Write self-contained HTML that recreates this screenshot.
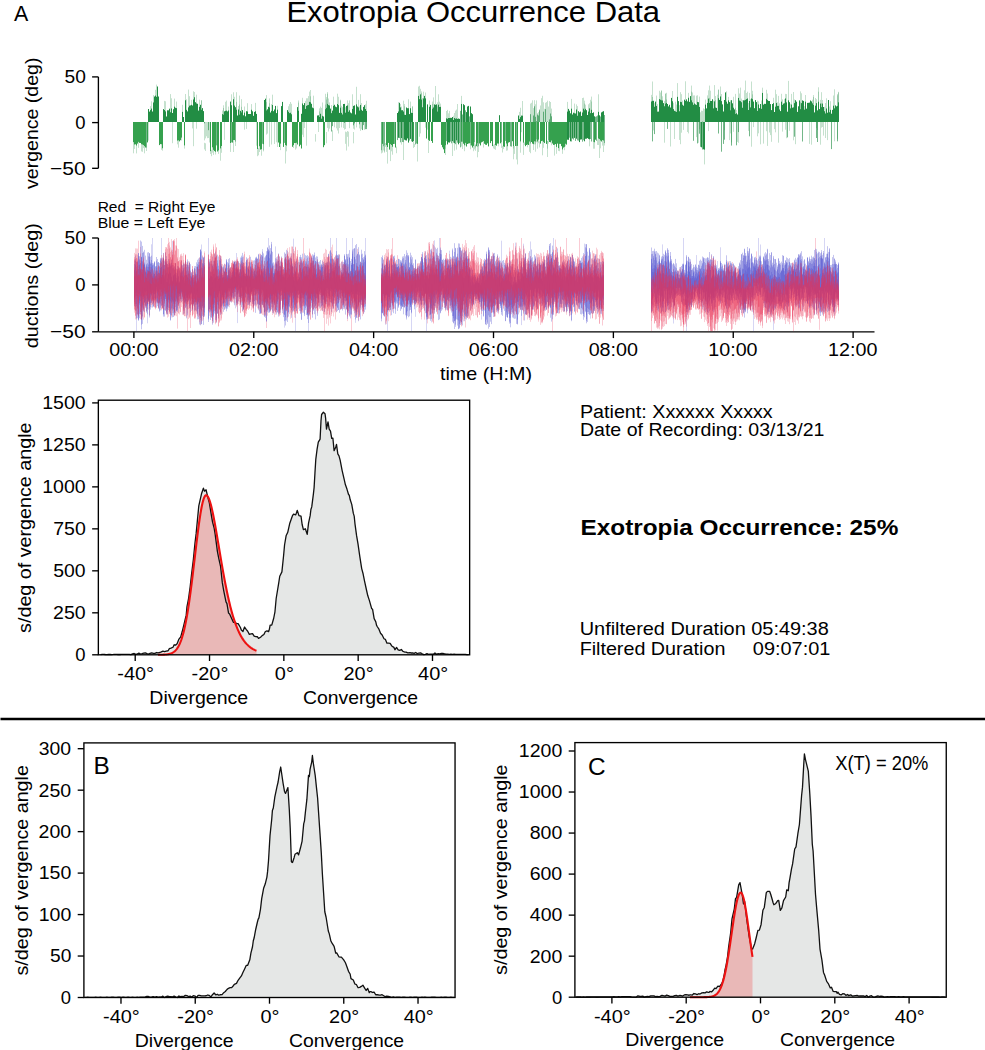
<!DOCTYPE html>
<html><head><meta charset="utf-8"><style>
html,body{margin:0;padding:0;background:#fff;}
svg{display:block;}
text{font-family:"Liberation Sans", sans-serif;}
</style></head><body>
<svg width="985" height="1050" viewBox="0 0 985 1050">
<rect width="985" height="1050" fill="#fff"/>
<text transform="translate(14.09,20.8) scale(0.96,1)" font-size="22.3" font-weight="normal" fill="#000" xml:space="preserve">A</text>
<text transform="translate(286.43,22.2) scale(1.05,1)" font-size="29.51" font-weight="normal" fill="#000" xml:space="preserve">Exotropia Occurrence Data</text>
<line x1="98.4" y1="76.9" x2="98.4" y2="168.3" stroke="#000" stroke-width="1.35" />
<line x1="92.1" y1="76.9" x2="98.4" y2="76.9" stroke="#000" stroke-width="1.35" />
<text transform="translate(64.47,83.24) scale(1.04,1)" font-size="18.44" font-weight="normal" fill="#000" xml:space="preserve">50</text>
<line x1="92.1" y1="122.6" x2="98.4" y2="122.6" stroke="#000" stroke-width="1.35" />
<text transform="translate(75.37,128.94) scale(1,1)" font-size="18.44" font-weight="normal" fill="#000" xml:space="preserve">0</text>
<line x1="92.1" y1="168.3" x2="98.4" y2="168.3" stroke="#000" stroke-width="1.35" />
<text transform="translate(50.09,174.64) scale(1.14,1)" font-size="18.44" font-weight="normal" fill="#000" xml:space="preserve">−50</text>
<text transform="translate(37.9,189) rotate(-90) scale(1.06,1)" font-size="18.44" xml:space="preserve">vergence (deg)</text>
<line x1="98.4" y1="238" x2="98.4" y2="331.8" stroke="#000" stroke-width="1.35" />
<line x1="98.4" y1="331.8" x2="874.5" y2="331.8" stroke="#000" stroke-width="1.35" />
<line x1="92.1" y1="238" x2="98.4" y2="238" stroke="#000" stroke-width="1.35" />
<text transform="translate(64.47,244.34) scale(1.04,1)" font-size="18.44" font-weight="normal" fill="#000" xml:space="preserve">50</text>
<line x1="92.1" y1="284.9" x2="98.4" y2="284.9" stroke="#000" stroke-width="1.35" />
<text transform="translate(75.37,291.24) scale(1,1)" font-size="18.44" font-weight="normal" fill="#000" xml:space="preserve">0</text>
<line x1="92.1" y1="331.8" x2="98.4" y2="331.8" stroke="#000" stroke-width="1.35" />
<text transform="translate(50.09,338.14) scale(1.14,1)" font-size="18.44" font-weight="normal" fill="#000" xml:space="preserve">−50</text>
<text transform="translate(38.1,348.19) rotate(-90) scale(1.07,1)" font-size="18.44" xml:space="preserve">ductions (deg)</text>
<line x1="133.9" y1="331.8" x2="133.9" y2="338.1" stroke="#000" stroke-width="1.35" />
<text transform="translate(109.18,356.2) scale(1.07,1)" font-size="18.44" font-weight="normal" fill="#000" xml:space="preserve">00:00</text>
<line x1="253.77" y1="331.8" x2="253.77" y2="338.1" stroke="#000" stroke-width="1.35" />
<text transform="translate(229.05,356.2) scale(1.07,1)" font-size="18.44" font-weight="normal" fill="#000" xml:space="preserve">02:00</text>
<line x1="373.64" y1="331.8" x2="373.64" y2="338.1" stroke="#000" stroke-width="1.35" />
<text transform="translate(348.92,356.2) scale(1.07,1)" font-size="18.44" font-weight="normal" fill="#000" xml:space="preserve">04:00</text>
<line x1="493.51" y1="331.8" x2="493.51" y2="338.1" stroke="#000" stroke-width="1.35" />
<text transform="translate(468.79,356.2) scale(1.07,1)" font-size="18.44" font-weight="normal" fill="#000" xml:space="preserve">06:00</text>
<line x1="613.38" y1="331.8" x2="613.38" y2="338.1" stroke="#000" stroke-width="1.35" />
<text transform="translate(588.66,356.2) scale(1.07,1)" font-size="18.44" font-weight="normal" fill="#000" xml:space="preserve">08:00</text>
<line x1="733.25" y1="331.8" x2="733.25" y2="338.1" stroke="#000" stroke-width="1.35" />
<text transform="translate(708.24,356.2) scale(1.07,1)" font-size="18.44" font-weight="normal" fill="#000" xml:space="preserve">10:00</text>
<line x1="853.12" y1="331.8" x2="853.12" y2="338.1" stroke="#000" stroke-width="1.35" />
<text transform="translate(828.11,356.2) scale(1.07,1)" font-size="18.44" font-weight="normal" fill="#000" xml:space="preserve">12:00</text>
<text transform="translate(440,380.2) scale(1.07,1)" font-size="18.44" font-weight="normal" fill="#000" xml:space="preserve">time (H:M)</text>
<text transform="translate(97.65,212.1) scale(1.05,1)" font-size="14.8" font-weight="normal" fill="#000" xml:space="preserve">Red  = Right Eye</text>
<text transform="translate(97.63,227.8) scale(1.07,1)" font-size="14.8" font-weight="normal" fill="#000" xml:space="preserve">Blue = Left Eye</text>
<text transform="translate(579.92,417.6) scale(1.07,1)" font-size="18.44" font-weight="normal" fill="#000" xml:space="preserve">Patient: Xxxxxx Xxxxx</text>
<text transform="translate(579.93,436.2) scale(1.06,1)" font-size="18.44" font-weight="normal" fill="#000" xml:space="preserve">Date of Recording: 03/13/21</text>
<text transform="translate(580.51,534.6) scale(1.1,1)" font-size="22.12" font-weight="bold" fill="#000" xml:space="preserve">Exotropia Occurrence: 25%</text>
<text transform="translate(579.7,635.3) scale(1.08,1)" font-size="18.44" font-weight="normal" fill="#000" xml:space="preserve">Unfiltered Duration 05:49:38</text>
<text transform="translate(579.63,654.7) scale(1.07,1)" font-size="18.44" font-weight="normal" fill="#000" xml:space="preserve">Filtered Duration</text>
<text transform="translate(752.81,654.7) scale(1.08,1)" font-size="18.44" font-weight="normal" fill="#000" xml:space="preserve">09:07:01</text>
<line x1="0.5" y1="719" x2="985" y2="719" stroke="#000" stroke-width="2.3" />
<path d="M100.55,654.8 L100.55,654.59 L102.15,654.43 L103.75,654.44 L105.35,654.51 L106.95,654.53 L108.55,654.49 L110.15,654.48 L111.75,654.53 L113.35,654.45 L114.95,654.31 L116.55,654.34 L118.15,654.5 L120,654.48 L121.35,654.46 L122.95,654.4 L124.55,654.35 L126.15,654.28 L127.75,654.32 L129.35,654.29 L130.95,654.62 L132.55,653.81 L134.15,653.45 L135.75,654.39 L137.35,653.81 L138.95,653.12 L140,653.97 L142.15,653.72 L143.75,653.22 L145.35,652.95 L146.95,653.7 L148.55,654.1 L150,653.46 L151.75,652.84 L153.35,653.34 L154.95,653.36 L156.55,652.52 L158.15,652.88 L160,652.51 L161.35,651.86 L162.95,651.06 L164.55,651.54 L166.15,651.12 L168.1,650.76 L169.35,648.69 L170.95,648.19 L173,647.27 L174.15,644.77 L175.75,645.01 L177.1,643.76 L178.95,639.06 L180.7,636.91 L182.15,631.8 L183.75,625.3 L185.35,618.69 L186.2,615.17 L186.95,606.86 L188.55,598.55 L190.15,586.83 L191.6,573.74 L193.35,559.54 L194.95,543.3 L196.1,533.91 L198.8,505.82 L199.75,501.68 L201.5,493.8 L203.4,488.21 L204.55,491.17 L206.1,489.81 L207.9,497.53 L209.35,502.89 L211.5,516.1 L212.55,522.13 L214.15,528.05 L215.1,533.8 L217.35,551.1 L218.7,558.08 L220.55,566.27 L222.3,582.66 L223.75,590.83 L226,601.95 L226.95,603.55 L228.55,613.14 L229.6,614.08 L231.75,618.83 L233.35,622.35 L235,622.07 L236.55,623.67 L238.15,623.57 L240.4,627.5 L241.35,630.01 L242.95,631.49 L244.55,626.99 L246.15,629.45 L247.7,631.29 L249.35,634.33 L250.95,633.98 L252.55,633.69 L254.15,636.21 L254.9,636.39 L255.75,636.58 L257.35,636.74 L258.5,638.34 L260.55,637.21 L262.15,635.65 L263.9,634.52 L265.35,631.5 L266.95,630.95 L268.55,631.69 L269.4,629.12 L270.15,625.19 L271.75,625.09 L273.7,618.25 L274.95,611.8 L276.2,598.24 L278.7,583.11 L279.75,576.24 L281.9,571.89 L283.6,555.46 L284.55,544.99 L286.1,535.8 L287.75,532.34 L289.8,523.23 L290.95,520.09 L292.55,515.57 L293.5,514.16 L295.75,514.88 L297.3,510.32 L298.95,515.63 L301,516.15 L302.15,524.48 L303.4,529.61 L305.35,528.78 L307.2,534.42 L308.55,523.16 L310.15,515.64 L310.9,509.46 L311.75,506.88 L313.35,494.34 L314.1,487.62 L314.95,473 L315.8,459.33 L317.1,449.18 L318.3,442.11 L320.1,439.06 L321,420.73 L321.6,414.5 L323.4,412.27 L325,413.64 L325.6,418.08 L326.5,429.13 L328,421.84 L329.2,429.12 L330.5,431.09 L331.7,438.35 L332.9,438.27 L334.1,450.69 L335.75,447.02 L336.5,444.44 L337.8,453.89 L339,455.8 L340.2,460.37 L342.15,470.62 L344.3,479.82 L345.35,484.58 L346.95,489.07 L348.55,494.52 L349.3,495.28 L350.15,499.57 L351.75,504.42 L353.35,513.4 L354.2,516.11 L354.95,523.55 L356.55,535.46 L358,543.93 L359.75,556.19 L361.7,568.56 L362.95,573.21 L364.55,581.12 L366.6,590.5 L367.75,595.53 L369.35,600.34 L371.6,608.41 L372.55,609.21 L374.15,618.58 L375.75,621.68 L376.5,625.18 L377.35,626.76 L378.95,629.17 L380.55,633.23 L382.15,635.03 L384,638.73 L385.35,639.33 L386.95,643.13 L388.55,643.15 L390.15,643.33 L391.75,645.92 L393.9,647.38 L394.95,649.76 L396.55,647.49 L398.15,649.78 L399.75,650.42 L401.35,649.47 L402.95,651.4 L403.8,651.72 L404.55,651.98 L406.15,652.14 L407.75,652.91 L410,652.73 L410.95,652.98 L412.55,652.8 L414.15,653.39 L415.75,652.52 L417.35,653.7 L418.95,653.02 L420.55,652.8 L422.15,653.76 L423.75,654.63 L425.35,654.31 L426.95,653.6 L428.55,654.37 L430,654.03 L431.75,654.06 L433.35,654.19 L434.95,652.97 L436.55,654.28 L438.15,653.68 L439.75,653.87 L441.35,653.5 L442.95,653.5 L444.55,653.81 L446.15,654.2 L447.75,654.12 L449.35,654.34 L450.95,654.23 L452.55,654.35 L454.15,654.18 L455.75,654.41 L457.35,654.39 L458.95,654.42 L460.55,654.45 L462.15,654.44 L463.75,654.43 L465.35,654.38 L466.95,654.54 L468.55,654.56 L468.55,654.8 Z" fill="#e5e7e6" stroke="none"/>
<path d="M158,654.8 L158,654.78 L158.5,654.77 L159,654.77 L159.5,654.76 L160,654.75 L160.5,654.75 L161,654.74 L161.5,654.72 L162,654.71 L162.5,654.69 L163,654.67 L163.5,654.65 L164,654.62 L164.5,654.59 L165,654.56 L165.5,654.52 L166,654.47 L166.5,654.42 L167,654.35 L167.5,654.28 L168,654.2 L168.5,654.1 L169,654 L169.5,653.87 L170,653.74 L170.5,653.58 L171,653.4 L171.5,653.2 L172,652.97 L172.5,652.72 L173,652.44 L173.5,652.12 L174,651.76 L174.5,651.37 L175,650.93 L175.5,650.44 L176,649.9 L176.5,649.31 L177,648.65 L177.5,647.93 L178,647.14 L178.5,646.27 L179,645.33 L179.5,644.3 L180,643.18 L180.5,641.96 L181,640.65 L181.5,639.23 L182,637.7 L182.5,636.06 L183,634.3 L183.5,632.42 L184,630.42 L184.5,628.28 L185,626.01 L185.5,623.61 L186,621.07 L186.5,618.4 L187,615.58 L187.5,612.64 L188,609.56 L188.5,606.34 L189,603 L189.5,599.53 L190,595.95 L190.5,592.25 L191,588.45 L191.5,584.55 L192,580.56 L192.5,576.5 L193,572.38 L193.5,568.2 L194,563.99 L194.5,559.76 L195,555.52 L195.5,551.29 L196,547.08 L196.5,542.93 L197,538.83 L197.5,534.81 L198,530.9 L198.5,527.1 L199,523.43 L199.5,519.92 L200,516.59 L200.5,513.44 L201,510.5 L201.5,507.78 L202,505.29 L202.5,503.06 L203,501.09 L203.5,499.39 L204,497.97 L204.5,496.85 L205,496.02 L205.5,495.49 L206,495.27 L206.5,495.33 L207,495.63 L207.5,496.15 L208,496.88 L208.5,497.83 L209,498.97 L209.5,500.3 L210,501.81 L210.5,503.49 L211,505.33 L211.5,507.31 L212,509.43 L212.5,511.68 L213,514.04 L213.5,516.51 L214,519.08 L214.5,521.72 L215,524.45 L215.5,527.23 L216,530.07 L216.5,532.96 L217,535.88 L217.5,538.83 L218,541.81 L218.5,544.79 L219,547.78 L219.5,550.77 L220,553.74 L220.5,556.71 L221,559.65 L221.5,562.57 L222,565.47 L222.5,568.32 L223,571.14 L223.5,573.92 L224,576.65 L224.5,579.33 L225,581.96 L225.5,584.54 L226,587.07 L226.5,589.54 L227,591.95 L227.5,594.3 L228,596.6 L228.5,598.83 L229,601 L229.5,603.11 L230,605.16 L230.5,607.15 L231,609.07 L231.5,610.94 L232,612.75 L232.5,614.49 L233,616.18 L233.5,617.81 L234,619.39 L234.5,620.91 L235,622.37 L235.5,623.78 L236,625.14 L236.5,626.45 L237,627.7 L237.5,628.91 L238,630.07 L238.5,631.19 L239,632.26 L239.5,633.29 L240,634.28 L240.5,635.22 L241,636.13 L241.5,636.99 L242,637.83 L242.5,638.62 L243,639.38 L243.5,640.11 L244,640.81 L244.5,641.47 L245,642.11 L245.5,642.72 L246,643.3 L246.5,643.85 L247,644.38 L247.5,644.88 L248,645.37 L248.5,645.82 L249,646.26 L249.5,646.68 L250,647.08 L250.5,647.46 L251,647.82 L251.5,648.16 L252,648.49 L252.5,648.8 L253,649.1 L253.5,649.38 L254,649.65 L254.5,649.91 L255,650.15 L255.5,650.38 L256,650.61 L256.5,650.82 L256.5,654.8 Z" fill="#e9b8b7" stroke="none"/>
<path d="M100.55,654.59 L102.15,654.43 L103.75,654.44 L105.35,654.51 L106.95,654.53 L108.55,654.49 L110.15,654.48 L111.75,654.53 L113.35,654.45 L114.95,654.31 L116.55,654.34 L118.15,654.5 L120,654.48 L121.35,654.46 L122.95,654.4 L124.55,654.35 L126.15,654.28 L127.75,654.32 L129.35,654.29 L130.95,654.62 L132.55,653.81 L134.15,653.45 L135.75,654.39 L137.35,653.81 L138.95,653.12 L140,653.97 L142.15,653.72 L143.75,653.22 L145.35,652.95 L146.95,653.7 L148.55,654.1 L150,653.46 L151.75,652.84 L153.35,653.34 L154.95,653.36 L156.55,652.52 L158.15,652.88 L160,652.51 L161.35,651.86 L162.95,651.06 L164.55,651.54 L166.15,651.12 L168.1,650.76 L169.35,648.69 L170.95,648.19 L173,647.27 L174.15,644.77 L175.75,645.01 L177.1,643.76 L178.95,639.06 L180.7,636.91 L182.15,631.8 L183.75,625.3 L185.35,618.69 L186.2,615.17 L186.95,606.86 L188.55,598.55 L190.15,586.83 L191.6,573.74 L193.35,559.54 L194.95,543.3 L196.1,533.91 L198.8,505.82 L199.75,501.68 L201.5,493.8 L203.4,488.21 L204.55,491.17 L206.1,489.81 L207.9,497.53 L209.35,502.89 L211.5,516.1 L212.55,522.13 L214.15,528.05 L215.1,533.8 L217.35,551.1 L218.7,558.08 L220.55,566.27 L222.3,582.66 L223.75,590.83 L226,601.95 L226.95,603.55 L228.55,613.14 L229.6,614.08 L231.75,618.83 L233.35,622.35 L235,622.07 L236.55,623.67 L238.15,623.57 L240.4,627.5 L241.35,630.01 L242.95,631.49 L244.55,626.99 L246.15,629.45 L247.7,631.29 L249.35,634.33 L250.95,633.98 L252.55,633.69 L254.15,636.21 L254.9,636.39 L255.75,636.58 L257.35,636.74 L258.5,638.34 L260.55,637.21 L262.15,635.65 L263.9,634.52 L265.35,631.5 L266.95,630.95 L268.55,631.69 L269.4,629.12 L270.15,625.19 L271.75,625.09 L273.7,618.25 L274.95,611.8 L276.2,598.24 L278.7,583.11 L279.75,576.24 L281.9,571.89 L283.6,555.46 L284.55,544.99 L286.1,535.8 L287.75,532.34 L289.8,523.23 L290.95,520.09 L292.55,515.57 L293.5,514.16 L295.75,514.88 L297.3,510.32 L298.95,515.63 L301,516.15 L302.15,524.48 L303.4,529.61 L305.35,528.78 L307.2,534.42 L308.55,523.16 L310.15,515.64 L310.9,509.46 L311.75,506.88 L313.35,494.34 L314.1,487.62 L314.95,473 L315.8,459.33 L317.1,449.18 L318.3,442.11 L320.1,439.06 L321,420.73 L321.6,414.5 L323.4,412.27 L325,413.64 L325.6,418.08 L326.5,429.13 L328,421.84 L329.2,429.12 L330.5,431.09 L331.7,438.35 L332.9,438.27 L334.1,450.69 L335.75,447.02 L336.5,444.44 L337.8,453.89 L339,455.8 L340.2,460.37 L342.15,470.62 L344.3,479.82 L345.35,484.58 L346.95,489.07 L348.55,494.52 L349.3,495.28 L350.15,499.57 L351.75,504.42 L353.35,513.4 L354.2,516.11 L354.95,523.55 L356.55,535.46 L358,543.93 L359.75,556.19 L361.7,568.56 L362.95,573.21 L364.55,581.12 L366.6,590.5 L367.75,595.53 L369.35,600.34 L371.6,608.41 L372.55,609.21 L374.15,618.58 L375.75,621.68 L376.5,625.18 L377.35,626.76 L378.95,629.17 L380.55,633.23 L382.15,635.03 L384,638.73 L385.35,639.33 L386.95,643.13 L388.55,643.15 L390.15,643.33 L391.75,645.92 L393.9,647.38 L394.95,649.76 L396.55,647.49 L398.15,649.78 L399.75,650.42 L401.35,649.47 L402.95,651.4 L403.8,651.72 L404.55,651.98 L406.15,652.14 L407.75,652.91 L410,652.73 L410.95,652.98 L412.55,652.8 L414.15,653.39 L415.75,652.52 L417.35,653.7 L418.95,653.02 L420.55,652.8 L422.15,653.76 L423.75,654.63 L425.35,654.31 L426.95,653.6 L428.55,654.37 L430,654.03 L431.75,654.06 L433.35,654.19 L434.95,652.97 L436.55,654.28 L438.15,653.68 L439.75,653.87 L441.35,653.5 L442.95,653.5 L444.55,653.81 L446.15,654.2 L447.75,654.12 L449.35,654.34 L450.95,654.23 L452.55,654.35 L454.15,654.18 L455.75,654.41 L457.35,654.39 L458.95,654.42 L460.55,654.45 L462.15,654.44 L463.75,654.43 L465.35,654.38 L466.95,654.54 L468.55,654.56" fill="none" stroke="#111" stroke-width="1.3" stroke-linejoin="round"/>
<path d="M158,654.78 L158.5,654.77 L159,654.77 L159.5,654.76 L160,654.75 L160.5,654.75 L161,654.74 L161.5,654.72 L162,654.71 L162.5,654.69 L163,654.67 L163.5,654.65 L164,654.62 L164.5,654.59 L165,654.56 L165.5,654.52 L166,654.47 L166.5,654.42 L167,654.35 L167.5,654.28 L168,654.2 L168.5,654.1 L169,654 L169.5,653.87 L170,653.74 L170.5,653.58 L171,653.4 L171.5,653.2 L172,652.97 L172.5,652.72 L173,652.44 L173.5,652.12 L174,651.76 L174.5,651.37 L175,650.93 L175.5,650.44 L176,649.9 L176.5,649.31 L177,648.65 L177.5,647.93 L178,647.14 L178.5,646.27 L179,645.33 L179.5,644.3 L180,643.18 L180.5,641.96 L181,640.65 L181.5,639.23 L182,637.7 L182.5,636.06 L183,634.3 L183.5,632.42 L184,630.42 L184.5,628.28 L185,626.01 L185.5,623.61 L186,621.07 L186.5,618.4 L187,615.58 L187.5,612.64 L188,609.56 L188.5,606.34 L189,603 L189.5,599.53 L190,595.95 L190.5,592.25 L191,588.45 L191.5,584.55 L192,580.56 L192.5,576.5 L193,572.38 L193.5,568.2 L194,563.99 L194.5,559.76 L195,555.52 L195.5,551.29 L196,547.08 L196.5,542.93 L197,538.83 L197.5,534.81 L198,530.9 L198.5,527.1 L199,523.43 L199.5,519.92 L200,516.59 L200.5,513.44 L201,510.5 L201.5,507.78 L202,505.29 L202.5,503.06 L203,501.09 L203.5,499.39 L204,497.97 L204.5,496.85 L205,496.02 L205.5,495.49 L206,495.27 L206.5,495.33 L207,495.63 L207.5,496.15 L208,496.88 L208.5,497.83 L209,498.97 L209.5,500.3 L210,501.81 L210.5,503.49 L211,505.33 L211.5,507.31 L212,509.43 L212.5,511.68 L213,514.04 L213.5,516.51 L214,519.08 L214.5,521.72 L215,524.45 L215.5,527.23 L216,530.07 L216.5,532.96 L217,535.88 L217.5,538.83 L218,541.81 L218.5,544.79 L219,547.78 L219.5,550.77 L220,553.74 L220.5,556.71 L221,559.65 L221.5,562.57 L222,565.47 L222.5,568.32 L223,571.14 L223.5,573.92 L224,576.65 L224.5,579.33 L225,581.96 L225.5,584.54 L226,587.07 L226.5,589.54 L227,591.95 L227.5,594.3 L228,596.6 L228.5,598.83 L229,601 L229.5,603.11 L230,605.16 L230.5,607.15 L231,609.07 L231.5,610.94 L232,612.75 L232.5,614.49 L233,616.18 L233.5,617.81 L234,619.39 L234.5,620.91 L235,622.37 L235.5,623.78 L236,625.14 L236.5,626.45 L237,627.7 L237.5,628.91 L238,630.07 L238.5,631.19 L239,632.26 L239.5,633.29 L240,634.28 L240.5,635.22 L241,636.13 L241.5,636.99 L242,637.83 L242.5,638.62 L243,639.38 L243.5,640.11 L244,640.81 L244.5,641.47 L245,642.11 L245.5,642.72 L246,643.3 L246.5,643.85 L247,644.38 L247.5,644.88 L248,645.37 L248.5,645.82 L249,646.26 L249.5,646.68 L250,647.08 L250.5,647.46 L251,647.82 L251.5,648.16 L252,648.49 L252.5,648.8 L253,649.1 L253.5,649.38 L254,649.65 L254.5,649.91 L255,650.15 L255.5,650.38 L256,650.61 L256.5,650.82" fill="none" stroke="#ee1111" stroke-width="2.1" stroke-linejoin="round"/>
<rect x="98.35" y="400.2" width="371.3" height="254.6" fill="none" stroke="#000" stroke-width="1.35"/>
<line x1="92.15" y1="654.8" x2="98.35" y2="654.8" stroke="#000" stroke-width="1.35" />
<text transform="translate(75.37,661.14) scale(1,1)" font-size="18.44" font-weight="normal" fill="#000" xml:space="preserve">0</text>
<line x1="92.15" y1="612.82" x2="98.35" y2="612.82" stroke="#000" stroke-width="1.35" />
<text transform="translate(53.12,619.16) scale(1.06,1)" font-size="18.44" font-weight="normal" fill="#000" xml:space="preserve">250</text>
<line x1="92.15" y1="570.83" x2="98.35" y2="570.83" stroke="#000" stroke-width="1.35" />
<text transform="translate(53.32,577.18) scale(1.05,1)" font-size="18.44" font-weight="normal" fill="#000" xml:space="preserve">500</text>
<line x1="92.15" y1="528.85" x2="98.35" y2="528.85" stroke="#000" stroke-width="1.35" />
<text transform="translate(53.21,535.19) scale(1.06,1)" font-size="18.44" font-weight="normal" fill="#000" xml:space="preserve">750</text>
<line x1="92.15" y1="486.87" x2="98.35" y2="486.87" stroke="#000" stroke-width="1.35" />
<text transform="translate(42.2,493.21) scale(1.06,1)" font-size="18.44" font-weight="normal" fill="#000" xml:space="preserve">1000</text>
<line x1="92.15" y1="444.88" x2="98.35" y2="444.88" stroke="#000" stroke-width="1.35" />
<text transform="translate(42.2,451.23) scale(1.06,1)" font-size="18.44" font-weight="normal" fill="#000" xml:space="preserve">1250</text>
<line x1="92.15" y1="402.9" x2="98.35" y2="402.9" stroke="#000" stroke-width="1.35" />
<text transform="translate(42.2,409.24) scale(1.06,1)" font-size="18.44" font-weight="normal" fill="#000" xml:space="preserve">1500</text>
<line x1="135.21" y1="654.8" x2="135.21" y2="661" stroke="#000" stroke-width="1.35" />
<text transform="translate(117.3,680) scale(1.08,1)" font-size="18.44" font-weight="normal" fill="#000" xml:space="preserve">-40°</text>
<line x1="209.53" y1="654.8" x2="209.53" y2="661" stroke="#000" stroke-width="1.35" />
<text transform="translate(191.62,680) scale(1.08,1)" font-size="18.44" font-weight="normal" fill="#000" xml:space="preserve">-20°</text>
<line x1="283.85" y1="654.8" x2="283.85" y2="661" stroke="#000" stroke-width="1.35" />
<text transform="translate(274.87,680) scale(1.08,1)" font-size="18.44" font-weight="normal" fill="#000" xml:space="preserve">0°</text>
<line x1="358.17" y1="654.8" x2="358.17" y2="661" stroke="#000" stroke-width="1.35" />
<text transform="translate(343.51,680) scale(1.08,1)" font-size="18.44" font-weight="normal" fill="#000" xml:space="preserve">20°</text>
<line x1="432.49" y1="654.8" x2="432.49" y2="661" stroke="#000" stroke-width="1.35" />
<text transform="translate(418.11,680) scale(1.08,1)" font-size="18.44" font-weight="normal" fill="#000" xml:space="preserve">40°</text>
<text transform="translate(149.34,703.6) scale(1.06,1)" font-size="18.44" font-weight="normal" fill="#000" xml:space="preserve">Divergence</text>
<text transform="translate(302.97,703.6) scale(1.05,1)" font-size="18.44" font-weight="normal" fill="#000" xml:space="preserve">Convergence</text>
<text transform="translate(30.6,632.89) rotate(-90) scale(1.07,1)" font-size="18.44" xml:space="preserve">s/deg of vergence angle</text>
<path d="M84.5,997.5 L84.5,997.39 L86.1,997.29 L87.7,997.21 L89.3,997.35 L90.9,997.32 L92.5,997.29 L94.1,997.31 L95.7,997.27 L97.3,997.34 L98.9,997.3 L100.5,997.16 L102.1,997.28 L103.7,997.3 L105.3,997.3 L106.9,997.22 L108.5,997.32 L110.1,997.29 L111.7,997.19 L113.3,997.21 L114.9,997.29 L116.5,997.34 L118.1,997.21 L119.7,997.2 L121.3,997.3 L122.9,997.2 L124.5,997.26 L126.1,997.28 L127.7,997.11 L129.3,997.24 L130.9,997.29 L132.5,997.24 L134.1,997.29 L135.7,997.3 L137.3,997.25 L138.9,997.28 L140,997.26 L142.1,997.18 L143.7,997.08 L145.3,996.97 L146.9,996.42 L148.5,996.51 L150,997.04 L151.7,997.01 L153.3,996.72 L154.9,997.07 L156.5,996.69 L158.1,997.1 L160,996.9 L161.3,997.11 L162.9,996.15 L164.5,997.5 L166.1,996.62 L167.7,996.03 L169.3,996.7 L170.9,996.59 L172.5,996.83 L174.1,996.11 L175.7,996.9 L177.3,997.5 L178.9,995.93 L180,996.66 L182.1,996.34 L183.7,996.56 L185.3,995.36 L186.9,995.66 L188.5,996.53 L190.1,996.17 L191.7,997.1 L193.3,995.65 L195,996.03 L196.5,997.5 L198.1,995.47 L199.7,995.35 L201.3,995.85 L202.9,995.81 L205,995.96 L206.1,995.76 L207.7,995.01 L209.3,995.45 L210.9,996.89 L212,995.26 L214.1,993.06 L215.7,994.81 L217.3,994.27 L218.9,995.25 L220,994.76 L222.1,994.68 L223.7,992.71 L225.3,991.48 L227.1,989.35 L228.5,988.33 L230.1,987.64 L231.7,987.58 L233.3,985.74 L234.3,984.38 L236.5,983.41 L238.1,980.29 L239.7,978.09 L241.4,975.89 L242.9,972.46 L244.5,969.16 L246.2,965.45 L247.7,965.27 L249.8,959.78 L250.9,953.16 L252.5,946.77 L253.3,940.75 L254.1,938.06 L255.7,929.49 L257.3,922.5 L258.1,919.35 L258.9,917.83 L260.5,909.03 L261.7,898.63 L263.7,887.92 L265.2,884.03 L266.9,877.07 L267.6,871.42 L268.5,860.69 L270,835.59 L271.7,819.52 L272.4,810.48 L273.3,807.97 L274.8,797.16 L277.1,786.05 L278.1,781.98 L279.7,771.57 L280.7,767.03 L283.1,783.29 L284.5,791.42 L285.5,793.4 L287.9,787.55 L289.3,809.43 L290.2,827.79 L291.4,861.82 L292.5,862.47 L294.1,857.67 L295,854.32 L297.3,852.7 L298.6,854.9 L300.5,847.78 L302.1,841.04 L303.7,823.92 L304.5,820.85 L305.3,813.17 L306.9,799.17 L308.5,775.39 L309.3,776.65 L310.1,769.12 L311.7,762.08 L312.4,755.48 L313.3,763 L315.2,775.41 L316.5,787.87 L317.6,798.02 L320,833.63 L321.3,853.13 L322.4,874.23 L324.8,911.76 L326.1,917.23 L328.3,930.98 L329.3,933.85 L330.9,941.04 L331.9,942.88 L334.1,946.3 L335.7,952.99 L336.7,952.91 L338.9,956.76 L340.5,957.22 L341.4,957.05 L343.7,959.88 L345.3,962.51 L346.2,964.74 L348.5,971.31 L350.1,973.98 L351,978.59 L353.3,980.02 L354.9,984 L356.5,984.7 L358.1,987.73 L359.7,987.42 L361.3,986.42 L362.9,985.17 L364.5,987.81 L366.1,990.5 L367.7,988.39 L369.3,992.69 L370,991.53 L370.9,991.62 L372.5,992.48 L374.1,992.09 L375.7,994.77 L377.3,994.74 L379.5,995.05 L380.5,995.19 L382.1,994.68 L383.7,995.69 L385.3,996.72 L386.7,996.11 L388.5,996.36 L390.1,996.85 L391.7,997.47 L393.3,996.95 L395,997.28 L396.5,997.22 L398.1,997.26 L399.7,997.27 L401.3,997.28 L402.9,997.19 L404.5,997.13 L406.1,997.29 L407.7,997.3 L409.3,997.26 L410.9,997.12 L412.5,997.33 L414.1,997.22 L415.7,997.08 L417.3,997.26 L418.9,997.32 L420.5,997.32 L422.1,997.07 L423.7,997.27 L425.3,997.18 L426.9,997.28 L428.5,997.28 L430.1,997.28 L431.7,997.2 L433.3,997.26 L434.9,997.22 L436.5,997.35 L438.1,997.37 L439.7,997.29 L441.3,997.22 L442.9,997.37 L444.5,997.27 L446.1,997.26 L447.7,997.28 L449.3,997.35 L450.9,997.18 L452.5,997.39 L454.5,997.37 L454.5,997.5 Z" fill="#e5e7e6" stroke="none"/>
<path d="M84.5,997.39 L86.1,997.29 L87.7,997.21 L89.3,997.35 L90.9,997.32 L92.5,997.29 L94.1,997.31 L95.7,997.27 L97.3,997.34 L98.9,997.3 L100.5,997.16 L102.1,997.28 L103.7,997.3 L105.3,997.3 L106.9,997.22 L108.5,997.32 L110.1,997.29 L111.7,997.19 L113.3,997.21 L114.9,997.29 L116.5,997.34 L118.1,997.21 L119.7,997.2 L121.3,997.3 L122.9,997.2 L124.5,997.26 L126.1,997.28 L127.7,997.11 L129.3,997.24 L130.9,997.29 L132.5,997.24 L134.1,997.29 L135.7,997.3 L137.3,997.25 L138.9,997.28 L140,997.26 L142.1,997.18 L143.7,997.08 L145.3,996.97 L146.9,996.42 L148.5,996.51 L150,997.04 L151.7,997.01 L153.3,996.72 L154.9,997.07 L156.5,996.69 L158.1,997.1 L160,996.9 L161.3,997.11 L162.9,996.15 L164.5,997.5 L166.1,996.62 L167.7,996.03 L169.3,996.7 L170.9,996.59 L172.5,996.83 L174.1,996.11 L175.7,996.9 L177.3,997.5 L178.9,995.93 L180,996.66 L182.1,996.34 L183.7,996.56 L185.3,995.36 L186.9,995.66 L188.5,996.53 L190.1,996.17 L191.7,997.1 L193.3,995.65 L195,996.03 L196.5,997.5 L198.1,995.47 L199.7,995.35 L201.3,995.85 L202.9,995.81 L205,995.96 L206.1,995.76 L207.7,995.01 L209.3,995.45 L210.9,996.89 L212,995.26 L214.1,993.06 L215.7,994.81 L217.3,994.27 L218.9,995.25 L220,994.76 L222.1,994.68 L223.7,992.71 L225.3,991.48 L227.1,989.35 L228.5,988.33 L230.1,987.64 L231.7,987.58 L233.3,985.74 L234.3,984.38 L236.5,983.41 L238.1,980.29 L239.7,978.09 L241.4,975.89 L242.9,972.46 L244.5,969.16 L246.2,965.45 L247.7,965.27 L249.8,959.78 L250.9,953.16 L252.5,946.77 L253.3,940.75 L254.1,938.06 L255.7,929.49 L257.3,922.5 L258.1,919.35 L258.9,917.83 L260.5,909.03 L261.7,898.63 L263.7,887.92 L265.2,884.03 L266.9,877.07 L267.6,871.42 L268.5,860.69 L270,835.59 L271.7,819.52 L272.4,810.48 L273.3,807.97 L274.8,797.16 L277.1,786.05 L278.1,781.98 L279.7,771.57 L280.7,767.03 L283.1,783.29 L284.5,791.42 L285.5,793.4 L287.9,787.55 L289.3,809.43 L290.2,827.79 L291.4,861.82 L292.5,862.47 L294.1,857.67 L295,854.32 L297.3,852.7 L298.6,854.9 L300.5,847.78 L302.1,841.04 L303.7,823.92 L304.5,820.85 L305.3,813.17 L306.9,799.17 L308.5,775.39 L309.3,776.65 L310.1,769.12 L311.7,762.08 L312.4,755.48 L313.3,763 L315.2,775.41 L316.5,787.87 L317.6,798.02 L320,833.63 L321.3,853.13 L322.4,874.23 L324.8,911.76 L326.1,917.23 L328.3,930.98 L329.3,933.85 L330.9,941.04 L331.9,942.88 L334.1,946.3 L335.7,952.99 L336.7,952.91 L338.9,956.76 L340.5,957.22 L341.4,957.05 L343.7,959.88 L345.3,962.51 L346.2,964.74 L348.5,971.31 L350.1,973.98 L351,978.59 L353.3,980.02 L354.9,984 L356.5,984.7 L358.1,987.73 L359.7,987.42 L361.3,986.42 L362.9,985.17 L364.5,987.81 L366.1,990.5 L367.7,988.39 L369.3,992.69 L370,991.53 L370.9,991.62 L372.5,992.48 L374.1,992.09 L375.7,994.77 L377.3,994.74 L379.5,995.05 L380.5,995.19 L382.1,994.68 L383.7,995.69 L385.3,996.72 L386.7,996.11 L388.5,996.36 L390.1,996.85 L391.7,997.47 L393.3,996.95 L395,997.28 L396.5,997.22 L398.1,997.26 L399.7,997.27 L401.3,997.28 L402.9,997.19 L404.5,997.13 L406.1,997.29 L407.7,997.3 L409.3,997.26 L410.9,997.12 L412.5,997.33 L414.1,997.22 L415.7,997.08 L417.3,997.26 L418.9,997.32 L420.5,997.32 L422.1,997.07 L423.7,997.27 L425.3,997.18 L426.9,997.28 L428.5,997.28 L430.1,997.28 L431.7,997.2 L433.3,997.26 L434.9,997.22 L436.5,997.35 L438.1,997.37 L439.7,997.29 L441.3,997.22 L442.9,997.37 L444.5,997.27 L446.1,997.26 L447.7,997.28 L449.3,997.35 L450.9,997.18 L452.5,997.39 L454.5,997.37" fill="none" stroke="#111" stroke-width="1.3" stroke-linejoin="round"/>
<rect x="83.9" y="742.9" width="371.15" height="254.6" fill="none" stroke="#000" stroke-width="1.35"/>
<line x1="77.7" y1="997.5" x2="83.9" y2="997.5" stroke="#000" stroke-width="1.35" />
<text transform="translate(60.87,1003.84) scale(1,1)" font-size="18.44" font-weight="normal" fill="#000" xml:space="preserve">0</text>
<line x1="77.7" y1="956.03" x2="83.9" y2="956.03" stroke="#000" stroke-width="1.35" />
<text transform="translate(49.97,962.38) scale(1.04,1)" font-size="18.44" font-weight="normal" fill="#000" xml:space="preserve">50</text>
<line x1="77.7" y1="914.57" x2="83.9" y2="914.57" stroke="#000" stroke-width="1.35" />
<text transform="translate(38.75,920.91) scale(1.06,1)" font-size="18.44" font-weight="normal" fill="#000" xml:space="preserve">100</text>
<line x1="77.7" y1="873.1" x2="83.9" y2="873.1" stroke="#000" stroke-width="1.35" />
<text transform="translate(38.75,879.44) scale(1.06,1)" font-size="18.44" font-weight="normal" fill="#000" xml:space="preserve">150</text>
<line x1="77.7" y1="831.63" x2="83.9" y2="831.63" stroke="#000" stroke-width="1.35" />
<text transform="translate(38.62,837.98) scale(1.06,1)" font-size="18.44" font-weight="normal" fill="#000" xml:space="preserve">200</text>
<line x1="77.7" y1="790.17" x2="83.9" y2="790.17" stroke="#000" stroke-width="1.35" />
<text transform="translate(38.62,796.51) scale(1.06,1)" font-size="18.44" font-weight="normal" fill="#000" xml:space="preserve">250</text>
<line x1="77.7" y1="748.7" x2="83.9" y2="748.7" stroke="#000" stroke-width="1.35" />
<text transform="translate(38.82,755.04) scale(1.05,1)" font-size="18.44" font-weight="normal" fill="#000" xml:space="preserve">300</text>
<line x1="120.98" y1="997.5" x2="120.98" y2="1003.7" stroke="#000" stroke-width="1.35" />
<text transform="translate(103.07,1023.4) scale(1.08,1)" font-size="18.44" font-weight="normal" fill="#000" xml:space="preserve">-40°</text>
<line x1="195.24" y1="997.5" x2="195.24" y2="1003.7" stroke="#000" stroke-width="1.35" />
<text transform="translate(177.33,1023.4) scale(1.08,1)" font-size="18.44" font-weight="normal" fill="#000" xml:space="preserve">-20°</text>
<line x1="269.5" y1="997.5" x2="269.5" y2="1003.7" stroke="#000" stroke-width="1.35" />
<text transform="translate(260.52,1023.4) scale(1.08,1)" font-size="18.44" font-weight="normal" fill="#000" xml:space="preserve">0°</text>
<line x1="343.76" y1="997.5" x2="343.76" y2="1003.7" stroke="#000" stroke-width="1.35" />
<text transform="translate(329.1,1023.4) scale(1.08,1)" font-size="18.44" font-weight="normal" fill="#000" xml:space="preserve">20°</text>
<line x1="418.02" y1="997.5" x2="418.02" y2="1003.7" stroke="#000" stroke-width="1.35" />
<text transform="translate(403.64,1023.4) scale(1.08,1)" font-size="18.44" font-weight="normal" fill="#000" xml:space="preserve">40°</text>
<text transform="translate(134.69,1046.5) scale(1.06,1)" font-size="18.44" font-weight="normal" fill="#000" xml:space="preserve">Divergence</text>
<text transform="translate(289.02,1046.5) scale(1.05,1)" font-size="18.44" font-weight="normal" fill="#000" xml:space="preserve">Convergence</text>
<text transform="translate(27.6,975.49) rotate(-90) scale(1.07,1)" font-size="18.44" xml:space="preserve">s/deg of vergence angle</text>
<text transform="translate(93.55,773.6) scale(1,1)" font-size="24.36" font-weight="normal" fill="#000" xml:space="preserve">B</text>
<path d="M575.5,997.2 L575.5,997.09 L577.1,996.97 L578.7,996.98 L580.3,997 L581.9,997.04 L583.5,997 L585.1,997.03 L586.7,996.93 L588.3,997.02 L589.9,997 L591.5,996.9 L593.1,996.9 L594.7,996.94 L596.3,996.98 L597.9,996.98 L600,996.97 L601.1,996.88 L602.7,996.88 L604.3,996.92 L605.9,996.91 L607.5,996.84 L609.1,996.82 L610.7,996.8 L612.3,996.86 L613.9,996.74 L615.5,996.81 L617.1,996.82 L618.7,996.76 L620.3,996.79 L621.9,996.69 L623.5,996.61 L625.1,996.58 L626.7,996.64 L628.3,996.7 L629.9,996.53 L631.5,996.98 L633.1,997.2 L634.7,997.19 L636.3,997.06 L637.9,995.83 L640,996.48 L641.1,996.34 L642.7,996.06 L644.3,997.1 L645.9,996.58 L647.5,996.44 L649.1,996.68 L650.7,995.88 L652.3,995.86 L653.9,995.84 L655.5,996.56 L657.1,996.45 L658.7,996.55 L660,996.38 L661.9,995.36 L663.5,995.74 L665.1,996.08 L666.7,995.15 L668.3,995.56 L669.9,996.4 L671.5,996.4 L673.1,996.33 L674.7,995.64 L676.3,995.42 L677.9,996.15 L680,995.33 L681.1,995.55 L682.7,996.08 L684.3,994.91 L685.9,994.65 L687.5,994.94 L689.1,995.25 L690,994.9 L690.7,994.87 L692.3,995.06 L693.9,993.52 L695.5,993.94 L697.1,994.56 L698.7,993.72 L700,994.02 L701.9,992.94 L703.5,992.73 L705.1,992.87 L706.7,991.8 L708.3,992.39 L709.1,992.42 L709.9,991.48 L711.5,991.92 L713.1,990.29 L714.7,988.2 L716,988.53 L717.9,986.08 L719.5,986.58 L721.7,983.62 L722.7,981.56 L724.3,974.3 L725.1,969.44 L725.9,966.25 L727.5,957.22 L728.6,946.97 L730.7,932.47 L732,918.84 L734.3,908.77 L735.5,898.7 L736.6,897.45 L738.7,884.94 L740,882.6 L742.3,895.19 L743.5,903.92 L744.6,901.28 L746.9,920.54 L748.3,930.41 L749.1,935.81 L749.9,940.31 L751.5,948.4 L752.6,949.05 L754.7,943.71 L756,938.5 L757.9,930.32 L759.4,930.09 L761.1,924.45 L762.9,910.25 L764.3,907.43 L766.3,892.64 L767.5,891.39 L769.7,891.42 L770.7,894.21 L772.3,899.79 L773.1,902.77 L773.9,904.74 L775.5,903.81 L777.7,900.71 L778.7,900.39 L780.3,910.4 L781.1,909.07 L781.9,907.85 L783.5,900.61 L785.7,896.97 L786.7,889.94 L788.3,890.71 L789.1,882.62 L789.9,878.4 L791.5,868.84 L792.6,863.89 L794.7,849.02 L796,846.87 L797.9,833.48 L799.4,824.49 L801.6,795.46 L802.5,787.14 L803.8,763.55 L804.4,754 L805.6,760.09 L807.5,767.83 L808.3,771.12 L809.8,793.67 L811,815.34 L812.3,844.21 L813.1,850.98 L813.9,865.31 L815.5,894.24 L816.6,907.18 L818.7,930.53 L820,949.07 L821.9,959.93 L823.5,972.39 L824.6,975.05 L826.7,981.4 L828.3,983.55 L830.3,987.9 L831.5,987.26 L833.1,991.35 L834.7,991.67 L836.3,991.54 L837.1,993.36 L837.9,992.09 L839.5,994.42 L841.1,994.95 L842.7,993.68 L844.3,993.78 L845.9,995.42 L847.5,994.48 L848.6,995.56 L850.7,994.79 L852.3,996.12 L853.9,995.78 L855.5,995.57 L857.1,995.4 L858.7,996.16 L860,995.78 L861.9,995.98 L863.5,995.95 L865.1,996.58 L866.7,995.54 L868.3,997.2 L869.9,996.13 L871.5,995.71 L873.1,997.11 L874.7,997.2 L876.3,996.33 L877.9,995.99 L879.5,996.5 L881.1,996.16 L882.7,996.39 L884.3,997.2 L885.9,996.82 L887.5,996.72 L889.1,996.85 L890.7,996.71 L892.3,996.64 L893.9,996.67 L895.5,996.77 L897.1,996.83 L898.7,996.59 L900,996.89 L901.9,996.89 L903.5,996.68 L905.1,996.92 L906.7,996.8 L908.3,996.86 L909.9,996.84 L911.5,996.89 L913.1,996.92 L914.7,996.95 L916.3,996.89 L917.9,996.92 L919.5,996.92 L921.1,996.86 L922.7,996.92 L924.3,996.94 L925.9,996.79 L927.5,996.96 L929.1,996.87 L930.7,996.89 L932.3,997.02 L933.9,996.9 L935.5,997.01 L937.1,996.99 L938.7,996.97 L940.3,997.07 L941.9,996.96 L943.5,996.95 L945.7,997.07 L945.7,997.2 Z" fill="#e5e7e6" stroke="none"/>
<path d="M690,997.2 L690,997.2 L690.5,997.2 L691,997.2 L691.5,997.2 L692,997.2 L692.5,997.2 L693,997.2 L693.5,997.2 L694,997.2 L694.5,997.2 L695,997.2 L695.5,997.2 L696,997.2 L696.5,997.2 L697,997.2 L697.5,997.2 L698,997.2 L698.5,997.2 L699,997.2 L699.5,997.2 L700,997.2 L700.5,997.19 L701,997.19 L701.5,997.19 L702,997.19 L702.5,997.18 L703,997.18 L703.5,997.18 L704,997.17 L704.5,997.16 L705,997.15 L705.5,997.14 L706,997.13 L706.5,997.11 L707,997.09 L707.5,997.06 L708,997.04 L708.5,997 L709,996.96 L709.5,996.91 L710,996.85 L710.5,996.77 L711,996.69 L711.5,996.59 L712,996.47 L712.5,996.34 L713,996.18 L713.5,996 L714,995.78 L714.5,995.54 L715,995.26 L715.5,994.93 L716,994.57 L716.5,994.15 L717,993.67 L717.5,993.14 L718,992.53 L718.5,991.86 L719,991.1 L719.5,990.25 L720,989.32 L720.5,988.28 L721,987.14 L721.5,985.89 L722,984.52 L722.5,983.03 L723,981.4 L723.5,979.65 L724,977.76 L724.5,975.73 L725,973.56 L725.5,971.25 L726,968.8 L726.5,966.21 L727,963.49 L727.5,960.64 L728,957.67 L728.5,954.58 L729,951.39 L729.5,948.12 L730,944.76 L730.5,941.35 L731,937.89 L731.5,934.41 L732,930.93 L732.5,927.46 L733,924.04 L733.5,920.67 L734,917.39 L734.5,914.22 L735,911.19 L735.5,908.32 L736,905.62 L736.5,903.13 L737,900.86 L737.5,898.83 L738,897.07 L738.5,895.57 L739,894.37 L739.5,893.47 L740,892.87 L740.5,892.59 L741,892.63 L741.5,893.02 L742,893.77 L742.5,894.86 L743,896.29 L743.5,898.04 L744,900.09 L744.5,902.42 L745,905.02 L745.5,907.84 L746,910.88 L746.5,914.1 L747,917.48 L747.5,920.97 L748,924.57 L748.5,928.23 L749,931.93 L749.5,935.64 L750,939.34 L750.5,943 L751,946.61 L751.5,950.14 L752,953.57 L752.5,956.88 L752.5,997.2 Z" fill="#e9b8b7" stroke="none"/>
<path d="M575.5,997.09 L577.1,996.97 L578.7,996.98 L580.3,997 L581.9,997.04 L583.5,997 L585.1,997.03 L586.7,996.93 L588.3,997.02 L589.9,997 L591.5,996.9 L593.1,996.9 L594.7,996.94 L596.3,996.98 L597.9,996.98 L600,996.97 L601.1,996.88 L602.7,996.88 L604.3,996.92 L605.9,996.91 L607.5,996.84 L609.1,996.82 L610.7,996.8 L612.3,996.86 L613.9,996.74 L615.5,996.81 L617.1,996.82 L618.7,996.76 L620.3,996.79 L621.9,996.69 L623.5,996.61 L625.1,996.58 L626.7,996.64 L628.3,996.7 L629.9,996.53 L631.5,996.98 L633.1,997.2 L634.7,997.19 L636.3,997.06 L637.9,995.83 L640,996.48 L641.1,996.34 L642.7,996.06 L644.3,997.1 L645.9,996.58 L647.5,996.44 L649.1,996.68 L650.7,995.88 L652.3,995.86 L653.9,995.84 L655.5,996.56 L657.1,996.45 L658.7,996.55 L660,996.38 L661.9,995.36 L663.5,995.74 L665.1,996.08 L666.7,995.15 L668.3,995.56 L669.9,996.4 L671.5,996.4 L673.1,996.33 L674.7,995.64 L676.3,995.42 L677.9,996.15 L680,995.33 L681.1,995.55 L682.7,996.08 L684.3,994.91 L685.9,994.65 L687.5,994.94 L689.1,995.25 L690,994.9 L690.7,994.87 L692.3,995.06 L693.9,993.52 L695.5,993.94 L697.1,994.56 L698.7,993.72 L700,994.02 L701.9,992.94 L703.5,992.73 L705.1,992.87 L706.7,991.8 L708.3,992.39 L709.1,992.42 L709.9,991.48 L711.5,991.92 L713.1,990.29 L714.7,988.2 L716,988.53 L717.9,986.08 L719.5,986.58 L721.7,983.62 L722.7,981.56 L724.3,974.3 L725.1,969.44 L725.9,966.25 L727.5,957.22 L728.6,946.97 L730.7,932.47 L732,918.84 L734.3,908.77 L735.5,898.7 L736.6,897.45 L738.7,884.94 L740,882.6 L742.3,895.19 L743.5,903.92 L744.6,901.28 L746.9,920.54 L748.3,930.41 L749.1,935.81 L749.9,940.31 L751.5,948.4 L752.6,949.05 L754.7,943.71 L756,938.5 L757.9,930.32 L759.4,930.09 L761.1,924.45 L762.9,910.25 L764.3,907.43 L766.3,892.64 L767.5,891.39 L769.7,891.42 L770.7,894.21 L772.3,899.79 L773.1,902.77 L773.9,904.74 L775.5,903.81 L777.7,900.71 L778.7,900.39 L780.3,910.4 L781.1,909.07 L781.9,907.85 L783.5,900.61 L785.7,896.97 L786.7,889.94 L788.3,890.71 L789.1,882.62 L789.9,878.4 L791.5,868.84 L792.6,863.89 L794.7,849.02 L796,846.87 L797.9,833.48 L799.4,824.49 L801.6,795.46 L802.5,787.14 L803.8,763.55 L804.4,754 L805.6,760.09 L807.5,767.83 L808.3,771.12 L809.8,793.67 L811,815.34 L812.3,844.21 L813.1,850.98 L813.9,865.31 L815.5,894.24 L816.6,907.18 L818.7,930.53 L820,949.07 L821.9,959.93 L823.5,972.39 L824.6,975.05 L826.7,981.4 L828.3,983.55 L830.3,987.9 L831.5,987.26 L833.1,991.35 L834.7,991.67 L836.3,991.54 L837.1,993.36 L837.9,992.09 L839.5,994.42 L841.1,994.95 L842.7,993.68 L844.3,993.78 L845.9,995.42 L847.5,994.48 L848.6,995.56 L850.7,994.79 L852.3,996.12 L853.9,995.78 L855.5,995.57 L857.1,995.4 L858.7,996.16 L860,995.78 L861.9,995.98 L863.5,995.95 L865.1,996.58 L866.7,995.54 L868.3,997.2 L869.9,996.13 L871.5,995.71 L873.1,997.11 L874.7,997.2 L876.3,996.33 L877.9,995.99 L879.5,996.5 L881.1,996.16 L882.7,996.39 L884.3,997.2 L885.9,996.82 L887.5,996.72 L889.1,996.85 L890.7,996.71 L892.3,996.64 L893.9,996.67 L895.5,996.77 L897.1,996.83 L898.7,996.59 L900,996.89 L901.9,996.89 L903.5,996.68 L905.1,996.92 L906.7,996.8 L908.3,996.86 L909.9,996.84 L911.5,996.89 L913.1,996.92 L914.7,996.95 L916.3,996.89 L917.9,996.92 L919.5,996.92 L921.1,996.86 L922.7,996.92 L924.3,996.94 L925.9,996.79 L927.5,996.96 L929.1,996.87 L930.7,996.89 L932.3,997.02 L933.9,996.9 L935.5,997.01 L937.1,996.99 L938.7,996.97 L940.3,997.07 L941.9,996.96 L943.5,996.95 L945.7,997.07" fill="none" stroke="#111" stroke-width="1.3" stroke-linejoin="round"/>
<path d="M690,997.2 L690.5,997.2 L691,997.2 L691.5,997.2 L692,997.2 L692.5,997.2 L693,997.2 L693.5,997.2 L694,997.2 L694.5,997.2 L695,997.2 L695.5,997.2 L696,997.2 L696.5,997.2 L697,997.2 L697.5,997.2 L698,997.2 L698.5,997.2 L699,997.2 L699.5,997.2 L700,997.2 L700.5,997.19 L701,997.19 L701.5,997.19 L702,997.19 L702.5,997.18 L703,997.18 L703.5,997.18 L704,997.17 L704.5,997.16 L705,997.15 L705.5,997.14 L706,997.13 L706.5,997.11 L707,997.09 L707.5,997.06 L708,997.04 L708.5,997 L709,996.96 L709.5,996.91 L710,996.85 L710.5,996.77 L711,996.69 L711.5,996.59 L712,996.47 L712.5,996.34 L713,996.18 L713.5,996 L714,995.78 L714.5,995.54 L715,995.26 L715.5,994.93 L716,994.57 L716.5,994.15 L717,993.67 L717.5,993.14 L718,992.53 L718.5,991.86 L719,991.1 L719.5,990.25 L720,989.32 L720.5,988.28 L721,987.14 L721.5,985.89 L722,984.52 L722.5,983.03 L723,981.4 L723.5,979.65 L724,977.76 L724.5,975.73 L725,973.56 L725.5,971.25 L726,968.8 L726.5,966.21 L727,963.49 L727.5,960.64 L728,957.67 L728.5,954.58 L729,951.39 L729.5,948.12 L730,944.76 L730.5,941.35 L731,937.89 L731.5,934.41 L732,930.93 L732.5,927.46 L733,924.04 L733.5,920.67 L734,917.39 L734.5,914.22 L735,911.19 L735.5,908.32 L736,905.62 L736.5,903.13 L737,900.86 L737.5,898.83 L738,897.07 L738.5,895.57 L739,894.37 L739.5,893.47 L740,892.87 L740.5,892.59 L741,892.63 L741.5,893.02 L742,893.77 L742.5,894.86 L743,896.29 L743.5,898.04 L744,900.09 L744.5,902.42 L745,905.02 L745.5,907.84 L746,910.88 L746.5,914.1 L747,917.48 L747.5,920.97 L748,924.57 L748.5,928.23 L749,931.93 L749.5,935.64 L750,939.34 L750.5,943 L751,946.61 L751.5,950.14 L752,953.57 L752.5,956.88" fill="none" stroke="#ee1111" stroke-width="2.1" stroke-linejoin="round"/>
<rect x="574.9" y="742.6" width="371.35" height="254.6" fill="none" stroke="#000" stroke-width="1.35"/>
<line x1="568.7" y1="997.2" x2="574.9" y2="997.2" stroke="#000" stroke-width="1.35" />
<text transform="translate(551.97,1003.54) scale(1,1)" font-size="18.44" font-weight="normal" fill="#000" xml:space="preserve">0</text>
<line x1="568.7" y1="956.17" x2="574.9" y2="956.17" stroke="#000" stroke-width="1.35" />
<text transform="translate(529.72,962.51) scale(1.06,1)" font-size="18.44" font-weight="normal" fill="#000" xml:space="preserve">200</text>
<line x1="568.7" y1="915.13" x2="574.9" y2="915.13" stroke="#000" stroke-width="1.35" />
<text transform="translate(529.78,921.48) scale(1.06,1)" font-size="18.44" font-weight="normal" fill="#000" xml:space="preserve">400</text>
<line x1="568.7" y1="874.1" x2="574.9" y2="874.1" stroke="#000" stroke-width="1.35" />
<text transform="translate(529.63,880.44) scale(1.06,1)" font-size="18.44" font-weight="normal" fill="#000" xml:space="preserve">600</text>
<line x1="568.7" y1="833.07" x2="574.9" y2="833.07" stroke="#000" stroke-width="1.35" />
<text transform="translate(529.74,839.41) scale(1.06,1)" font-size="18.44" font-weight="normal" fill="#000" xml:space="preserve">800</text>
<line x1="568.7" y1="792.03" x2="574.9" y2="792.03" stroke="#000" stroke-width="1.35" />
<text transform="translate(518.8,798.38) scale(1.06,1)" font-size="18.44" font-weight="normal" fill="#000" xml:space="preserve">1000</text>
<line x1="568.7" y1="751" x2="574.9" y2="751" stroke="#000" stroke-width="1.35" />
<text transform="translate(518.8,757.34) scale(1.06,1)" font-size="18.44" font-weight="normal" fill="#000" xml:space="preserve">1200</text>
<line x1="611.9" y1="997.2" x2="611.9" y2="1003.4" stroke="#000" stroke-width="1.35" />
<text transform="translate(593.99,1022.5) scale(1.08,1)" font-size="18.44" font-weight="normal" fill="#000" xml:space="preserve">-40°</text>
<line x1="686.2" y1="997.2" x2="686.2" y2="1003.4" stroke="#000" stroke-width="1.35" />
<text transform="translate(668.29,1022.5) scale(1.08,1)" font-size="18.44" font-weight="normal" fill="#000" xml:space="preserve">-20°</text>
<line x1="760.5" y1="997.2" x2="760.5" y2="1003.4" stroke="#000" stroke-width="1.35" />
<text transform="translate(751.52,1022.5) scale(1.08,1)" font-size="18.44" font-weight="normal" fill="#000" xml:space="preserve">0°</text>
<line x1="834.8" y1="997.2" x2="834.8" y2="1003.4" stroke="#000" stroke-width="1.35" />
<text transform="translate(820.14,1022.5) scale(1.08,1)" font-size="18.44" font-weight="normal" fill="#000" xml:space="preserve">20°</text>
<line x1="909.1" y1="997.2" x2="909.1" y2="1003.4" stroke="#000" stroke-width="1.35" />
<text transform="translate(894.72,1022.5) scale(1.08,1)" font-size="18.44" font-weight="normal" fill="#000" xml:space="preserve">40°</text>
<text transform="translate(625.34,1045.5) scale(1.06,1)" font-size="18.44" font-weight="normal" fill="#000" xml:space="preserve">Divergence</text>
<text transform="translate(780.02,1045.5) scale(1.05,1)" font-size="18.44" font-weight="normal" fill="#000" xml:space="preserve">Convergence</text>
<text transform="translate(507.3,974.89) rotate(-90) scale(1.07,1)" font-size="18.44" xml:space="preserve">s/deg of vergence angle</text>
<text transform="translate(587.88,774.8) scale(1,1)" font-size="24.36" font-weight="normal" fill="#000" xml:space="preserve">C</text>
<text transform="translate(835.24,769.5) scale(0.95,1)" font-size="19.3" font-weight="normal" fill="#000" xml:space="preserve">X(T) = 20%</text>
<path d="M133.5 142.2V153.3M134.5 144.6V148.9M136.5 145.6V153.4M138.5 141.9V147.8M141.5 144.3V151.4M142.5 144.6V151.8M143.5 145.1V148.1M144.5 146.2V153.3M146.5 147.7V151M148.5 122V140.6M150.5 106.1V110.1M151.5 101.3V108.5M153.5 95V102.4M155.5 89.8V95.5M156.5 84.6V96.8M161.5 144.3V149.8M162.5 148.3V150.7M164.5 100.9V110M165.5 101.3V111.3M170.5 94.1V112.2M171.5 98.3V108.4M172.5 122V143.2M174.5 98.6V106.6M176.5 101.6V108.1M177.5 140.7V144.3M178.5 140.4V147.7M181.5 137.7V140.5M182.5 104.8V111.8M184.5 145.5V148.6M185.5 94V100.2M186.5 99.3V109.8M188.5 89.6V107.3M189.5 96.2V105.6M191.5 99.9V104.8M192.5 122V128.4M193.5 91.3V99.4M193.5 122V146.2M194.5 92V97.2M196.5 94.7V103.4M196.5 122V128.7M199.5 99.7V106.8M201.5 100V109.6M201.5 100.7V109.6M204.5 122V140.4M204.5 142.8V149.4M205.5 122V138.4M205.5 143.3V150.9M206.5 122V136.3M207.5 122V138.2M208.5 122V138M209.5 122V142.5M210.5 151.2V154M211.5 149.9V156.2M212.5 147.4V152.7M213.5 149.9V154.9M215.5 151.8V154.5M218.5 150.5V153.9M220.5 148.5V160.7M221.5 146V152.8M222.5 110.5V114.1M223.5 105.3V114.6M223.5 108V114.6M224.5 122V139.9M225.5 101.8V110.8M226.5 100.6V110.5M228.5 106.6V110.4M230.5 143V151.9M231.5 94.3V105.2M233.5 92.3V99.2M233.5 140V152M234.5 96.8V105.5M235.5 141.7V146M236.5 101.9V109.6M236.5 92.2V109.6M238.5 106V109.4M239.5 104.5V114.5M239.5 95.6V114.5M241.5 106.8V112.3M241.5 99.2V112.3M244.5 106.5V112.5M244.5 122V129.7M246.5 122V128.9M247.5 103.2V111.4M251.5 104.1V109.7M255.5 102.9V111.2M256.5 122V145.7M257.5 149V156.2M258.5 148.1V155.3M259.5 146.3V152M261.5 149.3V155.7M263.5 144.4V151.4M263.5 144.4V150.2M266.5 102.1V110.3M266.5 95.1V110.3M266.5 122V134.6M267.5 122V133.6M269.5 103.3V107.3M269.5 98.4V107.3M269.5 122V146.8M271.5 104V110.8M271.5 122V144.5M272.5 94.7V105M274.5 122V144M276.5 122V142.3M277.5 105.8V109.6M277.5 122V147M280.5 143.7V150.1M285.5 145.1V163.5M286.5 145.7V151.3M288.5 106.3V111.7M289.5 104.1V113.1M290.5 102V112.7M291.5 103.8V114.2M293.5 145.2V148M295.5 143V149.6M296.5 142.8V148.4M298.5 100.5V110.6M298.5 102.7V110.6M302.5 97.8V103.4M302.5 122V134.7M303.5 122V137.1M304.5 122V128M305.5 100.9V108.9M306.5 98.3V105.8M306.5 122V145.7M307.5 98.3V105.2M308.5 96.1V104.9M309.5 91.6V101.8M310.5 96.3V102.2M310.5 90V102.2M313.5 95.7V108.2M315.5 134.1V141.6M318.5 122V132M319.5 111.4V116.9M319.5 108.4V116.9M320.5 106.6V113.7M321.5 107.9V118.6M322.5 102.5V115.8M325.5 104.6V109.1M325.5 93.8V109.1M326.5 97.1V107.7M326.5 99.6V107.7M326.5 132V143.3M327.5 93.7V103.8M327.5 92.1V103.8M327.5 122V127.9M328.5 98.5V105.1M328.5 122V131.5M329.5 102.4V105.4M329.5 122V128.7M331.5 105V113.1M331.5 122V127.5M332.5 130.2V141M333.5 96.7V105.8M334.5 122V127.3M336.5 122V128.3M337.5 93.7V104M337.5 122V130.5M338.5 96.8V105.1M338.5 122V133.5M339.5 122V128M340.5 100.6V107.5M340.5 99.7V107.5M341.5 105.8V112.8M341.5 122V127.4M342.5 107.2V114.4M343.5 122V127.9M344.5 122V129.6M345.5 107.2V112.6M345.5 122V129M345.5 131.6V143.8M346.5 132.2V150.5M347.5 100.4V105.4M347.5 131V136.8M348.5 103.2V111.7M348.5 131.7V146.5M349.5 100.4V110.2M349.5 122V128.2M352.5 94.3V108.9M353.5 122V128.7M353.5 132V143.3M354.5 122V129.6M356.5 86.8V104.3M356.5 122V127.4M358.5 99.9V107.3M359.5 106.4V110.5M359.5 122V128.4M360.5 94.2V104.9M360.5 122V130.9M361.5 103V109.7M361.5 122V129.2M362.5 122V130.2M364.5 122V129.8M365.5 104.2V109M366.5 100.8V110.9M366.5 122V126.8M381.5 150.3V153.4M382.5 143.9V152.6M383.5 146.3V150.4M384.5 145.4V152.7M384.5 145.4V151.5M385.5 143V146.9M386.5 145.2V151.9M387.5 147V163.6M390.5 144.2V161.1M391.5 145V151.3M392.5 146.8V154.7M396.5 146.7V153.2M398.5 102.1V111.4M400.5 104V107.3M401.5 106.6V110.2M401.5 138V144.6M403.5 100.7V111.4M403.5 142.2V160M404.5 104V114.6M404.5 106.3V114.6M408.5 99.3V108.2M410.5 101.6V108.2M412.5 106.2V113M412.5 106.7V113M413.5 141V147.9M414.5 143.8V147M417.5 143.9V161.5M418.5 86.6V95.9M419.5 85.8V99.1M419.5 122V136.7M420.5 88.8V94.3M420.5 122V133.4M421.5 93.2V99.4M421.5 91.4V99.4M422.5 98V107.2M423.5 91.7V98.4M425.5 92.5V98.3M425.5 122V127.7M427.5 122V129.6M428.5 139.9V153M429.5 100.6V106.7M432.5 103.9V108.6M432.5 101.6V108.6M433.5 97.4V107.4M435.5 86V104.9M437.5 106.3V111.4M437.5 102.3V111.4M438.5 94.3V104.6M439.5 101.7V107M440.5 103.6V106.8M445.5 145.4V148.8M445.5 145.4V155M446.5 111V118.3M447.5 109.9V118.7M448.5 113.3V118M449.5 110.9V118M452.5 141.1V156M453.5 115.8V120M454.5 113V118M454.5 143.2V150.6M455.5 110.7V118.7M456.5 109.6V118.3M456.5 140.4V149.6M457.5 104V119M461.5 95.9V103.9M461.5 141.8V146.5M462.5 141.8V149M464.5 145.4V151.2M465.5 142.9V145.3M470.5 143.2V145.3M470.5 143.2V149.3M473.5 145.9V151.2M474.5 142V149.4M475.5 144.6V147.6M475.5 144.6V150.8M477.5 143.4V147M477.5 143.4V157.3M478.5 146.3V152M483.5 141.1V147.5M493.5 144.8V148.4M494.5 143.9V149.1M495.5 145.1V149.8M498.5 143.7V146.3M501.5 142.3V147.9M502.5 145.8V152.5M503.5 146.5V149.1M506.5 143.6V150.7M507.5 146.3V150.4M513.5 146.3V148.5M513.5 146.3V159.3M514.5 146V153.9M516.5 146V159.5M517.5 145.9V164.4M519.5 111.9V118.9M520.5 107.8V117.1M520.5 141.5V152.7M521.5 122V132.2M522.5 101V115.6M523.5 142.7V154.9M524.5 142.4V145M527.5 144.5V147.3M529.5 141.6V151.8M530.5 103.6V122M530.5 143.6V153.2M531.5 102.8V122M532.5 109.7V122M532.5 100.3V109.7M533.5 108.1V122M533.5 144.2V150M534.5 100.2V122M534.5 141.4V144.4M535.5 104.3V122M535.5 141.7V144.3M535.5 141.7V151.7M536.5 100.4V122M536.5 139.4V142.3M537.5 113.1V122M537.5 141.6V148.7M538.5 112.1V122M538.5 139.7V143.2M539.5 109.1V122M539.5 141.3V147.4M540.5 105.5V122M541.5 98.2V122M542.5 103.2V122M542.5 95.8V103.2M542.5 140.8V155.3M543.5 102.3V122M543.5 141.9V147.8M544.5 108.8V122M545.5 102.8V122M546.5 102.1V122M547.5 100.7V122M547.5 140.9V148.6M547.5 140.9V157M548.5 106.6V122M548.5 140.2V143.5M549.5 101.1V122M550.5 102V122M551.5 108.6V122M551.5 140.6V145.3M554.5 144.8V155.6M556.5 146.9V153.8M558.5 148.1V150.9M559.5 143.9V151.2M562.5 149.5V153.8M564.5 146.9V150.2M565.5 143.8V146.4M567.5 101.9V111.5M571.5 98.9V108.6M574.5 103.6V113.2M576.5 104.4V109.4M577.5 106.1V115.7M582.5 98V112.4M583.5 97.7V108.6M584.5 100.7V110.2M584.5 103.6V110.2M585.5 104.7V108.8M588.5 104.3V111.5M589.5 103.2V108.3M589.5 139.4V146.3M590.5 99.8V113.1M591.5 101.5V109.7M591.5 96.6V109.7M593.5 141.9V148.7M594.5 142.3V148.7M597.5 139.5V144.9M598.5 94.3V111.8M598.5 138.6V145M599.5 139.1V158M600.5 140.6V148.3M602.5 140V145.6M603.5 140.6V152M604.5 143.1V145.5M651.5 94.9V101.4M652.5 97V100.8M652.5 81.5V100.8M653.5 122V130.4M654.5 103.1V106.7M656.5 95.6V105.9M657.5 104.1V111.6M659.5 90.8V99.1M660.5 92.5V99.7M661.5 90.8V100.2M661.5 90.4V100.2M662.5 96.3V100.4M664.5 100.9V106.2M664.5 122V142.7M665.5 93.4V103.5M665.5 93.9V103.5M666.5 99.5V103M666.5 92.8V103M670.5 122V146.5M672.5 91V101.2M673.5 102.9V109.1M674.5 122V139M675.5 101.7V111.3M676.5 104.5V111.9M677.5 83.1V96.8M679.5 105.2V111.2M679.5 122V139.9M680.5 92.2V101.8M680.5 122V144.2M681.5 94.2V102.1M681.5 122V132.7M682.5 100.6V104.7M683.5 122V129.9M685.5 81.3V100.9M687.5 122V132M688.5 92.9V97.7M688.5 122V133.4M691.5 91.6V100.2M691.5 85.6V100.2M692.5 92.5V102.3M693.5 95.5V104.8M694.5 95.4V103.4M696.5 95.7V105M696.5 122V137.1M697.5 95.3V101.9M698.5 122V142.8M699.5 96.6V106.9M699.5 122V129.3M700.5 112.3V122M701.5 110.7V122M702.5 110.9V122M703.5 108.4V122M704.5 109.1V122M704.5 149.7V164.4M705.5 99.6V104.5M707.5 95.4V102.9M708.5 90.3V98.5M708.5 122V131.1M709.5 97.9V102.9M709.5 85.6V102.9M710.5 90.7V101M713.5 100.7V108.3M714.5 85.1V101.3M715.5 100.1V107.4M715.5 96V107.4M717.5 94.7V110.8M718.5 89.8V98.1M718.5 89.5V98.1M720.5 86.5V96.4M721.5 94V101.1M724.5 122V130.2M726.5 91.3V101.6M728.5 96.9V100.3M729.5 122V140.1M730.5 100.1V110.2M730.5 101.7V110.2M730.5 122V133.4M731.5 122V142.4M733.5 96.8V107.6M733.5 122V131.8M735.5 107.9V113.9M735.5 93.9V113.9M736.5 110V113.2M737.5 122V141.9M738.5 88.3V97.9M738.5 122V142.8M739.5 93.5V100.5M740.5 87.6V101.1M741.5 98.6V102.2M742.5 100.1V107.7M744.5 90.3V100.3M745.5 80.6V99.8M746.5 93V99.1M747.5 91.7V98.4M748.5 103V110M748.5 122V130.9M749.5 92.9V101M750.5 99.1V107.3M751.5 81.5V98.4M751.5 122V146.7M752.5 94.4V99.1M752.5 90.8V99.1M753.5 122V127.1M757.5 100.6V110.9M757.5 122V136.3M758.5 101.3V104.4M758.5 122V133.3M760.5 122V144.3M761.5 100.5V108.8M762.5 87.7V92.9M763.5 122V143.6M766.5 89.8V98.8M766.5 122V131.2M767.5 93.5V100.1M767.5 122V145.9M769.5 122V132.5M770.5 122V135.1M771.5 122V141.8M773.5 97.8V103.1M774.5 122V129.1M775.5 89.7V106.6M775.5 122V132.3M776.5 94.2V102.9M777.5 102.3V105.9M778.5 95.9V105.8M778.5 122V142.7M779.5 103.3V109.4M781.5 93.8V101.6M782.5 99.4V104.9M782.5 122V131.6M784.5 99.1V103.2M785.5 93.9V98.4M785.5 122V129.7M786.5 94.1V102.3M786.5 122V138.2M788.5 80.9V100.3M789.5 122V130.8M790.5 103.8V108.3M791.5 93.9V104.5M793.5 92V107.3M793.5 122V140.3M794.5 99.4V103.1M795.5 122V144.2M800.5 102.3V109.1M800.5 91.4V109.1M801.5 93.3V103.1M804.5 106.2V109.6M805.5 95V101.6M809.5 122V143.9M811.5 122V144.7M812.5 99.7V103.3M813.5 95.1V105M813.5 97V105M815.5 98V105.6M816.5 99.2V103.1M816.5 122V128.2M817.5 122V130M818.5 91.7V101.6M818.5 87.3V101.6M820.5 99.9V103.5M820.5 122V144.7M821.5 103.3V107.1M821.5 92.2V107.1M821.5 122V127.6M822.5 100V103.5M822.5 122V127M823.5 122V135.6M824.5 106.8V111.2M825.5 103V113.4M825.5 122V138M826.5 98.3V108.4M827.5 122V140.1M829.5 106.5V112.2M830.5 101.2V109.8M833.5 95.5V105.6M834.5 89.3V108.3M834.5 122V141.3M837.5 95.3V105.8M837.5 94V105.8M837.5 122V138.8M838.5 91.8V102.2M838.5 92.5V102.2" stroke="#16873a" stroke-opacity="0.25" stroke-width="1" fill="none"/>
<path d="M146.5 122V147.7M204.5 122V123.3M208.5 122V130.2M216.5 122V145.4M231.5 122V142.4M235.5 122V141.7M262.5 122V143.8M284.5 122V142.9M331.5 122V131.5M332.5 122V126.1M344.5 122V122.9M353.5 122V125.3M354.5 122V123.4M359.5 122V124.3M362.5 122V130M363.5 122V125.1M365.5 122V129.2M366.5 122V129.1M381.5 122V150.3M383.5 122V146.3M384.5 122V145.4M394.5 122V143.9M397.5 122V140.1M399.5 122V138.1M400.5 122V142.3M402.5 122V142M403.5 122V142.2M409.5 122V140.5M411.5 122V141.3M415.5 122V144.4M416.5 122V143.5M446.5 122V141.1M450.5 122V141.6M451.5 122V143.3M453.5 122V142.7M455.5 122V144.2M457.5 122V142.7M459.5 122V143M460.5 110.8V122M460.5 122V147.3M462.5 114.5V122M462.5 122V141.8M465.5 110.3V122M469.5 116.4V122M470.5 122V143.2M474.5 122V142M478.5 122V146.3M501.5 122V142.3M505.5 122V140.9M510.5 122V146.3M511.5 122V146.6M516.5 122V146M530.5 114.2V122M530.5 122V143.6M533.5 115.5V122M534.5 106.3V122M535.5 116.8V122M536.5 121.2V122M536.5 122V139.4M537.5 114.6V122M538.5 115.5V122M539.5 110.3V122M543.5 111.7V122M545.5 109.2V122M547.5 121.5V122M548.5 122V140.2M549.5 119.4V122M550.5 113.5V122M551.5 116.3V122M569.5 122V137.7M571.5 122V141.5M573.5 122V139.6M575.5 122V140.9M577.5 122V140.4M578.5 122V140.6M582.5 122V141.7M583.5 122V140.2M590.5 122V139M591.5 122V141.5M593.5 122V141.9M595.5 116.8V122M596.5 116.3V122M596.5 122V140.8M597.5 115.5V122M600.5 116.5V122M604.5 115V122M604.5 122V143.1M652.5 122V141.4M654.5 122V134.1M667.5 122V128.9M693.5 122V140.8M697.5 122V143.4M699.5 122V133.7M700.5 122V146.8M702.5 121.6V122M702.5 122V149.5M718.5 122V133.5M721.5 122V151.7M723.5 122V143.9M724.5 122V139.7M731.5 122V145.6M736.5 122V145.3M738.5 122V132.1M749.5 122V136.3M787.5 122V137.4M794.5 122V136.7M802.5 122V141.5M816.5 122V138M817.5 122V142M831.5 122V149.1M837.5 122V141.3" stroke="#16873a" stroke-opacity="0.6" stroke-width="1" fill="none"/>
<path d="M133.5 122V142.2M134.5 122V144.6M135.5 122V144.3M136.5 122V145.6M137.5 122V143.6M138.5 122V141.9M139.5 122V142.9M140.5 122V143M141.5 122V144.3M142.5 122V144.6M143.5 122V145.1M144.5 122V146.2M145.5 122V147.5M147.5 122V142.4M159.5 122V145.1M160.5 122V144.1M161.5 122V144.3M162.5 122V148.3M177.5 122V140.7M178.5 122V140.4M179.5 122V141.4M180.5 122V140.2M181.5 122V137.7M184.5 122V145.5M210.5 122V151.2M212.5 122V147.4M213.5 122V149.9M214.5 122V151.1M215.5 122V151.8M217.5 122V151.5M218.5 122V150.5M220.5 122V148.5M221.5 122V146M230.5 122V143M232.5 122V142.6M233.5 122V140M234.5 122V140.1M257.5 122V149M259.5 122V146.3M260.5 122V149.6M261.5 122V149.3M263.5 122V144.4M278.5 122V142.5M279.5 122V147M280.5 122V143.7M283.5 122V146.9M285.5 122V145.1M286.5 122V145.7M292.5 122V146.8M293.5 122V145.2M294.5 122V143.1M295.5 122V143M296.5 122V142.8M297.5 122V144.5M299.5 122V146.3M300.5 122V144.8M301.5 122V148.5M323.5 122V147.2M324.5 122V145.2M382.5 122V143.9M386.5 122V145.2M387.5 122V147M388.5 122V142.9M389.5 122V149.6M390.5 122V144.2M391.5 122V145M392.5 122V146.8M393.5 122V144M395.5 122V147.5M413.5 122V141M417.5 122V143.9M426.5 122V138.5M428.5 122V139.9M429.5 122V140.9M431.5 122V141M432.5 122V142.9M441.5 122V144.9M442.5 122V147.3M443.5 122V149.3M444.5 122V153.1M445.5 122V145.4M461.5 122V141.8M463.5 122V143.7M464.5 122V145.4M465.5 122V142.9M466.5 122V146.5M467.5 122V144M468.5 122V143.5M469.5 122V143.3M471.5 122V145.5M472.5 122V147.5M473.5 122V145.9M476.5 122V146.2M477.5 122V143.4M479.5 122V143.5M480.5 122V145.4M481.5 122V142.4M482.5 122V141.8M483.5 122V141.1M484.5 122V143.8M485.5 122V144.7M486.5 122V144.9M487.5 122V143.4M488.5 122V146.4M490.5 122V143.1M491.5 122V141.1M492.5 122V146.1M495.5 122V145.1M496.5 122V145.7M497.5 122V143.5M498.5 122V143.7M500.5 122V143.3M503.5 122V146.5M504.5 122V146.8M506.5 122V143.6M507.5 122V146.3M508.5 122V142.6M509.5 122V142.1M512.5 122V141.2M513.5 122V146.3M515.5 122V146M517.5 122V145.9M520.5 122V141.5M523.5 122V142.7M525.5 122V146.2M526.5 122V145M527.5 122V144.5M528.5 122V145M529.5 122V141.6M531.5 122V142M532.5 122V143.6M533.5 122V144.2M534.5 122V141.4M535.5 122V141.7M537.5 122V141.6M538.5 122V139.7M540.5 122V143.6M541.5 122V141.1M542.5 122V140.8M543.5 122V141.9M544.5 122V143.1M546.5 122V143.9M549.5 122V142M550.5 122V142.3M551.5 122V140.6M552.5 122V143.5M553.5 122V144.9M554.5 122V144.8M555.5 122V144.1M556.5 122V146.9M557.5 122V143.6M558.5 122V148.1M559.5 122V143.9M560.5 122V143.9M561.5 122V146.2M562.5 122V149.5M563.5 122V147.6M564.5 122V146.9M565.5 122V143.8M566.5 122V144.6M594.5 122V142.3M595.5 122V139.7M598.5 122V138.6M599.5 122V139.1M600.5 122V140.6M601.5 122V141.5M602.5 122V140M603.5 122V140.6" stroke="#2a9c45" stroke-opacity="0.95" stroke-width="1" fill="none"/>
<path d="M148.5 109V122M149.5 111.6V122M150.5 110.1V122M151.5 108.5V122M152.5 111.5V122M153.5 102.4V122M154.5 96.5V122M155.5 95.5V122M156.5 96.8V122M157.5 86.5V122M158.5 96.5V122M163.5 109.1V122M164.5 110V122M165.5 111.3V122M166.5 116.5V122M167.5 110.3V122M168.5 110.3V122M169.5 108.7V122M170.5 112.2V122M171.5 108.4V122M172.5 113V122M173.5 109.2V122M174.5 106.6V122M175.5 107.8V122M176.5 108.1V122M182.5 111.8V122M183.5 117V122M185.5 100.2V122M186.5 109.8V122M187.5 111.4V122M188.5 107.3V122M189.5 105.6V122M190.5 105.4V122M191.5 104.8V122M192.5 105.5V122M193.5 99.4V122M194.5 97.2V122M195.5 102.2V122M196.5 103.4V122M197.5 103.8V122M198.5 110.6V122M199.5 106.8V122M200.5 104.8V122M201.5 109.6V122M202.5 108.1V122M203.5 111.1V122M222.5 114.1V122M223.5 114.6V122M224.5 111.3V122M225.5 110.8V122M226.5 110.5V122M227.5 111.4V122M228.5 110.4V122M230.5 101.6V122M231.5 105.2V122M233.5 99.2V122M234.5 105.5V122M235.5 107.2V122M236.5 109.6V122M237.5 115.5V122M238.5 109.4V122M239.5 114.5V122M240.5 110.8V122M241.5 112.3V122M242.5 110.1V122M243.5 115.3V122M244.5 112.5V122M245.5 116.3V122M246.5 111.2V122M247.5 111.4V122M248.5 114V122M249.5 114V122M250.5 114V122M251.5 109.7V122M252.5 111.3V122M253.5 115.8V122M254.5 111.9V122M255.5 111.2V122M256.5 113.9V122M264.5 100V122M265.5 98.7V122M266.5 110.3V122M267.5 109.3V122M268.5 106.8V122M269.5 107.3V122M270.5 112.5V122M271.5 110.8V122M272.5 105V122M273.5 111.2V122M274.5 109.5V122M275.5 105.9V122M276.5 113.1V122M277.5 109.6V122M281.5 106.1V122M282.5 101.9V122M287.5 110.1V122M288.5 111.7V122M289.5 113.1V122M290.5 112.7V122M291.5 114.2V122M297.5 107.1V122M298.5 110.6V122M301.5 113.8V122M302.5 103.4V122M303.5 105.1V122M304.5 103.1V122M305.5 108.9V122M306.5 105.8V122M307.5 105.2V122M308.5 104.9V122M309.5 101.8V122M310.5 102.2V122M311.5 103.8V122M312.5 107.6V122M313.5 108.2V122M317.5 115.5V122M318.5 115.3V122M319.5 116.9V122M320.5 113.7V122M321.5 118.6V122M322.5 115.8V122M323.5 116.5V122M325.5 109.1V122M326.5 107.7V122M327.5 103.8V122M328.5 105.1V122M329.5 105.4V122M330.5 108.6V122M331.5 113.1V122M332.5 110.6V122M333.5 105.8V122M334.5 104.8V122M335.5 106.6V122M336.5 107.2V122M337.5 104V122M338.5 105.1V122M339.5 112.9V122M340.5 107.5V122M341.5 112.8V122M342.5 114.4V122M343.5 104V122M344.5 103.9V122M345.5 112.6V122M346.5 105.9V122M347.5 105.4V122M348.5 111.7V122M349.5 110.2V122M350.5 112.5V122M351.5 113.3V122M352.5 108.9V122M353.5 105.9V122M354.5 105.4V122M355.5 114.5V122M356.5 104.3V122M357.5 106.5V122M358.5 107.3V122M359.5 110.5V122M360.5 104.9V122M361.5 109.7V122M362.5 110.8V122M363.5 106.9V122M364.5 105.2V122M365.5 109V122M366.5 110.9V122M397.5 113V122M398.5 111.4V122M398.5 122V137.8M399.5 102.8V122M400.5 107.3V122M401.5 110.2V122M401.5 122V138M402.5 110.2V122M403.5 111.4V122M404.5 114.6V122M404.5 122V139.7M405.5 114.9V122M405.5 122V140.3M406.5 107.5V122M406.5 122V140.5M407.5 108.2V122M407.5 122V138.4M408.5 108.2V122M408.5 122V142.6M409.5 114.1V122M410.5 108.2V122M410.5 122V138.9M411.5 112.8V122M412.5 113V122M412.5 122V141.9M418.5 95.9V122M419.5 99.1V122M420.5 94.3V122M421.5 99.4V122M422.5 107.2V122M423.5 98.4V122M424.5 95.9V122M425.5 98.3V122M427.5 104.4V122M429.5 106.7V122M430.5 104.9V122M432.5 108.6V122M433.5 107.4V122M434.5 104.4V122M435.5 104.9V122M436.5 104.4V122M437.5 111.4V122M438.5 104.6V122M439.5 107V122M440.5 106.8V122M446.5 118.3V122M447.5 118.7V122M447.5 122V144.4M448.5 118V122M448.5 122V142.4M449.5 118V122M449.5 122V142.6M450.5 117.8V122M451.5 117.9V122M452.5 117V122M452.5 122V141.1M453.5 120V122M454.5 118V122M454.5 122V143.2M455.5 118.7V122M456.5 118.3V122M456.5 122V140.4M457.5 119V122M458.5 118.5V122M458.5 122V144.3M459.5 118.9V122M461.5 103.9V122M463.5 104.2V122M464.5 105.2V122M466.5 112.1V122M467.5 106.5V122M468.5 105.9V122M470.5 106.5V122M471.5 113.2V122M472.5 114.2V122M499.5 115.2V122M518.5 115.5V122M519.5 118.9V122M520.5 117.1V122M521.5 115.6V122M522.5 115.6V122M567.5 111.5V122M567.5 122V139.7M568.5 108.9V122M568.5 122V139.8M569.5 110.7V122M570.5 113.3V122M570.5 122V141.3M571.5 108.6V122M572.5 114.5V122M572.5 122V138.5M573.5 112.7V122M574.5 113.2V122M574.5 122V137.9M575.5 113.5V122M576.5 109.4V122M576.5 122V138.7M577.5 115.7V122M578.5 111.2V122M579.5 112.3V122M579.5 122V142.1M580.5 111.6V122M580.5 122V139.6M581.5 115.9V122M581.5 122V139.4M582.5 112.4V122M583.5 108.6V122M584.5 110.2V122M584.5 122V141.3M585.5 108.8V122M585.5 122V138.8M586.5 110.2V122M586.5 122V138.7M587.5 115V122M587.5 122V138.1M588.5 111.5V122M588.5 122V138.9M589.5 108.3V122M589.5 122V139.4M590.5 113.1V122M591.5 109.7V122M592.5 113V122M593.5 112.4V122M594.5 116.3V122M598.5 111.8V122M599.5 115.3V122M601.5 112.4V122M602.5 111.7V122M603.5 111.2V122M651.5 101.4V122M652.5 100.8V122M653.5 100.8V122M654.5 106.7V122M655.5 101.6V122M656.5 105.9V122M657.5 111.6V122M658.5 111.6V122M659.5 99.1V122M660.5 99.7V122M661.5 100.2V122M662.5 100.4V122M663.5 103.1V122M664.5 106.2V122M665.5 103.5V122M666.5 103V122M667.5 104V122M668.5 106.4V122M669.5 104.8V122M670.5 107.5V122M671.5 97.9V122M672.5 101.2V122M673.5 109.1V122M674.5 110.8V122M675.5 111.3V122M676.5 111.9V122M677.5 96.8V122M678.5 101.1V122M679.5 111.2V122M680.5 101.8V122M681.5 102.1V122M682.5 104.7V122M683.5 105.7V122M684.5 99.7V122M685.5 100.9V122M686.5 99.4V122M687.5 101.4V122M688.5 97.7V122M689.5 101.9V122M690.5 96.1V122M691.5 100.2V122M692.5 102.3V122M693.5 104.8V122M694.5 103.4V122M695.5 104.4V122M696.5 105V122M697.5 101.9V122M698.5 102.2V122M699.5 106.9V122M701.5 122V147.3M703.5 122V149.3M704.5 122V149.7M705.5 104.5V122M706.5 108.4V122M707.5 102.9V122M708.5 98.5V122M709.5 102.9V122M710.5 101V122M711.5 101V122M712.5 99.3V122M713.5 108.3V122M714.5 101.3V122M715.5 107.4V122M716.5 107.9V122M717.5 110.8V122M718.5 98.1V122M719.5 99.9V122M720.5 96.4V122M721.5 101.1V122M722.5 104.4V122M723.5 111.5V122M724.5 100V122M725.5 92.4V122M726.5 101.6V122M727.5 103.7V122M728.5 100.3V122M729.5 102.1V122M730.5 110.2V122M731.5 100.2V122M732.5 103.3V122M733.5 107.6V122M734.5 109.4V122M735.5 113.9V122M736.5 113.2V122M737.5 114.5V122M738.5 97.9V122M739.5 100.5V122M740.5 101.1V122M741.5 102.2V122M742.5 107.7V122M743.5 100.3V122M744.5 100.3V122M745.5 99.8V122M746.5 99.1V122M747.5 98.4V122M748.5 110V122M749.5 101V122M750.5 107.3V122M751.5 98.4V122M752.5 99.1V122M753.5 101.6V122M754.5 108.2V122M755.5 100.1V122M756.5 102.1V122M757.5 110.9V122M758.5 104.4V122M759.5 108.2V122M760.5 104V122M761.5 108.8V122M762.5 92.9V122M763.5 104.6V122M764.5 103.8V122M765.5 103.9V122M766.5 98.8V122M767.5 100.1V122M768.5 100.9V122M769.5 101V122M770.5 104.1V122M771.5 110.1V122M772.5 104V122M773.5 103.1V122M774.5 112V122M775.5 106.6V122M776.5 102.9V122M777.5 105.9V122M778.5 105.8V122M779.5 109.4V122M780.5 111.1V122M781.5 101.6V122M782.5 104.9V122M783.5 103.6V122M784.5 103.2V122M785.5 98.4V122M786.5 102.3V122M787.5 111.7V122M788.5 100.3V122M789.5 102.2V122M790.5 108.3V122M791.5 104.5V122M792.5 107.7V122M793.5 107.3V122M794.5 103.1V122M795.5 100.2V122M796.5 101.7V122M797.5 111.9V122M798.5 106.3V122M799.5 100.4V122M800.5 109.1V122M801.5 103.1V122M802.5 100.4V122M803.5 100.9V122M804.5 109.6V122M805.5 101.6V122M806.5 108.7V122M807.5 102.9V122M808.5 102.8V122M809.5 102.6V122M810.5 100.5V122M811.5 101.4V122M812.5 103.3V122M813.5 105V122M814.5 112.4V122M815.5 105.6V122M816.5 103.1V122M817.5 110.4V122M818.5 101.6V122M819.5 109.1V122M820.5 103.5V122M821.5 107.1V122M822.5 103.5V122M823.5 107V122M824.5 111.2V122M825.5 113.4V122M826.5 108.4V122M827.5 112.7V122M828.5 100V122M829.5 112.2V122M830.5 109.8V122M831.5 113.7V122M832.5 109.9V122M833.5 105.6V122M834.5 108.3V122M835.5 105.4V122M836.5 106.4V122M837.5 105.8V122M838.5 102.2V122" stroke="#16873a" stroke-opacity="0.95" stroke-width="1" fill="none"/>
<path d="M136.5 286.3V331.2M137.5 261.5V284.8M139.5 284.8V301.1M147.5 285.7V323.3M150.5 284.8V297M151.5 244.3V283.3M152.5 238V283M155.5 283.8V307.3M160.5 260.5V284.1M161.5 238V283.8M163.5 277.1V285.1M167.5 277.8V289.8M168.5 289.8V296.4M172.5 241V290.3M173.5 268.3V290.1M176.5 275.2V289.5M179.5 288.7V300.8M194.5 287.9V309.8M196.5 289.3V290.8M197.5 288.3V293M201.5 244.5V287.6M202.5 287.7V298.2M203.5 288.5V302M208.5 238V288.4M210.5 287.3V298.4M212.5 287.1V288.9M213.5 289.4V296.8M215.5 268.5V288.1M219.5 284.4V288M232.5 271.3V282.9M235.5 283.3V308.3M236.5 253V283.1M237.5 281.3V323.1M240.5 282.5V296.9M241.5 277.7V281.6M243.5 255.5V283.6M246.5 279.3V280.6M250.5 280.5V285.7M260.5 282.1V302.1M262.5 249.1V282.8M268.5 238V283M270.5 281.8V281.8M274.5 265.3V284.2M275.5 246.4V285.8M280.5 271.1V281.8M281.5 262V282.6M284.5 287.3V327.6M285.5 286.8V306.4M293.5 238.6V287.4M294.5 285.5V304.3M295.5 287V331.2M301.5 286.4V292.1M308.5 285.8V331.2M309.5 268.6V288.2M313.5 257.5V286.6M314.5 282.6V285.5M318.5 283.2V306.6M320.5 274.1V283.9M321.5 265.1V285M325.5 280.6V284.4M327.5 274.9V282.8M330.5 238V281.1M334.5 270.2V284M336.5 238V282.3M339.5 279.1V282.4M346.5 238V284.6M351.5 284.6V313.9M352.5 238V283.8M355.5 283V322.8M356.5 283.3V308.9M360.5 283.3V293.7M364.5 283.4V290M365.5 238V283.5M381.5 268.6V287.9M382.5 266.8V287.2M385.5 287.1V324.8M387.5 285.6V331.2M395.5 285.3V302.7M397.5 285.5V287.4M398.5 285V299.2M411.5 284.2V331.2M412.5 283.7V285.2M415.5 283.5V316.8M423.5 284.4V289.4M425.5 282.1V284.3M426.5 283.5V331.2M428.5 286.5V291.7M431.5 283.6V322.4M434.5 240.3V284.4M438.5 274.2V283.8M439.5 238V282.4M440.5 281V285.7M443.5 282.3V296.9M445.5 259.5V284.6M446.5 284.9V305.8M449.5 250.7V283.9M461.5 285.7V293.3M463.5 281.9V287.8M468.5 274.4V287.7M475.5 272.9V288.2M478.5 280.6V286.9M479.5 288.9V290.5M481.5 289.9V319.6M482.5 288.7V301.7M485.5 287.5V295.3M497.5 284.7V310M499.5 256.7V287.1M500.5 287.8V288M501.5 240.7V287.4M503.5 287.8V302.3M508.5 291.2V298.4M509.5 291.9V293.2M515.5 242.6V290.1M516.5 283.5V291M521.5 288.7V325.1M523.5 243.7V287M528.5 257.8V284.6M530.5 241.5V283M531.5 282.4V286.2M535.5 280.2V282.4M536.5 281.5V284.7M538.5 272.4V283.2M539.5 261.6V283.1M540.5 262.5V283.5M541.5 279.1V284M542.5 266.8V286M544.5 283.9V295.8M547.5 281.2V301.7M548.5 257.1V280.4M549.5 280.6V305.9M553.5 238V282.9M555.5 257.7V282.9M560.5 285.5V295.4M568.5 256V285.7M574.5 280.2V286.3M584.5 243.6V284.4M585.5 244.2V284M590.5 283.7V318.6M594.5 283.4V310.4M596.5 273.4V285.1M600.5 275.4V286.6M602.5 286.7V293M653.5 279.2V282.1M662.5 244.4V283.3M669.5 280.9V297.4M671.5 280.9V287.1M673.5 283.3V323.5M679.5 267.2V283.9M683.5 238V283.9M684.5 279V285M686.5 284.5V331.2M687.5 277V285.2M688.5 268.2V284.2M694.5 277.9V283.3M696.5 255.1V281.7M701.5 283V302.6M704.5 282.9V303.9M706.5 284V301.5M708.5 284V304.4M715.5 272.9V284.4M717.5 261V282.8M719.5 276.4V283.2M720.5 247.3V282.6M721.5 269.7V283M726.5 283.4V289.6M730.5 282V308.6M732.5 264V282.1M734.5 267.4V283.8M736.5 284.6V290.6M738.5 283.9V312.4M739.5 268.3V284.6M740.5 284.6V297.2M745.5 281.3V307.3M746.5 271.6V280.9M752.5 279.2V311.9M753.5 278.4V331.2M755.5 259.6V277.3M758.5 238V277.9M760.5 244.5V278.5M773.5 285.3V329.9M775.5 283.8V284.6M791.5 281.5V303.3M792.5 265.3V281M801.5 280.3V299.7M803.5 260.7V280.7M804.5 268.6V280.2M806.5 271.9V282.1M813.5 281.5V307.8M818.5 281.8V282.8M823.5 281.7V303M824.5 238V281.9M834.5 284.3V315.5M835.5 283.3V284.7M836.5 283.7V293" stroke="#5a5ad2" stroke-opacity="0.25" stroke-width="1" fill="none"/>
<path d="M136.5 282.8V310.7M137.5 284.1V315.3M138.5 240.7V284.2M140.5 246.9V282.9M142.5 287V295.5M144.5 288.3V317.6M145.5 288.3V289.6M149.5 262V289M150.5 271.6V288.3M158.5 284.1V286.3M161.5 255.1V284.1M167.5 267.5V279.7M168.5 238V278.4M169.5 253.6V279.4M171.5 277.2V285M174.5 241.2V277.2M175.5 277.3V286.7M177.5 277.6V328.6M178.5 278V278.6M180.5 280.1V312.2M185.5 255.5V285.7M187.5 290.4V331.2M189.5 290.8V308.6M190.5 290.5V328M191.5 272V292.1M192.5 292V315.6M197.5 266.6V291.3M203.5 279.9V287.7M211.5 286.6V315.3M212.5 271.9V285.5M219.5 286.8V291.7M220.5 255.7V287.2M234.5 265.3V282.2M240.5 286.9V303.5M242.5 285.6V286.9M243.5 285.8V312.6M246.5 259.9V286.1M250.5 275V286.7M251.5 286.4V306.2M256.5 275.1V283M259.5 259.7V283M264.5 273.4V287.6M266.5 288.9V328M270.5 288.4V290.3M273.5 282.9V290.2M275.5 287.9V295.4M278.5 255V286.3M285.5 253.9V285M292.5 284.8V288.4M296.5 272.8V284.2M297.5 250.1V285.2M303.5 238V285.8M317.5 286.9V308.6M321.5 286.5V298.7M324.5 288.2V331.2M330.5 285.5V286M331.5 284.5V289.5M335.5 282.2V319.6M337.5 282.3V289.1M345.5 286.4V301.6M347.5 290V321.1M348.5 290.4V310.8M351.5 290.5V331.2M353.5 290.3V307.3M357.5 248.9V291.5M361.5 266.9V289.4M365.5 290.5V290.6M386.5 286.3V320.3M391.5 273V282.1M392.5 238V282.8M397.5 255.2V282.3M401.5 275.9V282.9M411.5 285.8V287.9M412.5 285.1V298.3M415.5 270.3V285.4M420.5 266.5V284.9M425.5 283.5V303.6M429.5 242V283.7M432.5 283.7V320.7M436.5 264.9V283.5M438.5 284.5V297.1M439.5 258.8V286.8M440.5 238V286.3M442.5 263.9V285.1M444.5 283.2V283.6M448.5 283.9V312.7M450.5 283.4V288.3M451.5 283.4V283.5M452.5 279.2V284.3M462.5 267V284.8M463.5 283.3V301.2M468.5 275.3V282.6M473.5 252.8V282.4M474.5 245.1V283.1M478.5 286.4V303M480.5 284.6V292.2M481.5 286V313.9M484.5 280.7V284.5M495.5 274V286.4M499.5 265.2V285.9M506.5 254.7V284.1M509.5 247.5V282M511.5 261.8V279.2M518.5 252.2V280.5M521.5 238V281.4M524.5 283.2V308.5M527.5 285.5V288.1M529.5 283.9V287.4M549.5 283.8V305M552.5 283V331.2M556.5 281.7V313.3M560.5 280.6V285.9M561.5 280.7V308.1M562.5 279.9V292.1M566.5 238V283.2M567.5 261.2V283.7M568.5 283.1V308.7M570.5 270.3V284.5M571.5 274.7V284.5M579.5 238V284.4M584.5 254.2V283.8M585.5 283.2V303.3M589.5 282.7V284.9M595.5 285.3V319.5M596.5 286.2V300.9M597.5 285.3V296.6M601.5 278.7V286.7M602.5 286.6V325.5M651.5 298.4V331.2M652.5 292.1V298.1M653.5 277.6V298.1M656.5 297.4V327.6M659.5 280.5V295.7M661.5 277V294.7M667.5 281.8V294.9M668.5 289.7V294.1M671.5 291.5V294.6M674.5 294.2V304.9M680.5 278.3V296.4M683.5 298.8V331.2M684.5 298.9V306.4M685.5 299.7V324.2M686.5 299.4V326.6M690.5 261.5V296.8M692.5 281.4V294.6M697.5 276.9V294.3M705.5 293.3V304.1M708.5 284.3V296.7M710.5 295.8V299.4M711.5 287.5V295.6M712.5 287.4V295.9M713.5 261.4V295M715.5 270.8V295.4M717.5 295.6V330.6M727.5 294.7V315.8M737.5 283.2V295.7M741.5 277.2V293.6M743.5 281.8V293.2M747.5 273.4V292.2M748.5 292.1V305.7M750.5 293.3V306.8M756.5 251.4V293.3M758.5 294.6V321.7M773.5 279.3V299.5M774.5 269.6V299.7M778.5 298.2V313.5M779.5 299.6V302.6M780.5 299.3V305.5M781.5 299.8V307.2M785.5 297.5V324M789.5 294.5V324.2M792.5 266.8V292.8M793.5 291.9V331.2M795.5 272V293.3M797.5 285.2V293M799.5 283.9V291.6M801.5 290.2V292.1M809.5 292.6V321.5M812.5 275.1V293.3M815.5 238V291.7M818.5 292.1V318.8M819.5 292.4V329.8M824.5 292.6V311.6M826.5 292.8V297.4M827.5 276.4V293.3M829.5 263.7V293.4M834.5 276.8V296.1" stroke="#ea3052" stroke-opacity="0.25" stroke-width="1" fill="none"/>
<path d="M134.5 276.8V300.2M135.5 264.8V293.3M136.5 269.5V306.1M137.5 269.8V297.9M138.5 253V294M139.5 259.1V313.9M140.5 263.3V312M141.5 241.6V319.1M142.5 245.9V323.9M143.5 265.6V311.5M144.5 265.2V291.2M145.5 269.7V305.7M146.5 259.8V305.7M147.5 266.7V314.3M148.5 270.4V300.4M149.5 253.3V308.4M150.5 271.9V294.4M151.5 263.4V302.6M152.5 277.7V300.4M153.5 264.7V306.6M154.5 273.8V294.3M155.5 278.4V298.2M156.5 266V291.3M157.5 278.3V301.6M158.5 262.1V303.1M159.5 263.1V302.4M160.5 259.3V310.4M161.5 267.1V292.2M162.5 274.5V296.2M163.5 257.8V316.6M164.5 265V301.1M165.5 261.8V310.8M166.5 281.9V313.9M167.5 279.3V310.5M168.5 267.2V302.5M169.5 266.6V300.7M170.5 263.5V301.3M171.5 276.5V301.7M172.5 265V308.4M173.5 275.7V309M174.5 270V312.4M175.5 272.3V307.1M176.5 272.8V310.2M177.5 278.5V309.8M178.5 282.4V305.7M179.5 282.8V296.2M180.5 274.6V295.9M181.5 265.3V293.2M182.5 279.5V292.1M183.5 277.8V300.1M184.5 280.7V297.9M185.5 275V295.9M186.5 264.2V297.8M187.5 264.9V301.7M188.5 264.8V301.1M189.5 279.1V298.3M190.5 270.6V312.3M191.5 280.3V299.4M192.5 279.3V305.8M193.5 279.7V305.7M194.5 268.5V311.4M195.5 281.1V310.1M196.5 262.3V301.4M197.5 263.9V319.4M198.5 262.2V319.1M199.5 261.9V324.5M200.5 252.5V306.7M201.5 274.9V319.7M202.5 263.6V306.1M203.5 256.9V324.9M204.5 267.1V295.3M208.5 266.8V300.6M209.5 277.9V296.8M210.5 271.5V307M211.5 276.1V317.1M212.5 256.8V320.7M213.5 274V316.7M214.5 278.1V304.8M215.5 258V311.9M216.5 275.4V320.2M217.5 254.7V304.5M218.5 275.9V293.5M219.5 270.8V293.5M220.5 269.2V307.4M221.5 273.7V307.7M222.5 277.6V295.1M223.5 277.1V311.8M224.5 264V297.3M225.5 269.2V299.1M226.5 260V293.3M227.5 277.4V305.6M228.5 264.4V297.1M229.5 270.4V291.4M230.5 278.8V295.8M231.5 277.6V297.6M232.5 271.7V288.9M233.5 270.6V293.6M234.5 262.1V288M235.5 276.6V296.9M236.5 262V287.6M237.5 260.7V286.6M238.5 262.7V285.6M239.5 275.9V288.7M240.5 264.7V298.9M241.5 276.1V287.8M242.5 266.1V311.3M243.5 262.9V309.2M244.5 266.3V307.4M245.5 273.3V286.8M246.5 261.3V286.3M247.5 267.8V294.6M248.5 269.1V301.4M249.5 276.6V287.6M250.5 266.1V292.7M251.5 262V291.9M252.5 278.7V301.9M253.5 271.8V306.7M254.5 260.3V290M255.5 257.5V299.6M256.5 271.7V289M257.5 266.3V292.9M258.5 266.9V310.2M259.5 270.6V313.9M260.5 256.6V296.2M261.5 269.2V293.2M262.5 256.3V305.1M263.5 272.5V302.5M264.5 265.9V312.1M265.5 277.2V298.9M266.5 272.6V321.7M267.5 266V302.5M268.5 249.1V294.6M269.5 258.2V298.8M270.5 260.1V309.8M271.5 244.3V303.9M272.5 251.8V303.9M273.5 276.9V307.5M274.5 273.4V303.8M275.5 272.5V308.9M276.5 269V310.2M277.5 271.4V312.5M278.5 261.1V294.3M279.5 266.3V294.8M280.5 266.3V296.1M281.5 259.2V290.8M282.5 276.8V302.5M283.5 277V304.8M284.5 252.4V314.4M285.5 253.7V320.4M286.5 259.3V299.4M287.5 268V309.4M288.5 276.6V312.6M289.5 259.3V297.5M290.5 257.5V295.3M291.5 253.4V306M292.5 272.3V302.6M293.5 272.9V298.7M294.5 270.5V297.5M295.5 264V306.5M296.5 260.8V297.5M297.5 262.7V291.3M298.5 261.8V294.4M299.5 276.9V298.9M300.5 254.9V311.1M301.5 257.3V319.9M302.5 261.7V293.1M303.5 280.7V302.2M304.5 253.4V306.5M305.5 261.3V294.7M306.5 261.5V315M307.5 275.2V314.7M308.5 256.3V315.5M309.5 267.9V306.8M310.5 269.3V309.1M311.5 257.6V294.2M312.5 274.8V305.7M313.5 256V294M314.5 254.9V296.5M315.5 271.6V305.9M316.5 274.9V304.4M317.5 277.1V296.8M318.5 262.1V302.1M319.5 261.5V294.2M320.5 270.1V307.9M321.5 266.5V292M322.5 265.2V311.1M323.5 275.1V307.9M324.5 265.2V303M325.5 265V304M326.5 273.2V297.6M327.5 262.6V293.2M328.5 269.7V305.6M329.5 276.7V305.5M330.5 250V288.7M331.5 264.3V311.8M332.5 278V296.6M333.5 259.3V308.4M334.5 262.3V297.9M335.5 256.1V293.9M336.5 273.3V291.2M337.5 268V307.4M338.5 257.7V290.5M339.5 266.2V312.8M340.5 280.4V294.3M341.5 275.3V290.4M342.5 276.9V310.5M343.5 264.5V298.7M344.5 255.7V291.5M345.5 260.7V298.1M346.5 271.4V309.1M347.5 254.3V312.4M348.5 253.7V305.5M349.5 257.3V307.1M350.5 270.9V314.4M351.5 265V314.8M352.5 256.6V305.8M353.5 268.5V298.1M354.5 248.2V301.4M355.5 259.3V293.7M356.5 244V317.4M357.5 274V307.4M358.5 266.9V317.1M359.5 271.2V302.2M360.5 261.8V319.4M361.5 249.7V304.8M362.5 266.5V306.7M363.5 259.2V294.4M364.5 262.1V307M365.5 255.5V298.4M381.5 278.8V318.6M382.5 280.5V312.8M383.5 278.7V315.3M384.5 265.7V308.4M385.5 268.5V305.9M386.5 262.3V294.7M387.5 257V304.1M388.5 279.6V296.8M389.5 263.6V299M390.5 276.5V309.8M391.5 257.6V292.5M392.5 265.2V306.5M393.5 256.3V289.4M394.5 264.1V295M395.5 272.1V309.4M396.5 273.2V303.6M397.5 279.6V296.9M398.5 258.8V306.6M399.5 274.4V293.9M400.5 261.6V306.1M401.5 262.9V309.2M402.5 258.7V306.9M403.5 258.2V292.1M404.5 272.6V307.3M405.5 256.4V297M406.5 250.3V312.6M407.5 252.8V303.4M408.5 269.3V304.6M409.5 267.1V299.7M410.5 252.7V304.9M411.5 262.8V312.2M412.5 271.9V297.4M413.5 271.4V290.9M414.5 270.3V302.3M415.5 272.9V303.8M416.5 275.5V287.8M417.5 273.5V300.8M418.5 274V292.6M419.5 278.8V307.8M420.5 262.1V300.2M421.5 257.2V304.7M422.5 254.3V295.6M423.5 262.4V300.6M424.5 257.7V310.6M425.5 258.9V293.8M426.5 275.4V312.6M427.5 276.3V294.5M428.5 279V311.6M429.5 274.7V315.4M430.5 249.6V314.8M431.5 263.8V308.7M432.5 261V310M433.5 256.5V318.4M434.5 275.4V313.8M435.5 261.6V294.8M436.5 268.7V293.7M437.5 268.7V292.7M438.5 263V297.2M439.5 263.6V302.8M440.5 247.6V313.3M441.5 267.6V310.9M442.5 272.4V300.4M443.5 273V297.8M444.5 279.4V302.9M445.5 269.7V294.1M446.5 268.5V297.1M447.5 259.7V299.8M448.5 274.6V296.1M449.5 260.8V298M450.5 256.8V297.6M451.5 267.4V310.5M452.5 248.6V316.1M453.5 255.9V316M454.5 243.2V301.4M455.5 274.6V318.6M456.5 257.3V299.5M457.5 253.7V319.7M458.5 273.3V295.3M459.5 261.1V327.6M460.5 248V315.7M461.5 250.5V312.8M462.5 276.4V311.7M463.5 261.7V300.8M464.5 262.7V321.2M465.5 265.9V294.9M466.5 263.3V317.5M467.5 258.6V316.3M468.5 273.2V315.8M469.5 258.5V294.6M470.5 282.1V298.3M471.5 267.6V305.3M472.5 281.4V302.8M473.5 282.3V304.9M474.5 284.4V294.1M475.5 282V298.9M476.5 280.9V298.3M477.5 277.2V295.5M478.5 282.3V299.6M479.5 274.4V302.1M480.5 285.1V297.8M481.5 269.1V310.6M482.5 273V299.1M483.5 271V315.8M484.5 260.9V305.8M485.5 279.7V324.3M486.5 257.6V325.1M487.5 271.8V322.6M488.5 248.3V306.4M489.5 249.9V303.6M490.5 268.3V301M491.5 259.2V309.3M492.5 273.4V307.8M493.5 277.1V313.5M494.5 263.5V299.1M495.5 274.3V305.5M496.5 266.2V310.1M497.5 262.2V308.3M498.5 278V310.5M499.5 260.1V295.8M500.5 260.7V304.3M501.5 269.7V312M502.5 272V302.8M503.5 260V305.5M504.5 265V294.8M505.5 265.3V301.2M506.5 267V312.3M507.5 263.1V308.8M508.5 267.7V303.1M509.5 281.5V317.8M510.5 269.8V305M511.5 266.3V314.2M512.5 266.8V308.8M513.5 281.7V314M514.5 283.3V299.5M515.5 272.3V298.4M516.5 269.6V314M517.5 273.7V323.8M518.5 279.6V314.4M519.5 272.4V306.8M520.5 272.2V307.2M521.5 257.8V307.3M522.5 266.9V309.7M523.5 276.9V296.5M524.5 260.1V306.8M525.5 253.2V296.6M526.5 274.7V314M527.5 275.8V297.4M528.5 264V308.8M529.5 261.3V317.4M530.5 272V306.8M531.5 267.8V293.2M532.5 271.7V304.2M533.5 267.8V296.1M534.5 268.4V296.6M535.5 256.3V289M536.5 272.5V306.9M537.5 257.4V302.1M538.5 277.6V288.2M539.5 266.6V294.7M540.5 264.9V289.8M541.5 270.6V297.5M542.5 261.6V296.2M543.5 269.7V311M544.5 262.6V302.8M545.5 273.8V305.3M546.5 276.7V310M547.5 266.9V293.5M548.5 263.9V307.2M549.5 244V293.2M550.5 254.6V317.7M551.5 257.8V298.3M552.5 245.6V300.2M553.5 265.2V307M554.5 260V298.4M555.5 274.5V299.8M556.5 271.3V299.3M557.5 269.3V292.9M558.5 265.8V299M559.5 266.2V290.7M560.5 268.2V292.6M561.5 266.3V291.2M562.5 276.8V299.5M563.5 264.7V297.2M564.5 262.3V299.5M565.5 277.1V306.5M566.5 263.5V295.1M567.5 261.7V311.1M568.5 259.3V296.3M569.5 268.5V296.8M570.5 257.6V298.7M571.5 274.7V298.4M572.5 265.8V295.1M573.5 261V291.6M574.5 261.3V311.2M575.5 275.3V298.1M576.5 278.7V293.8M577.5 267.2V293.7M578.5 265.7V290.6M579.5 276.3V302.3M580.5 260.8V303.1M581.5 263.1V314.5M582.5 256.4V298.7M583.5 269.3V319.8M584.5 273.8V301M585.5 261.3V299.6M586.5 276.6V319.1M587.5 275.1V312M588.5 261.1V299.9M589.5 275.8V303.8M590.5 252.3V297.7M591.5 264.2V312.9M592.5 277.3V299.3M593.5 281.6V310.3M594.5 259.7V293M595.5 265.8V291.8M596.5 273.5V307.7M597.5 276.5V296.6M598.5 268V291.8M599.5 258.8V310.4M600.5 265.1V308.9M601.5 275.2V310.9M602.5 274.6V297.5M603.5 275.5V290.8M651.5 259.2V292.5M652.5 271.9V304.7M653.5 268.3V286.5M654.5 248.7V293.7M655.5 265.5V287.4M656.5 267.3V302.7M657.5 263V304.2M658.5 253.4V295.1M659.5 262.4V289.1M660.5 262.8V304.8M661.5 274.1V291M662.5 265.1V307M663.5 273.1V301.2M664.5 265.5V299M665.5 256.5V288.9M666.5 268.5V288.6M667.5 271.6V309.4M668.5 259.6V303M669.5 268.7V289.8M670.5 255.9V303.4M671.5 274.9V296.9M672.5 264.4V289.6M673.5 263.8V296.5M674.5 266.2V295.6M675.5 267.3V294.5M676.5 263.3V293.9M677.5 273.9V288.3M678.5 277.7V294.6M679.5 279.4V287.6M680.5 275.4V291.9M681.5 266V294.5M682.5 264.7V294.2M683.5 264.3V293.7M684.5 274.6V292.1M685.5 264.4V294M686.5 256.6V309.1M687.5 274.2V298.7M688.5 261.5V297.9M689.5 272V304.1M690.5 261.9V305.1M691.5 269.9V305.6M692.5 268.4V293.4M693.5 272.5V294.5M694.5 271.5V299M695.5 264.3V290.8M696.5 269.8V290.5M697.5 274.3V288.2M698.5 270.7V297.4M699.5 274.5V298.8M700.5 273.4V288.3M701.5 265.8V294.4M702.5 264.3V290.3M703.5 276.5V307.3M704.5 261.9V310.9M705.5 275.7V301.5M706.5 275V309.3M707.5 257.2V299.9M708.5 263.9V297.2M709.5 261.5V311M710.5 270V292.8M711.5 278V303.2M712.5 259.8V298.7M713.5 257.2V298.2M714.5 274.6V291.7M715.5 279.7V290.1M716.5 267.5V291.1M717.5 271.1V297.9M718.5 269.9V295.4M719.5 278.6V295.9M720.5 274.8V302.4M721.5 266.7V294.4M722.5 265.8V290.6M723.5 276.5V292.7M724.5 268.4V302.1M725.5 276.1V298.9M726.5 262V303.7M727.5 276.7V288.5M728.5 261.5V295M729.5 271.4V306.4M730.5 269.6V294.6M731.5 269.9V298.2M732.5 267.1V295.9M733.5 270.8V293.7M734.5 270.6V289.3M735.5 267.7V293.7M736.5 272.4V295.5M737.5 276V296.4M738.5 275.9V297.2M739.5 262.5V293.4M740.5 260.2V296.7M741.5 276V290.9M742.5 269.5V301.7M743.5 274V300.3M744.5 264.1V317.6M745.5 253V312.2M746.5 266.3V301.1M747.5 261.6V289.7M748.5 255.8V292.6M749.5 266.7V287.2M750.5 269.6V303.6M751.5 273.7V297.4M752.5 271.2V298.7M753.5 262.7V298.6M754.5 258.2V285.5M755.5 264.4V282.9M756.5 273.6V282.7M757.5 266.6V288.8M758.5 269.2V293.7M759.5 269.1V291.6M760.5 255.7V294.8M761.5 273.8V288M762.5 269.3V287.3M763.5 257.8V289.5M764.5 269V292.5M765.5 255.6V302.6M766.5 259.7V308.6M767.5 259.3V315M768.5 261.2V302.1M769.5 271V312M770.5 275.7V297.8M771.5 271.9V299.1M772.5 262.7V293.7M773.5 257.6V302.4M774.5 264V309.8M775.5 270.4V302.6M776.5 277.5V296.1M777.5 269.1V293.2M778.5 258.7V294.3M779.5 260.9V301.7M780.5 264.7V299M781.5 270.8V297.3M782.5 255.1V295.5M783.5 255.8V299.8M784.5 274.5V300.2M785.5 264.5V290.7M786.5 262.2V295.6M787.5 279.2V298.7M788.5 265.3V303M789.5 269.7V287.6M790.5 271.3V286.1M791.5 263.1V297.8M792.5 271V295.3M793.5 263.9V294.3M794.5 259.6V289.1M795.5 269.2V305.7M796.5 273.9V306.8M797.5 271.4V289.1M798.5 258.1V303.5M799.5 271.8V296.3M800.5 259.9V302.4M801.5 261.1V289.3M802.5 275V293.2M803.5 268.7V298.7M804.5 264.2V285M805.5 273.7V289.4M806.5 276.9V292.7M807.5 257.5V303.9M808.5 260.9V299.9M809.5 273.6V307M810.5 262.8V300.3M811.5 255.7V287.4M812.5 263.5V307.3M813.5 270.8V303.4M814.5 250V294.9M815.5 271.6V293.1M816.5 254.4V314.1M817.5 266.2V300.5M818.5 252.8V295.8M819.5 256.9V290.4M820.5 258.2V312.6M821.5 258.1V307.2M822.5 273.2V293M823.5 273.3V301.3M824.5 275.1V294.4M825.5 257.6V291.7M826.5 253.8V302.6M827.5 254V292M828.5 275.2V304.2M829.5 258.8V291.5M830.5 265V292.4M831.5 278V295M832.5 257.1V306.6M833.5 270.4V310.5M834.5 276V296.6M835.5 264V298.3M836.5 271.4V299.9M837.5 265V299.7M838.5 262.4V294.9" stroke="#5a5ad2" stroke-opacity="0.35" stroke-width="1" fill="none"/>
<path d="M134.5 260.4V302.3M135.5 258.8V296.6M136.5 262V318.2M137.5 260.6V308.2M138.5 276.6V320M139.5 256V293.8M140.5 269.1V295.8M141.5 256.7V307.7M142.5 253V307.5M143.5 252.6V297.1M144.5 262.5V312.1M145.5 272.4V308.1M146.5 266.6V291.1M147.5 269.6V304.5M148.5 267V300.9M149.5 256.8V306M150.5 262.6V309.6M151.5 266.9V295.5M152.5 276.6V298.8M153.5 270.4V306.5M154.5 274V291.2M155.5 266.5V299.7M156.5 270.8V301.4M157.5 259V302.3M158.5 273V292.1M159.5 276.3V310.5M160.5 268V307.7M161.5 267.1V305.7M162.5 275.2V294.6M163.5 269.1V299.9M164.5 265.3V306.4M165.5 270.6V310.2M166.5 261.3V301.1M167.5 282.4V314.5M168.5 274.2V299.4M169.5 262.6V299.7M170.5 265.3V320.6M171.5 260V315.1M172.5 268.2V310.6M173.5 275V301.3M174.5 274V314.9M175.5 267.8V301.3M176.5 281.8V299.3M177.5 270.7V302.6M178.5 276.5V297.1M179.5 270.7V296.4M180.5 273V299.1M181.5 269.9V302.3M182.5 275.6V295.4M183.5 264.2V309.5M184.5 282.8V302M185.5 278.4V308M186.5 267.2V295.4M187.5 277.8V297M188.5 277.8V298.6M189.5 263V308M190.5 276.3V293.5M191.5 276.3V292.6M192.5 278.1V309.2M193.5 275V299.7M194.5 266.2V306.7M195.5 274.2V304.8M196.5 266.8V294.9M197.5 259.8V309.5M198.5 264.9V308.8M199.5 257.6V300M200.5 249.4V309.5M201.5 276.5V324.1M202.5 268.1V306.3M203.5 258.1V308.2M204.5 274.1V315.6M208.5 260.8V319.6M209.5 261.8V295.1M210.5 275.6V320M211.5 276.2V311.4M212.5 265.2V324.7M213.5 279.6V308.3M214.5 273.7V302.8M215.5 277.9V319.9M216.5 268.7V309.4M217.5 263.3V297.2M218.5 256.5V305.4M219.5 260.1V291.1M220.5 256.1V311.5M221.5 264.1V290.7M222.5 277.8V295.4M223.5 266.8V303.4M224.5 271.6V302.5M225.5 267.5V294.5M226.5 263.1V308.5M227.5 275.2V290.9M228.5 270.3V290.2M229.5 268.6V305M230.5 267.3V299.6M231.5 273.2V290.4M232.5 272.3V293.2M233.5 264.6V298M234.5 272.2V288.4M235.5 272.3V288.8M236.5 267.6V288.1M237.5 268.6V302.8M238.5 273.8V290.1M239.5 274V296.7M240.5 263.7V304.9M241.5 271.4V287.3M242.5 257.3V290.2M243.5 267.5V295.3M244.5 273.7V301.2M245.5 276V297.6M246.5 263V287.5M247.5 274.6V302.3M248.5 269.2V297.8M249.5 270.3V302.5M250.5 267V301.9M251.5 269.1V291.1M252.5 268.1V291.2M253.5 276V305.8M254.5 273.4V288.1M255.5 274.2V289.4M256.5 257.7V300.2M257.5 258.6V289.1M258.5 254.7V308.3M259.5 269.1V299M260.5 254.3V313.4M261.5 254.9V312.8M262.5 251.7V289.9M263.5 270.9V291.7M264.5 270.1V316.5M265.5 273.9V311.3M266.5 268.7V305.6M267.5 247.6V311.8M268.5 251.4V297.6M269.5 250.7V312.3M270.5 254.8V310.9M271.5 241.9V302.7M272.5 266.4V312.9M273.5 273V299.9M274.5 275.2V295.5M275.5 280.4V293.7M276.5 263.4V314.5M277.5 270.4V312.2M278.5 271.7V290.2M279.5 265.9V294.7M280.5 270.2V291.4M281.5 262.1V295.4M282.5 275V307.6M283.5 275.1V301.4M284.5 273.9V315M285.5 262.7V317.1M286.5 249.8V311.2M287.5 277.8V317.2M288.5 256.6V316.7M289.5 262.7V306.2M290.5 272.4V296.5M291.5 258.8V304.5M292.5 266.6V293.1M293.5 280.1V302.4M294.5 262.7V293.4M295.5 270.7V300.4M296.5 276.7V310.8M297.5 280.7V293.9M298.5 273.3V294.8M299.5 264.9V294.5M300.5 257.2V307.7M301.5 260.7V298M302.5 268.4V297.6M303.5 261.3V295.1M304.5 270.6V299M305.5 275.5V304.4M306.5 274.2V295.7M307.5 257.7V315.3M308.5 266.5V298.4M309.5 269.2V315.4M310.5 262.6V312.1M311.5 257.9V300.7M312.5 260.7V306.6M313.5 276V309M314.5 267.8V303.6M315.5 257.5V305.6M316.5 261.7V298.5M317.5 272.5V315.8M318.5 276.8V299.1M319.5 265.3V292.3M320.5 260V290.1M321.5 263.8V306.1M322.5 266.9V305.7M323.5 262V299.2M324.5 269.3V301.9M325.5 265.5V294.8M326.5 262.6V296M327.5 271.8V288.1M328.5 254.2V296M329.5 273.6V296.5M330.5 271.7V299.2M331.5 258.8V303.3M332.5 264.7V289.8M333.5 263.1V303.3M334.5 272.9V289.4M335.5 264.1V296.2M336.5 251.1V304.9M337.5 254.9V311.1M338.5 265.8V310M339.5 276.7V289.3M340.5 268.3V309.4M341.5 270.1V290.1M342.5 264.5V305.3M343.5 267.9V306.8M344.5 275.6V293.9M345.5 259.6V297M346.5 276.5V300.3M347.5 256.7V318.8M348.5 272.8V296.2M349.5 258V297.4M350.5 271.8V293.4M351.5 258.9V291.8M352.5 249.5V307.1M353.5 264.2V291.1M354.5 248.4V300.6M355.5 270.9V300.8M356.5 265.6V293.8M357.5 254.2V294.2M358.5 247.2V304.6M359.5 269.4V292.4M360.5 273V302.2M361.5 262.8V301.6M362.5 265.5V311.2M363.5 257.2V308.9M364.5 276.3V302.1M365.5 254.6V309.6M381.5 277.5V303.3M382.5 264.4V313.5M383.5 270.7V295.8M384.5 270.2V297.3M385.5 264.8V295.8M386.5 261.1V300.4M387.5 258.4V310.4M388.5 270.7V309.9M389.5 271V310.5M390.5 276.5V292.6M391.5 274.8V291.9M392.5 277.2V303M393.5 256.6V313.2M394.5 273.8V300.1M395.5 263.2V293M396.5 263.9V294.5M397.5 267.2V303.3M398.5 266.5V301M399.5 276.3V289.7M400.5 279.8V295.4M401.5 264.4V298.6M402.5 266.5V299.8M403.5 270.9V306.8M404.5 265.4V298.2M405.5 260V315.3M406.5 276.5V319.5M407.5 255.6V303.7M408.5 257.2V317.2M409.5 275.6V292.7M410.5 274.5V309.9M411.5 259.4V303.7M412.5 264.7V301.8M413.5 263.3V303.2M414.5 268.2V302.5M415.5 259.7V292.8M416.5 274V295.3M417.5 270.5V291.7M418.5 267.6V300.7M419.5 269.3V296.4M420.5 272.8V304.5M421.5 257.4V291M422.5 258.5V301.1M423.5 273.6V300.8M424.5 279.1V296M425.5 256.4V313.2M426.5 276.1V317.3M427.5 272.3V318.8M428.5 257.6V293.6M429.5 272.5V299M430.5 267.1V314.6M431.5 273.3V318.9M432.5 270.1V298.7M433.5 269.6V305.8M434.5 272.8V298.9M435.5 264.8V290.3M436.5 269.4V294.3M437.5 254.8V291.5M438.5 267.2V294.8M439.5 272.7V309.7M440.5 254V312.6M441.5 262.3V295.2M442.5 260V289.5M443.5 270.7V298M444.5 275.6V304.7M445.5 258.3V294.5M446.5 271V305.8M447.5 267.8V300.3M448.5 264.3V294.2M449.5 268.7V295.3M450.5 267.6V308.5M451.5 264.5V312.5M452.5 272.3V308M453.5 267.4V323.4M454.5 252V306.3M455.5 265.1V326.8M456.5 262.5V306.3M457.5 270.9V298.5M458.5 276.2V328.8M459.5 247V328.5M460.5 247.4V325M461.5 274.1V322M462.5 269.2V309.3M463.5 252.7V298.2M464.5 252.6V318.6M465.5 275.8V294.6M466.5 257.4V307M467.5 265.9V317.8M468.5 276.3V297.4M469.5 268.8V298.5M470.5 275.4V299.1M471.5 285.3V308.5M472.5 275.3V306.6M473.5 275.5V304.1M474.5 278.6V296.9M475.5 283.4V293.9M476.5 279.6V294.7M477.5 277.6V294.7M478.5 282.8V300.2M479.5 273.6V301.6M480.5 269.3V302M481.5 282.8V305.6M482.5 266.3V301.2M483.5 271.6V306.4M484.5 282.8V304.7M485.5 266.9V312.8M486.5 266.5V301.2M487.5 274.1V324M488.5 256V310.4M489.5 262.6V309.5M490.5 261.6V317.1M491.5 256.1V302.2M492.5 255.6V292.2M493.5 253V317M494.5 252.9V303.1M495.5 274.8V305.3M496.5 267.8V300M497.5 276.7V295.1M498.5 267.4V309.3M499.5 262.5V303.8M500.5 282.4V304.5M501.5 262.9V309.9M502.5 268.7V304.4M503.5 271.1V296.7M504.5 274.1V310.9M505.5 263.6V321.1M506.5 268.6V305.2M507.5 279.7V318M508.5 271.8V310.9M509.5 273.8V323.6M510.5 260.7V300.3M511.5 275.3V311.8M512.5 286.7V308.1M513.5 281.6V312.6M514.5 269.9V297.7M515.5 268.1V298.2M516.5 284.7V323.9M517.5 275.9V324.5M518.5 272.2V301.9M519.5 276.3V300.5M520.5 281.4V309.9M521.5 272.9V305.6M522.5 267.6V295.3M523.5 269V302.2M524.5 259.1V303.9M525.5 263.9V314.2M526.5 277.7V302.5M527.5 274.2V298.9M528.5 270.6V306.7M529.5 251.2V318M530.5 256.3V289.5M531.5 258.3V301.3M532.5 257.3V309.1M533.5 266.6V309.7M534.5 264V291.5M535.5 275.9V301.4M536.5 270.9V297.6M537.5 262.5V291.8M538.5 268.5V293.7M539.5 268V304.2M540.5 272.2V294.9M541.5 278.6V290.1M542.5 264.4V292.4M543.5 261.8V302.5M544.5 264V307.8M545.5 276.2V310.8M546.5 256.3V309.1M547.5 272.1V294.3M548.5 271.7V306M549.5 245.9V299.2M550.5 243.1V307.7M551.5 253.9V290.5M552.5 252.2V315.2M553.5 272.6V294.3M554.5 267.2V297M555.5 273.4V293.1M556.5 275.7V308.3M557.5 270.3V293.5M558.5 271.5V298M559.5 267.7V292.2M560.5 264.5V301.4M561.5 269.4V304.3M562.5 270.8V299.9M563.5 279.5V308.2M564.5 266V311.2M565.5 269.4V296.4M566.5 265.8V307.8M567.5 277V304.7M568.5 270V299.2M569.5 272.6V303.8M570.5 257.1V311.5M571.5 269.3V314.9M572.5 276.9V304.7M573.5 273.5V297M574.5 272.4V292.4M575.5 271.2V290.2M576.5 274V305.2M577.5 281.9V295.3M578.5 263.9V303.3M579.5 269.2V294.7M580.5 262.9V296.5M581.5 263.4V300.6M582.5 279.3V309.5M583.5 278.7V298.9M584.5 276.2V317.3M585.5 277.2V293.8M586.5 244.2V292.4M587.5 277.5V321.9M588.5 271.5V311.9M589.5 248.3V314.5M590.5 275V302.8M591.5 270.7V312.9M592.5 258.3V291.4M593.5 260.3V306M594.5 269.4V292.8M595.5 255.5V300.1M596.5 277.3V304.7M597.5 268.6V309M598.5 262.9V296.7M599.5 280.8V304M600.5 268.2V298.7M601.5 270.6V314.2M602.5 264.4V307.7M603.5 261.6V298.9M651.5 247.5V311.3M652.5 268.8V311M653.5 255.9V292.2M654.5 265.2V293.1M655.5 251.4V300.6M656.5 257.3V285.7M657.5 269.1V310.3M658.5 261.5V311.5M659.5 254.8V302.9M660.5 273.5V302.1M661.5 258.8V296.5M662.5 265.4V296.1M663.5 262.6V312.1M664.5 261.1V290.6M665.5 250.2V312.1M666.5 262.4V301.2M667.5 249.6V303.8M668.5 249.9V310.2M669.5 263.4V303.6M670.5 262.3V298.3M671.5 260.8V293.1M672.5 272.2V298.5M673.5 269.5V289.2M674.5 271.2V294M675.5 277.3V297.7M676.5 272V293.2M677.5 274.1V286.6M678.5 271.5V287.9M679.5 278.1V288.4M680.5 267.2V290.6M681.5 271.1V291.3M682.5 270.3V303.4M683.5 263.6V294.1M684.5 269.9V304.8M685.5 274.4V304.9M686.5 255.1V294M687.5 260.7V308.7M688.5 265.7V305.3M689.5 258.6V310.2M690.5 265.4V299.8M691.5 270.1V306.9M692.5 276V297.9M693.5 272.7V289.9M694.5 277.4V296.8M695.5 274.1V296.5M696.5 278.8V288.5M697.5 270.1V287.6M698.5 264.8V292.3M699.5 260.8V294.2M700.5 269.1V288.8M701.5 267.7V287.8M702.5 278.2V301.6M703.5 257.7V292.1M704.5 275.4V292.9M705.5 276.8V300.7M706.5 258.3V304.2M707.5 261.5V314.8M708.5 257.8V312.9M709.5 266.1V305.8M710.5 260V294.5M711.5 279V303.9M712.5 267.4V293.4M713.5 274.5V297.4M714.5 266.2V298M715.5 276.3V302.5M716.5 277.1V289.1M717.5 278V299.5M718.5 271.7V301.1M719.5 275.6V299.9M720.5 271.1V294.1M721.5 278.6V287.2M722.5 269.4V302.8M723.5 270.1V289.4M724.5 265.5V287.7M725.5 273.4V306M726.5 260.2V308.5M727.5 268.2V298.8M728.5 262.9V308.4M729.5 265.3V299.9M730.5 272V300.8M731.5 262.7V296.8M732.5 276.3V292.9M733.5 273.6V298M734.5 269V289.6M735.5 268V294.5M736.5 278.3V293.6M737.5 271.9V303.1M738.5 275.3V290.3M739.5 268.9V308.5M740.5 267.6V292.6M741.5 254.5V295M742.5 268.5V288.1M743.5 258V309.6M744.5 249.1V302.8M745.5 270.4V311.3M746.5 264.1V288.3M747.5 251.2V289.8M748.5 253.3V304.2M749.5 248.5V305.6M750.5 274.9V309.9M751.5 253.5V297.2M752.5 262.1V297M753.5 272.8V295.6M754.5 260.2V295.4M755.5 256.8V297.6M756.5 258V286M757.5 269V290.3M758.5 267.4V284.3M759.5 272.9V283.1M760.5 267.4V294.7M761.5 273V287.5M762.5 271.2V296.5M763.5 275.6V293.7M764.5 273.2V307.2M765.5 252.1V307.6M766.5 253.4V293.4M767.5 249.6V298.4M768.5 269.3V311.5M769.5 276.5V308.5M770.5 255V300.8M771.5 278.1V302.7M772.5 274.1V301.6M773.5 264.8V311.1M774.5 267.5V297.6M775.5 276.1V290M776.5 276.7V306.5M777.5 267.1V297.3M778.5 258.2V301.1M779.5 274.3V295.8M780.5 262.8V301.2M781.5 269.7V308.3M782.5 267.9V303.1M783.5 270.5V309.1M784.5 263.2V310M785.5 264.7V301.4M786.5 263.4V304.3M787.5 274.9V311.7M788.5 270.2V303.2M789.5 271.8V298.3M790.5 270.4V289.1M791.5 266.7V299.7M792.5 269.5V291.5M793.5 271.1V287.3M794.5 268.7V297.1M795.5 270.3V300.6M796.5 264.6V299.9M797.5 263.6V289M798.5 257.2V295.1M799.5 254.5V307.4M800.5 252.8V288M801.5 251.2V288.5M802.5 267.4V297.2M803.5 266.9V289.1M804.5 275.2V286.7M805.5 276.1V286.6M806.5 267.4V301M807.5 257.5V288M808.5 264.8V300.9M809.5 276.7V294.3M810.5 268.6V296.4M811.5 264V298.9M812.5 257.3V289.3M813.5 257.7V287M814.5 263.2V294.1M815.5 260V294.3M816.5 259.3V310.6M817.5 253.4V303.7M818.5 251.6V298M819.5 275.4V297.7M820.5 253.2V306.4M821.5 252.3V299.4M822.5 258.8V291M823.5 251V311.8M824.5 261.7V297.7M825.5 267.7V310.7M826.5 266.9V297.8M827.5 246.2V292.3M828.5 260.9V307.2M829.5 268.5V309.4M830.5 271.4V295.7M831.5 274.7V300.4M832.5 270.4V306.9M833.5 264.2V302M834.5 271.6V311.7M835.5 279.6V294.3M836.5 263.9V298.7M837.5 279.2V298.3M838.5 272.2V305" stroke="#5a5ad2" stroke-opacity="0.35" stroke-width="1" fill="none"/>
<path d="M134.5 270.4V298.4M135.5 261.1V311.1M136.5 271.5V292.4M137.5 262.4V314.1M138.5 256.2V319.2M139.5 260.3V304.7M140.5 240.5V314M141.5 257.6V329.3M142.5 269.8V293.3M143.5 251.6V296.1M144.5 249.8V302.7M145.5 276.4V305.7M146.5 265.2V296.2M147.5 252.5V305.6M148.5 256.4V300.3M149.5 253.2V317.5M150.5 264V303M151.5 275.4V293.7M152.5 264.7V307.5M153.5 273.4V303.2M154.5 262.8V299.9M155.5 276.9V292.7M156.5 260.7V307.7M157.5 273.5V303.5M158.5 278.1V296.2M159.5 270.2V311.6M160.5 271.5V295.8M161.5 261.9V305.6M162.5 257.5V308M163.5 258.7V314.1M164.5 278.3V302.8M165.5 273.4V298.9M166.5 256.2V312.2M167.5 267.4V314.1M168.5 273.3V300.2M169.5 271.5V311.3M170.5 266.4V319.8M171.5 262.7V308.2M172.5 280.6V300.3M173.5 276.3V303.7M174.5 277.3V311.4M175.5 274.6V301.7M176.5 277.7V297.9M177.5 269.1V311.8M178.5 266.3V293.5M179.5 282.2V308.5M180.5 271.7V294.8M181.5 264V299.2M182.5 265.1V301.2M183.5 269.3V293.5M184.5 264V298.7M185.5 260.7V302.8M186.5 275.3V300.9M187.5 259.4V315.4M188.5 271.4V299.9M189.5 274V292.8M190.5 281.4V300.8M191.5 272.4V294.1M192.5 269.3V299.1M193.5 282.2V304M194.5 281.3V298.8M195.5 273.4V302.1M196.5 281.6V299.8M197.5 278.8V313.5M198.5 280.1V302.5M199.5 269V306.6M200.5 250.1V318M201.5 267.9V309.9M202.5 270.5V308M203.5 257.6V311.6M204.5 256.5V316.7M208.5 270.9V322M209.5 279V311.9M210.5 276.6V311.6M211.5 263.8V295.6M212.5 282V308.3M213.5 268.8V312.1M214.5 260.8V298.1M215.5 264V314.4M216.5 267V294.9M217.5 260.4V313M218.5 268.9V318.6M219.5 278.1V309.4M220.5 260.8V306.3M221.5 265.7V297.6M222.5 274.9V304.6M223.5 275.2V303.4M224.5 276.7V292.7M225.5 279.1V293.1M226.5 259V297.5M227.5 276.1V296.6M228.5 262.9V306.6M229.5 275.8V301.2M230.5 276.4V288.3M231.5 266.5V302.4M232.5 268V293M233.5 261.3V290.7M234.5 262.2V291.8M235.5 260.7V292M236.5 272.6V302.9M237.5 269.5V294.7M238.5 269.3V301.5M239.5 269.2V296.8M240.5 269.1V287.5M241.5 255.7V298.2M242.5 262.2V304.7M243.5 270.2V298.2M244.5 275.2V290.7M245.5 274V297.3M246.5 266.8V301.9M247.5 275.7V291.5M248.5 269.6V294.6M249.5 261.9V304.3M250.5 272.4V302.2M251.5 268.2V291.6M252.5 275.6V289.3M253.5 269.2V288.5M254.5 270.7V301M255.5 265.2V312.8M256.5 276.6V290.7M257.5 275.9V303.6M258.5 274.4V304.2M259.5 273.7V305M260.5 275.7V299.7M261.5 260.5V295.2M262.5 273.4V304.8M263.5 253.4V307.7M264.5 266.4V316.7M265.5 279.8V302.8M266.5 255.2V321.1M267.5 247.5V302.3M268.5 257.1V309.4M269.5 245.5V299.8M270.5 253.5V310.6M271.5 251V298.5M272.5 264.2V295.9M273.5 273.5V294.3M274.5 269.1V305M275.5 278.5V312M276.5 258.6V303.3M277.5 261.5V302M278.5 260.9V316.6M279.5 272.5V312.2M280.5 260.6V312.7M281.5 263.9V299.9M282.5 273.4V308.6M283.5 274V299.4M284.5 259.5V295.7M285.5 259.7V306.6M286.5 280V305.4M287.5 263.7V322M288.5 260V311.9M289.5 268.9V296.9M290.5 276.5V297.5M291.5 258.6V310.2M292.5 263.5V312.4M293.5 276.8V310.3M294.5 265.8V309.2M295.5 272.3V299.3M296.5 259.2V311.3M297.5 281.5V297.7M298.5 274.4V290.7M299.5 277.3V293.6M300.5 262.8V301.7M301.5 262.7V292.9M302.5 263.4V306.2M303.5 267.1V294.5M304.5 266.2V316.1M305.5 255.2V305.4M306.5 255.8V294.9M307.5 255.1V313.9M308.5 260.9V311.8M309.5 257.7V313.8M310.5 264.5V298.6M311.5 262.5V307.7M312.5 272.6V317.7M313.5 261.2V301.7M314.5 252.5V314.2M315.5 261V301.1M316.5 256.3V308M317.5 259.5V294.7M318.5 265.3V287.9M319.5 269.5V291.2M320.5 277.6V292.9M321.5 273.6V303M322.5 260.9V296.5M323.5 263.8V299.9M324.5 279.8V296.8M325.5 268V303.7M326.5 279.1V288.5M327.5 261.8V290M328.5 273V294.1M329.5 262.4V295.8M330.5 251.1V290.9M331.5 252.6V292.4M332.5 268.4V305.8M333.5 258.7V308.8M334.5 260.8V300.5M335.5 265.9V293.3M336.5 254.5V311.9M337.5 255.6V297.1M338.5 254.3V302.9M339.5 275.3V289.7M340.5 278.5V298.5M341.5 261.6V293M342.5 261.8V296.1M343.5 272.6V305.2M344.5 262.6V297.9M345.5 264.1V301.1M346.5 271.7V308.8M347.5 267.1V311.3M348.5 264.3V294.6M349.5 274V308.5M350.5 261V309.5M351.5 273.2V292M352.5 260V294.5M353.5 264.1V294M354.5 271.9V313.3M355.5 245.2V302.6M356.5 263.1V318M357.5 253.8V295M358.5 272.4V304.7M359.5 255.3V295.7M360.5 274.1V295.3M361.5 254.4V300.1M362.5 253.7V301.1M363.5 263.4V314M364.5 256.5V298.2M365.5 260.4V297.6M381.5 274.5V321.3M382.5 257.9V312.6M383.5 276V294M384.5 265.5V301.6M385.5 271.6V295.4M386.5 269.5V294.6M387.5 268.2V311.9M388.5 267V310.2M389.5 259.7V307.7M390.5 278.8V306.9M391.5 265.9V303.3M392.5 273.2V309.4M393.5 270.9V297.6M394.5 263.1V308.5M395.5 267.1V313.8M396.5 259.9V294.4M397.5 264.1V311M398.5 278.4V305.4M399.5 272V300.6M400.5 274.9V310.9M401.5 260.6V305.1M402.5 256.6V301.8M403.5 272.5V314.3M404.5 254V293.7M405.5 266.9V297.4M406.5 268.6V315.5M407.5 271.4V306.6M408.5 255.5V299.9M409.5 267.9V316.3M410.5 257.2V305.1M411.5 274.8V297.9M412.5 265.2V303.2M413.5 276.1V292.5M414.5 268.3V294.7M415.5 273.8V304M416.5 268.6V301.7M417.5 266.5V291.4M418.5 275.7V287.5M419.5 264.6V291.2M420.5 274.1V300.3M421.5 266.2V309.9M422.5 259V296M423.5 265.3V291.4M424.5 257.9V294.6M425.5 266.1V293.8M426.5 267.2V316.4M427.5 274.8V319.4M428.5 264.3V299.4M429.5 273.6V296.8M430.5 274.3V313.9M431.5 251.2V305.9M432.5 267.6V294.3M433.5 256.9V296.7M434.5 257.4V310.1M435.5 247.6V306.3M436.5 249.1V312.1M437.5 247.8V308.3M438.5 261V292.1M439.5 259.1V310.5M440.5 256.9V292.7M441.5 268.7V290.8M442.5 264.1V288.4M443.5 276.8V298.2M444.5 265.5V298.6M445.5 275.1V310.1M446.5 260.5V292.4M447.5 266.5V299.4M448.5 265.9V299.3M449.5 270.6V301.4M450.5 259.2V305.6M451.5 270V304.8M452.5 250.3V306M453.5 275.9V296.1M454.5 262.8V329M455.5 259.5V320.4M456.5 257.7V319.4M457.5 269.5V304.2M458.5 273.8V312.6M459.5 243.6V302.2M460.5 270.7V321.5M461.5 263.4V322M462.5 259.8V309.5M463.5 277.8V312.6M464.5 260V315.2M465.5 258.5V303.4M466.5 250.3V315.7M467.5 259.3V313.6M468.5 258.6V295.7M469.5 267.8V293.8M470.5 269.9V293.4M471.5 279.6V294M472.5 277.5V294.8M473.5 282.5V302.1M474.5 275.4V292.4M475.5 280.3V295.3M476.5 278.5V294.2M477.5 282.4V297.4M478.5 274.4V296.3M479.5 280.8V304.1M480.5 270.2V306.8M481.5 279.7V302.8M482.5 267.7V295.4M483.5 275.7V300.1M484.5 262.8V310.6M485.5 276.3V306.2M486.5 251.6V297.5M487.5 259.2V298.5M488.5 250.2V315.4M489.5 251.6V317.1M490.5 261.3V321.7M491.5 268.7V324.1M492.5 259V309.7M493.5 255.7V305.9M494.5 256V304.6M495.5 261.5V295.5M496.5 259.4V298.5M497.5 255.8V308.5M498.5 261.1V296.6M499.5 276.6V297.6M500.5 267.9V307.9M501.5 264.3V297.2M502.5 260.8V302.1M503.5 275.6V298.4M504.5 262.8V300.8M505.5 266.7V296.3M506.5 265.4V316.8M507.5 264.7V317.2M508.5 273.9V308.6M509.5 259.9V321.6M510.5 266.2V323.1M511.5 284.8V307.2M512.5 263.9V317.5M513.5 284.3V318.3M514.5 276.5V305.1M515.5 280.2V318.6M516.5 282.2V302.7M517.5 283.8V301.8M518.5 279.3V298.2M519.5 280.8V295.8M520.5 269.7V305.7M521.5 278V315.8M522.5 273.9V306.5M523.5 261.7V300.5M524.5 257.5V298.5M525.5 257.1V314.2M526.5 272.6V314.9M527.5 267.3V309.7M528.5 267.5V296.7M529.5 269.2V296.8M530.5 260V289.9M531.5 265V298.7M532.5 261.7V310.1M533.5 267.1V296.5M534.5 275.5V304.5M535.5 259V292.7M536.5 264.5V297.3M537.5 264.6V292.4M538.5 263.8V296.1M539.5 264.8V298.5M540.5 264.7V297.4M541.5 264.3V303.2M542.5 271.1V305.5M543.5 264.2V295.8M544.5 260V297.2M545.5 266.4V307.4M546.5 274.3V296.6M547.5 254.4V301.9M548.5 267.3V296M549.5 267.1V289.5M550.5 264.2V295.2M551.5 258.4V295.7M552.5 274.8V304.3M553.5 268.2V303.6M554.5 268.3V302.1M555.5 257.3V298.5M556.5 256.9V295M557.5 254.7V313.1M558.5 261.8V295.6M559.5 268.4V309.7M560.5 271.7V304.1M561.5 278.5V307.1M562.5 261.5V299.2M563.5 260.2V300.2M564.5 267.8V297.7M565.5 267.8V305.4M566.5 273.1V312.4M567.5 266.7V294.5M568.5 270.2V303M569.5 266.6V310.8M570.5 264.7V294.6M571.5 261.4V321.2M572.5 255.1V294M573.5 258.5V297.3M574.5 262.2V297.4M575.5 280.7V294.1M576.5 266.4V300.9M577.5 273.3V306.4M578.5 270.4V301.6M579.5 275.2V309.4M580.5 272.6V304.6M581.5 257.9V299.2M582.5 275.4V295.4M583.5 263.3V314M584.5 270.6V304.8M585.5 247.4V310.9M586.5 244.2V321.2M587.5 251.7V294.8M588.5 272.8V299M589.5 250.2V291.9M590.5 271.8V314.5M591.5 264.9V302.7M592.5 270.4V300.8M593.5 267.2V313.4M594.5 258.8V299.7M595.5 269.5V289.7M596.5 265.2V307.4M597.5 263.1V307.2M598.5 274.4V297.8M599.5 277.5V307.2M600.5 273.8V305M601.5 262.2V299.8M602.5 277.1V299.3M603.5 265.2V310.9M651.5 254.1V303.8M652.5 251.1V285.6M653.5 272.2V296.3M654.5 260V302.2M655.5 257.5V306M656.5 251V303.8M657.5 271.7V292.5M658.5 267V301.1M659.5 255.7V293.1M660.5 273.1V308.2M661.5 260.6V312M662.5 270.8V310.9M663.5 256.7V307.6M664.5 274.3V287.9M665.5 251.7V306.8M666.5 268.5V302.8M667.5 248.1V305.6M668.5 252.9V289.8M669.5 274.5V309.5M670.5 260.8V298.5M671.5 271V295.4M672.5 272V301.9M673.5 262.9V291.9M674.5 277.1V305.9M675.5 277.7V295.2M676.5 268.2V288M677.5 270.7V294.9M678.5 278V294.9M679.5 278.7V287.5M680.5 277.7V289.5M681.5 272.5V302M682.5 269V289.2M683.5 264.9V300.6M684.5 280.2V292.9M685.5 272.9V301.4M686.5 262.6V307.7M687.5 271.4V302.8M688.5 257.1V305.9M689.5 271.4V296.7M690.5 259.3V291.8M691.5 263.9V299.3M692.5 269.7V299.1M693.5 267.3V288.4M694.5 279.5V297.2M695.5 277.3V288.2M696.5 266.7V284.8M697.5 276.1V294.6M698.5 272V301.3M699.5 268.5V298.4M700.5 269.4V290.6M701.5 277.5V295.7M702.5 272.7V289.7M703.5 259.4V298M704.5 258.1V291.9M705.5 275.3V298.7M706.5 275.2V290.7M707.5 268.5V311.9M708.5 265.4V298.6M709.5 273.5V297.1M710.5 264.2V298.7M711.5 277.5V306.2M712.5 275.8V309.5M713.5 269.5V312.4M714.5 276.4V310.4M715.5 263.7V296.9M716.5 269.3V298.1M717.5 276.6V290.1M718.5 273.3V287.7M719.5 270.9V301.6M720.5 261.7V293.3M721.5 263V300.9M722.5 270.6V290.2M723.5 268.4V290.4M724.5 270.6V291.4M725.5 271.2V305.2M726.5 255.3V308.6M727.5 269.7V299.4M728.5 269.5V305.7M729.5 278.7V300.4M730.5 275.7V292.5M731.5 275V289M732.5 271.7V290.6M733.5 263.4V295.1M734.5 265.4V287.7M735.5 275.2V300.1M736.5 272.9V300.1M737.5 279.7V289.6M738.5 273.9V288.7M739.5 269.6V302.8M740.5 270.4V305.6M741.5 275.1V297M742.5 261V300.8M743.5 254.9V312.8M744.5 273.3V309.9M745.5 256.3V300.8M746.5 274.3V300.6M747.5 268.6V297.6M748.5 267V304.2M749.5 259.8V298.3M750.5 258.5V294.4M751.5 262.7V292.7M752.5 273.7V286.7M753.5 265.5V282.8M754.5 266.5V299.2M755.5 269.9V286M756.5 259.7V292.8M757.5 274.1V296.2M758.5 258.8V285M759.5 255.6V290.1M760.5 260.5V292.2M761.5 267.1V283.9M762.5 265.5V300.1M763.5 256.3V303.3M764.5 253.5V289.2M765.5 260.2V297.1M766.5 264.6V302M767.5 264.4V300.5M768.5 265.2V290.7M769.5 265.7V303.3M770.5 275.1V314.5M771.5 264.6V304.5M772.5 265.6V302.5M773.5 279.4V310.9M774.5 269.6V302.7M775.5 259V290.1M776.5 262.7V296.9M777.5 265.4V291.7M778.5 273V297.2M779.5 264.1V300.9M780.5 279.3V294.1M781.5 271.3V289.1M782.5 269.5V302.3M783.5 268.2V294.9M784.5 265.3V291.2M785.5 269V294.9M786.5 257.4V294.5M787.5 258.1V302.1M788.5 259.2V306.7M789.5 258.1V287.1M790.5 265.1V298.9M791.5 274.8V297.2M792.5 266.3V288.9M793.5 269.7V285.5M794.5 266.9V293.7M795.5 272.5V291.1M796.5 259.4V296M797.5 257.6V289.9M798.5 260.2V297.5M799.5 255.8V300.5M800.5 268V288.6M801.5 259.1V298.6M802.5 256.4V298M803.5 268.8V306.8M804.5 275V298M805.5 269.4V287.4M806.5 274.9V297.5M807.5 271V303.3M808.5 265.8V295.4M809.5 256.7V299.1M810.5 275.1V306.4M811.5 259.2V305.9M812.5 268.8V290.5M813.5 266V309.3M814.5 258.2V291.6M815.5 266.1V302.6M816.5 251.8V298.2M817.5 274.2V293.3M818.5 264.9V302.3M819.5 264.3V290.4M820.5 273.8V316M821.5 257.4V312.1M822.5 258.2V294.1M823.5 269.1V291.2M824.5 263V312.6M825.5 264.4V292.4M826.5 272.2V290.8M827.5 257.3V287.6M828.5 257.6V299.2M829.5 252.1V294.8M830.5 267.5V305.3M831.5 273.7V303.5M832.5 264V305.1M833.5 267.2V312.3M834.5 258.8V311.5M835.5 260.4V306.6M836.5 264.2V289.2M837.5 268V301.5M838.5 265.4V297.7" stroke="#5a5ad2" stroke-opacity="0.35" stroke-width="1" fill="none"/>
<path d="M134.5 269.8V306.4M135.5 265.6V306.8M136.5 271.1V304M137.5 275.2V318.2M138.5 253.3V320.8M139.5 265.2V302.9M140.5 269.2V301M141.5 257V319.9M142.5 274V316.2M143.5 264.9V309.3M144.5 264.6V302.2M145.5 271.7V301.2M146.5 263.9V311.1M147.5 274.2V309.2M148.5 264.5V299.4M149.5 260.4V315.2M150.5 269.8V291.8M151.5 260V302.8M152.5 265.6V290.4M153.5 275.6V299.5M154.5 261.3V298.1M155.5 266.3V299M156.5 257V287M157.5 270.5V293.8M158.5 262.2V307.5M159.5 266V289.4M160.5 257.8V303.5M161.5 277.1V301.4M162.5 263.5V307.9M163.5 258.9V314.4M164.5 261.2V316.6M165.5 252.2V296.9M166.5 263.6V308.6M167.5 264.2V306.6M168.5 259.1V310M169.5 263.7V308M170.5 272.9V314.7M171.5 265.6V298.9M172.5 281.4V301.8M173.5 265.2V317M174.5 266.7V303.6M175.5 263.3V295.4M176.5 282.9V311.4M177.5 266.1V301.4M178.5 267.5V304M179.5 281.3V293.8M180.5 268.6V300.8M181.5 260.8V292M182.5 270.5V296.8M183.5 268V314.5M184.5 275.8V313.5M185.5 264.9V301.1M186.5 270.8V318.3M187.5 277.1V301.9M188.5 273.2V294.3M189.5 261.6V297.7M190.5 280.4V294.9M191.5 277.2V293M192.5 269.2V301.8M193.5 277.5V296.9M194.5 276.5V302.5M195.5 266V301.5M196.5 282.9V304.8M197.5 266.8V304.5M198.5 258.5V301.5M199.5 275V315.6M200.5 249.6V308.4M201.5 277.1V324.1M202.5 256.4V316.1M203.5 264.3V301.5M204.5 263.2V312.5M208.5 259.4V311.4M209.5 259.3V309.1M210.5 271.6V310.2M211.5 260.6V317.9M212.5 266V304.2M213.5 264.4V315.4M214.5 254.2V313.5M215.5 277.5V299.8M216.5 265.8V322.7M217.5 280.5V314M218.5 265.8V315.9M219.5 270V290.8M220.5 258.3V302.4M221.5 267.1V313.8M222.5 267.2V297.3M223.5 265.4V305.9M224.5 272V292.4M225.5 268.2V307.2M226.5 277.7V305.3M227.5 275V306.6M228.5 259.1V288.4M229.5 277.5V290.3M230.5 271.4V294.7M231.5 275.3V298.8M232.5 275.1V298.5M233.5 264.8V297.4M234.5 262V305.3M235.5 264V289.5M236.5 263.3V304.9M237.5 270.7V293.2M238.5 275.2V292.3M239.5 272.4V289.5M240.5 269.6V302.7M241.5 257.6V296.2M242.5 275.2V295.9M243.5 274.2V310M244.5 276.2V301.8M245.5 277V303.6M246.5 260V293.5M247.5 258.5V305.3M248.5 265.7V305M249.5 275.5V305.7M250.5 262.5V293.2M251.5 270.9V294.1M252.5 263.9V304.1M253.5 278.3V308.5M254.5 270.7V304.7M255.5 274.7V295.4M256.5 258.7V293.6M257.5 258.9V304.6M258.5 270.8V289.7M259.5 269V300.1M260.5 274.3V312.8M261.5 255.2V289.3M262.5 276.4V303.6M263.5 276.3V306.8M264.5 257.5V312M265.5 257.4V302.1M266.5 251.2V303.7M267.5 261.2V310.3M268.5 252.2V297.3M269.5 263.6V312.5M270.5 274.8V299.1M271.5 270.9V296M272.5 275.7V310.9M273.5 265.7V294.6M274.5 272.4V310.3M275.5 258.3V292.8M276.5 264.1V310M277.5 256.4V304.1M278.5 253.4V313.6M279.5 256.5V307.8M280.5 274.5V310.1M281.5 256.5V289.1M282.5 269.2V313.2M283.5 269V292.8M284.5 277.6V305.1M285.5 261.9V298.9M286.5 273.1V295.4M287.5 260.5V307.5M288.5 268.1V306.3M289.5 257.9V307.2M290.5 265.4V293.1M291.5 261.2V317.8M292.5 265.7V292.5M293.5 267.2V307.6M294.5 274V300.5M295.5 272.3V307.8M296.5 266.6V295M297.5 279.3V297.5M298.5 279.8V298.2M299.5 256.9V310.9M300.5 279.9V314.1M301.5 272V319.6M302.5 253.7V295.2M303.5 271.5V298.5M304.5 266.2V296.7M305.5 263.8V308.2M306.5 266.5V301.4M307.5 266.7V319.1M308.5 269.5V298.8M309.5 266.5V299M310.5 276.6V298.1M311.5 278.7V302.9M312.5 254.3V314M313.5 265.8V310.8M314.5 273.6V308M315.5 269.6V319.4M316.5 268.8V293.2M317.5 256.6V298.1M318.5 264.7V302.9M319.5 275.9V307.5M320.5 270.9V288.9M321.5 267.8V297.3M322.5 267V305M323.5 277.1V295.8M324.5 267.2V312M325.5 276.3V301.8M326.5 263.3V301.3M327.5 264.8V307.1M328.5 275.5V297.9M329.5 268.8V298.8M330.5 258.9V291.1M331.5 269.2V302.3M332.5 258.9V304.3M333.5 271.6V296.6M334.5 266.8V295.1M335.5 277.4V288.6M336.5 258.3V292M337.5 261.1V307.9M338.5 255.6V309.8M339.5 266.3V297.5M340.5 275.6V298.3M341.5 272.4V303.3M342.5 272.6V294.3M343.5 262.1V303.4M344.5 254.2V308.5M345.5 259.3V314.6M346.5 263.4V301M347.5 259.3V309.5M348.5 273.1V313.1M349.5 257.5V315.4M350.5 276.2V318.4M351.5 263.2V297.2M352.5 251.4V294.4M353.5 248.8V296.6M354.5 256.8V302.4M355.5 272.9V319.5M356.5 255.5V312.6M357.5 270.6V308.8M358.5 251.9V302.6M359.5 254.4V302.6M360.5 263.5V304.3M361.5 271.1V299.5M362.5 270.1V307.9M363.5 269.1V306.8M364.5 251.1V312.2M365.5 257.9V300.2M381.5 274.8V303.1M382.5 263.3V302.4M383.5 272.9V315.4M384.5 265.9V298.5M385.5 275.8V295M386.5 272.8V294.2M387.5 262.2V316.4M388.5 275.4V297M389.5 260.7V307.7M390.5 279.8V294M391.5 258.8V300.7M392.5 264.7V304.8M393.5 260.1V298.6M394.5 264.8V302.1M395.5 270.6V300.6M396.5 267.5V301.6M397.5 267.2V295.4M398.5 259V307.8M399.5 268.5V290.1M400.5 260.1V304.5M401.5 263.5V308.3M402.5 269.6V306.3M403.5 264.3V304.1M404.5 277.6V307.3M405.5 273V306.1M406.5 255V300.2M407.5 275.7V315.8M408.5 255.3V299.8M409.5 267.2V310.5M410.5 264.4V306.8M411.5 255.4V313.3M412.5 273.8V293.6M413.5 267.7V300.2M414.5 270.7V309.3M415.5 259.5V301M416.5 279.9V301.6M417.5 270.5V292.5M418.5 275.7V303.3M419.5 271.5V297.2M420.5 277.5V301.2M421.5 271.9V298.2M422.5 252.1V295.1M423.5 271.2V296.9M424.5 268.4V305M425.5 255.8V292.9M426.5 258.9V308M427.5 266.2V316.9M428.5 277.9V296.8M429.5 258.9V296.8M430.5 268.9V320.8M431.5 248.7V308.2M432.5 255.7V308.5M433.5 274.3V309.7M434.5 255.6V297.4M435.5 266.6V303.1M436.5 268.6V295.1M437.5 274.8V303.6M438.5 258.2V304.4M439.5 260.1V319.4M440.5 269.5V297M441.5 250.1V290.2M442.5 272.9V291.7M443.5 258.8V302.9M444.5 260.1V298.1M445.5 259.1V307.5M446.5 273.6V304.3M447.5 261V295.1M448.5 265V301.2M449.5 265.6V290.5M450.5 262.4V305.7M451.5 275.4V300.1M452.5 258.4V311M453.5 264.8V318.3M454.5 264.5V320.9M455.5 248.4V324.6M456.5 259.6V310M457.5 264.3V301.8M458.5 243.4V329.2M459.5 247.8V311M460.5 268.8V318.1M461.5 250.9V305M462.5 249.5V325.4M463.5 256.7V301.1M464.5 249.9V297.3M465.5 250.9V316.5M466.5 256.7V319.5M467.5 256V298M468.5 268.8V308.8M469.5 269.4V303.7M470.5 268.4V310.2M471.5 276V303.5M472.5 269.5V294.7M473.5 277V304.2M474.5 283.3V296.1M475.5 276.8V296.1M476.5 280.9V298.9M477.5 278.6V292.1M478.5 283.5V298.6M479.5 277.5V292.8M480.5 275.4V294.3M481.5 265.5V294.6M482.5 266.7V311.1M483.5 263.7V302.1M484.5 261.8V301.8M485.5 259.8V324.4M486.5 253.7V319.6M487.5 270.8V308.8M488.5 267.3V311M489.5 271.6V302.5M490.5 259.3V306.3M491.5 269.2V309.2M492.5 272.3V312.5M493.5 254.2V312.1M494.5 272.1V316.1M495.5 266.2V298.9M496.5 275.1V299.8M497.5 254.3V312.6M498.5 265.7V312.6M499.5 262.1V304M500.5 268.8V294.9M501.5 274.9V314.7M502.5 277.9V294.9M503.5 276.4V304.5M504.5 274.7V299.6M505.5 275.5V296.2M506.5 269V307.9M507.5 273.3V301.9M508.5 275.4V307M509.5 264.1V306.5M510.5 282.5V327.3M511.5 277V304.7M512.5 284.6V300M513.5 272.4V306.2M514.5 277.2V318.8M515.5 283V302.9M516.5 280.3V308M517.5 259.3V319.5M518.5 270.4V308.3M519.5 279.6V295.9M520.5 266.4V309.2M521.5 265.4V299.5M522.5 273.3V302M523.5 276.2V313.6M524.5 263.8V320.5M525.5 253.7V293.3M526.5 272.1V294.9M527.5 262.5V309.3M528.5 272.7V303.4M529.5 264.1V301.6M530.5 259.4V296.6M531.5 269.8V314.9M532.5 273.1V309.3M533.5 261.2V306.4M534.5 276.9V306.2M535.5 270.6V300.6M536.5 271.5V298.2M537.5 269.4V308.6M538.5 270V289.6M539.5 263.7V296.2M540.5 273V304.3M541.5 278.3V306.2M542.5 281.1V304.2M543.5 263.3V293.3M544.5 276.5V300.2M545.5 273.2V306.8M546.5 255.7V290.8M547.5 257.8V302.3M548.5 267.9V306.1M549.5 261.4V302.3M550.5 259.2V307.8M551.5 258.2V321.6M552.5 252.5V319.3M553.5 267.8V300M554.5 273.7V295M555.5 269.7V301.9M556.5 258.2V305M557.5 248.4V312.8M558.5 274.6V310.4M559.5 265V307M560.5 268.7V307.9M561.5 274.5V295.8M562.5 263V291.5M563.5 267.6V292.1M564.5 272.9V311.3M565.5 280.4V296.6M566.5 277.5V306.9M567.5 260.8V297.2M568.5 274.3V307.2M569.5 268.2V315.8M570.5 262.4V308.5M571.5 264.8V320M572.5 275.5V304.4M573.5 263.9V307.2M574.5 269.5V311.8M575.5 266.1V292.8M576.5 275.2V304.3M577.5 272.6V296M578.5 265.9V303.1M579.5 263.1V309M580.5 266.5V314.1M581.5 262.6V307.9M582.5 262.2V313.6M583.5 253.1V316.1M584.5 264.8V296.2M585.5 256.1V312.2M586.5 254.6V323.3M587.5 262.5V294.1M588.5 276.2V309.1M589.5 266.9V315.1M590.5 267V290.8M591.5 273.8V308.7M592.5 276.4V298.8M593.5 277.7V312.6M594.5 256.2V308.8M595.5 254.2V300M596.5 260.1V296.2M597.5 276.3V300M598.5 276.5V311.6M599.5 269.5V309.4M600.5 261.8V313.7M601.5 277.2V309.2M602.5 275.9V302.6M603.5 275V305.1M651.5 258.8V312.6M652.5 253.9V299.8M653.5 250.8V289.2M654.5 268.4V286.9M655.5 254.3V299M656.5 260.5V307.9M657.5 269.5V294.4M658.5 269V309.1M659.5 259.1V295.5M660.5 263.3V301M661.5 256.6V297.3M662.5 256V303.9M663.5 273.1V301M664.5 265.8V297.7M665.5 251.5V294.4M666.5 255.6V288.9M667.5 256.5V299.3M668.5 260.1V305M669.5 268.9V298.7M670.5 273.2V307.6M671.5 259.2V293M672.5 275.4V290.8M673.5 275.8V302.6M674.5 272.2V305.1M675.5 258.9V297.9M676.5 279.2V296.4M677.5 273V296.1M678.5 271.1V289.7M679.5 278.4V294.2M680.5 269.7V295.6M681.5 272.3V301.5M682.5 275.1V296.8M683.5 279.1V294.6M684.5 277.4V290.2M685.5 265.1V304.8M686.5 260.8V296.7M687.5 278.3V307.1M688.5 256.8V311.6M689.5 266.6V309.6M690.5 274.4V289.2M691.5 276.2V307.1M692.5 278V302.5M693.5 270.7V287.6M694.5 266.8V298.9M695.5 265.1V291.7M696.5 272.3V288.4M697.5 267.8V297.3M698.5 274.7V304.5M699.5 275.8V293.8M700.5 268.4V293.8M701.5 260.8V305.8M702.5 256.5V292.1M703.5 269.1V293.1M704.5 277.4V288.9M705.5 258.5V312.1M706.5 273.1V291.6M707.5 269.9V305.9M708.5 275.4V292.8M709.5 252V301.1M710.5 259V294.3M711.5 260V301.8M712.5 276V311.1M713.5 269.6V300.5M714.5 277.4V300M715.5 275.7V291.6M716.5 269.4V294.4M717.5 275V292.3M718.5 269.5V289.2M719.5 267.6V293.4M720.5 260.9V303.5M721.5 268.8V290.4M722.5 277.6V297.4M723.5 270.8V297.5M724.5 272.9V292.4M725.5 264.6V305.1M726.5 275.5V294M727.5 264.3V289.4M728.5 266.1V300.5M729.5 271.7V294.2M730.5 263.2V289.4M731.5 263.9V300.3M732.5 275.7V303.3M733.5 272.1V292.2M734.5 272.3V300.7M735.5 269.6V291M736.5 278.6V290M737.5 277V291.1M738.5 266.2V299.5M739.5 270.2V294.3M740.5 272.3V292.4M741.5 276.4V304.7M742.5 252.7V304.7M743.5 255.8V313.6M744.5 255.9V310.3M745.5 264.9V296.8M746.5 261.7V304M747.5 247V295.2M748.5 251.2V290.6M749.5 248.5V294.2M750.5 267.8V310.3M751.5 253.8V289.2M752.5 262.8V295M753.5 263.8V292.3M754.5 267.7V282.8M755.5 267.8V290.4M756.5 270.9V288.4M757.5 264.1V283M758.5 266.9V291M759.5 257.1V292.1M760.5 272.6V297.5M761.5 261.3V296.9M762.5 264.1V287.6M763.5 257.2V287.5M764.5 260.7V291.6M765.5 261.4V307.8M766.5 272.5V304.2M767.5 248.8V302.1M768.5 259.1V302.3M769.5 269.9V292.8M770.5 267.5V305.1M771.5 252.4V315.6M772.5 277.7V308.3M773.5 255.9V298.9M774.5 275.1V295.9M775.5 279.4V308.9M776.5 277.2V291.8M777.5 277.7V296.5M778.5 263.7V303.4M779.5 263.5V307.6M780.5 272.4V306.3M781.5 271.3V306.1M782.5 263.2V301.5M783.5 255.9V301.8M784.5 275V310.5M785.5 260.5V306.2M786.5 275.9V302.3M787.5 262.7V295.2M788.5 272.5V288.8M789.5 261.9V294M790.5 263.4V288.7M791.5 267.9V295M792.5 271.5V285.1M793.5 271V288.3M794.5 264.6V294.1M795.5 257.9V288.7M796.5 268.8V299.2M797.5 265.7V296M798.5 254.8V307.9M799.5 270.2V298.6M800.5 263.4V292.3M801.5 269.2V298.8M802.5 274.3V310.9M803.5 266V300.5M804.5 259.1V292.4M805.5 270.5V286.4M806.5 271.4V287.4M807.5 266.1V303.3M808.5 268.1V294.9M809.5 263.1V296.4M810.5 261.1V293.7M811.5 267.9V292M812.5 269.3V302.6M813.5 261.4V294.9M814.5 258.3V315.1M815.5 270.9V294.1M816.5 249.2V309.4M817.5 273.6V297.5M818.5 258.3V308.4M819.5 251.9V304.5M820.5 268.3V304.9M821.5 250.1V300.5M822.5 254.8V314.6M823.5 272.7V303.5M824.5 266.7V300.1M825.5 257.2V303.1M826.5 260.1V305.2M827.5 265.8V293.1M828.5 273.6V300.9M829.5 249.3V311.1M830.5 270.5V305.7M831.5 272.3V299.8M832.5 273V289.1M833.5 254.9V304.9M834.5 263.9V307.7M835.5 264.8V292.1M836.5 274.1V297.4M837.5 272.4V289.4M838.5 264.1V299.9" stroke="#5a5ad2" stroke-opacity="0.35" stroke-width="1" fill="none"/>
<path d="M134.5 264V297.2M135.5 255.5V304M136.5 266.8V295.9M137.5 265.9V292.8M138.5 269.2V316.3M139.5 264.6V318.2M140.5 270.6V297.5M141.5 260.5V324.7M142.5 261.7V305.5M143.5 263.2V299M144.5 263.9V302.5M145.5 255.6V292.2M146.5 272.4V312.7M147.5 263.3V298.3M148.5 252.1V301.9M149.5 271.1V303.4M150.5 256.7V307.2M151.5 255.7V295.2M152.5 263V293M153.5 263.4V294.6M154.5 262V294.1M155.5 275.7V303.5M156.5 267.8V289.5M157.5 262.5V306.1M158.5 272.6V308.3M159.5 267.1V303.3M160.5 267.8V289.7M161.5 258.7V298.9M162.5 265.4V305M163.5 252.9V293.4M164.5 276.2V293.9M165.5 259.5V298.9M166.5 272.8V294.3M167.5 263.9V306.9M168.5 274.3V307.8M169.5 283.5V303.5M170.5 273.4V309.8M171.5 280.3V302.9M172.5 281.8V317.3M173.5 267.5V313.3M174.5 274.4V315.1M175.5 263.3V313.1M176.5 280.6V310.8M177.5 273.5V293.4M178.5 276.1V300.4M179.5 269.4V293.3M180.5 276.2V292.4M181.5 272.5V291.5M182.5 271.5V298.7M183.5 262.6V298.8M184.5 274.7V303M185.5 261.3V307.3M186.5 274.9V306.4M187.5 261.6V298.2M188.5 266.6V295.8M189.5 263.2V306.4M190.5 264.2V293.7M191.5 273.5V304M192.5 275.3V310.4M193.5 277.8V302.2M194.5 268.1V293.5M195.5 276.6V299.9M196.5 274.2V311M197.5 267.4V314.5M198.5 281.1V302.1M199.5 277.5V311.6M200.5 258.6V325.3M201.5 251.4V298.3M202.5 263.1V303.3M203.5 276.7V317M204.5 266.8V307.8M208.5 275.9V318.4M209.5 263.5V309.2M210.5 261.2V296.2M211.5 272.1V296.7M212.5 277.1V302.1M213.5 260.8V322.7M214.5 261.2V310.8M215.5 251.6V297.8M216.5 256.3V318.1M217.5 276.1V297.2M218.5 278.8V308.2M219.5 277.7V301M220.5 275.8V315M221.5 266.2V306M222.5 277.7V297.4M223.5 277.2V307.1M224.5 271.1V309.5M225.5 273.6V308.6M226.5 261.4V311.3M227.5 262.2V308.6M228.5 271.8V298.8M229.5 258.2V288.2M230.5 278.4V302.1M231.5 277.1V296.9M232.5 277.2V296.6M233.5 264V299.2M234.5 261.3V296.3M235.5 276.8V288.6M236.5 267.2V294.5M237.5 269.1V304.3M238.5 261.3V293.7M239.5 272.7V298.8M240.5 257.5V297.2M241.5 260.5V307.1M242.5 252.9V299.6M243.5 270.7V308.7M244.5 271.7V294.5M245.5 276.1V292.6M246.5 257.3V293.8M247.5 276.3V299.5M248.5 267.5V299.9M249.5 276.7V299.7M250.5 256.8V299.5M251.5 266.6V291.9M252.5 271.2V296M253.5 260.6V303.8M254.5 270.8V291.8M255.5 258.7V304.5M256.5 256.7V294.3M257.5 271.1V290.8M258.5 253.9V293.6M259.5 267.6V305.2M260.5 275.1V313.9M261.5 270.9V304.5M262.5 272.1V290.5M263.5 268.2V295.6M264.5 260.8V299.8M265.5 255.8V317.8M266.5 254.7V297.2M267.5 250.8V309.8M268.5 249.9V312.8M269.5 273.4V305.8M270.5 248.1V299.9M271.5 272.3V307.2M272.5 262.8V302.2M273.5 262.4V313.7M274.5 270.7V302.8M275.5 263.4V296.3M276.5 261.4V297.2M277.5 264.4V299.1M278.5 269.3V299.6M279.5 274.5V313.8M280.5 266.6V304.7M281.5 267V290.9M282.5 265.3V309.3M283.5 269.6V317.1M284.5 268V321.1M285.5 257.2V325.5M286.5 269.7V320.6M287.5 250.8V303.3M288.5 259.3V304.1M289.5 274.9V302.4M290.5 264.7V292.7M291.5 267.4V294.8M292.5 266.5V308.4M293.5 277.2V311.4M294.5 280.9V304.9M295.5 261.6V295.9M296.5 280.1V307.9M297.5 276.3V302.5M298.5 279V290.5M299.5 269.2V293.6M300.5 268.1V298.4M301.5 273.5V309.5M302.5 269.3V303.4M303.5 274.3V312.7M304.5 276.4V314.4M305.5 273.5V310.1M306.5 266.9V306.5M307.5 264.5V302.3M308.5 275V323M309.5 279.9V308.7M310.5 267V298.2M311.5 256.6V300M312.5 263.2V297.8M313.5 254.8V296.2M314.5 265V298.8M315.5 261.1V298.2M316.5 274V293.9M317.5 261.4V294M318.5 268.4V300M319.5 278.2V291.4M320.5 266.7V294.9M321.5 264.7V306.7M322.5 280.8V299.5M323.5 278.9V294.9M324.5 263.6V300.8M325.5 262.8V290.8M326.5 276V304.2M327.5 266.4V297.9M328.5 253.8V289.3M329.5 273V301.7M330.5 263.5V302.2M331.5 256V289.1M332.5 271.4V296M333.5 270.9V300.6M334.5 271.9V292M335.5 265.8V306.1M336.5 263.6V306.4M337.5 258.1V299M338.5 276.4V303.6M339.5 254.7V300M340.5 279.1V290.7M341.5 272.6V309.1M342.5 273.9V296.5M343.5 277.1V308.9M344.5 255.8V300.6M345.5 270.8V292.9M346.5 254V300.2M347.5 270.5V312M348.5 273.5V293.9M349.5 250.1V316.5M350.5 270.8V295.8M351.5 264.8V300.6M352.5 253.8V304.3M353.5 274.6V308.3M354.5 257.1V304.9M355.5 270.1V310.2M356.5 275V311.5M357.5 271.8V291.6M358.5 271V321.2M359.5 264.7V315.2M360.5 261.7V307.7M361.5 276.4V294.7M362.5 258V304.8M363.5 260.1V305.6M364.5 273.2V299.3M365.5 276.5V306.5M381.5 257.1V312.7M382.5 255.5V306.3M383.5 259.7V294.2M384.5 280V316.8M385.5 264.7V298.3M386.5 263V295.8M387.5 264.2V307.4M388.5 276V305.3M389.5 265.7V297M390.5 274.2V309.8M391.5 263.5V315.2M392.5 269.3V297.2M393.5 273.2V292M394.5 255.6V302.6M395.5 264.3V293.1M396.5 265.2V291.7M397.5 267.1V296.2M398.5 266V293.8M399.5 259.3V298.1M400.5 273.5V294.6M401.5 262.3V305.8M402.5 266V306.8M403.5 256.3V302.4M404.5 263.7V293.3M405.5 262.5V301M406.5 272.5V317.5M407.5 278.3V311.2M408.5 278.6V301M409.5 262.6V303.7M410.5 276.4V307.1M411.5 271V300.5M412.5 257.2V291.6M413.5 274V296.6M414.5 276.6V306.3M415.5 268.9V288.1M416.5 274.3V303.3M417.5 268V294.3M418.5 265.9V290.8M419.5 266.2V301.8M420.5 261V299.5M421.5 257V305.1M422.5 261.2V287.8M423.5 269.2V305.6M424.5 272.9V303.9M425.5 251.6V292.5M426.5 255.1V319.6M427.5 265.1V310.4M428.5 253.4V308.8M429.5 265.8V302.2M430.5 258.3V307.7M431.5 266.4V302.7M432.5 258.1V312.8M433.5 244.8V305M434.5 272.4V306M435.5 273.8V302.7M436.5 252.8V301.4M437.5 257.8V299.3M438.5 255.8V320.1M439.5 253.2V300.3M440.5 249.7V309.2M441.5 254.3V294.3M442.5 259.7V309.5M443.5 270.5V287.9M444.5 278.7V308M445.5 277.9V308.5M446.5 275.6V309.7M447.5 258.3V310.7M448.5 259.8V310M449.5 270.3V308.4M450.5 264.9V298.4M451.5 266.7V302.1M452.5 265V321.7M453.5 273.9V322.8M454.5 263.8V321.2M455.5 247.9V302.8M456.5 256.7V296.7M457.5 247.8V325.6M458.5 260.1V320.6M459.5 270.9V324.1M460.5 257.5V309.9M461.5 254.6V323.8M462.5 268.9V315.9M463.5 269.2V305.3M464.5 278V296.8M465.5 251.8V315.7M466.5 254.4V305.1M467.5 272.2V296.7M468.5 259.1V300.1M469.5 267.6V302.4M470.5 278.7V296M471.5 277.6V301M472.5 270V301.7M473.5 284.3V298.4M474.5 274.8V294.5M475.5 274.6V303.5M476.5 282.7V301.1M477.5 276.1V299.2M478.5 277.9V300.5M479.5 283.1V302.2M480.5 272.1V296.3M481.5 270.5V308.6M482.5 272.8V295.3M483.5 275.8V316.6M484.5 258.8V295.2M485.5 263.6V321.6M486.5 254.4V295.6M487.5 275.4V307.3M488.5 247.2V328.7M489.5 270.7V327M490.5 275V302.5M491.5 268.7V310.3M492.5 264.1V306.6M493.5 278.8V303M494.5 271V313.5M495.5 266.6V303.8M496.5 263.4V291.4M497.5 267.7V311M498.5 276.6V291.9M499.5 263.8V293.9M500.5 270.5V306M501.5 281.4V294M502.5 278.5V315.8M503.5 279V303.4M504.5 273.4V296.1M505.5 277.4V321.1M506.5 280.9V314.8M507.5 263.3V317M508.5 273.2V314.2M509.5 281.5V305.5M510.5 270.8V317.8M511.5 279.8V309.8M512.5 277.2V312.2M513.5 274.4V302.5M514.5 277.2V306.1M515.5 282.2V311.5M516.5 282.2V300.4M517.5 266.6V301.9M518.5 268.9V304.9M519.5 272.3V306.2M520.5 278.9V299.3M521.5 262V298.5M522.5 274.3V310.3M523.5 264.2V304.8M524.5 276.2V305.3M525.5 267.8V305.7M526.5 269.6V295.3M527.5 270V292.6M528.5 261.1V310.7M529.5 275.5V304.8M530.5 267.5V290.1M531.5 249.5V309.4M532.5 275.8V290M533.5 278.2V306.6M534.5 254.8V289.1M535.5 257.7V287.8M536.5 266.1V304.7M537.5 267.6V308.7M538.5 276.7V302.7M539.5 272.8V293.9M540.5 265.5V298.4M541.5 273.7V291.3M542.5 272.9V300.9M543.5 262.6V293.9M544.5 259.4V308.4M545.5 266.9V303.5M546.5 274.5V304.2M547.5 262.3V294.1M548.5 254.8V308.7M549.5 259.9V297.3M550.5 269V306.6M551.5 259.2V297.6M552.5 273.4V313.8M553.5 266.6V314.9M554.5 260.3V301.4M555.5 264.5V306.8M556.5 257.9V306.8M557.5 264.6V296.3M558.5 275.5V313.5M559.5 277.1V296.2M560.5 268.5V303.6M561.5 269V292.7M562.5 268.9V303.7M563.5 265.6V311.6M564.5 275.9V291.5M565.5 267.2V299.6M566.5 276.2V311.5M567.5 268.2V306.8M568.5 279.9V301M569.5 263.6V313M570.5 257.3V311.4M571.5 269.8V311.4M572.5 255V295.4M573.5 259.4V298.2M574.5 268.6V306.7M575.5 267.2V293M576.5 274.2V297.8M577.5 277V294.2M578.5 275.5V308.7M579.5 259.5V294.2M580.5 260.5V293.5M581.5 266.5V308.3M582.5 276.6V301M583.5 268.8V300.1M584.5 267.8V292.6M585.5 256.1V306.6M586.5 248.4V314.8M587.5 274.7V308.1M588.5 255.7V314M589.5 248.2V309.8M590.5 268.2V303.3M591.5 276.7V304.3M592.5 272.9V314M593.5 270.3V302.4M594.5 269.2V311M595.5 275.2V301.8M596.5 265.7V300.7M597.5 258.2V314.2M598.5 276.8V289.9M599.5 278.1V308.1M600.5 274.4V301.3M601.5 276.4V306.5M602.5 261V297.3M603.5 261.8V300M651.5 265.5V292.2M652.5 263.2V298.8M653.5 257.8V307.5M654.5 251.5V296.8M655.5 253.7V304.1M656.5 273V302.2M657.5 252.6V298M658.5 268.3V291.4M659.5 261.3V289.1M660.5 274V306.8M661.5 260.6V313.5M662.5 258.7V308.3M663.5 253.8V288.4M664.5 254.8V291.2M665.5 261.1V312.1M666.5 253.2V290.7M667.5 266.7V306M668.5 255.6V290.7M669.5 261.6V294.7M670.5 252V288.3M671.5 263.1V307.1M672.5 276.3V299.2M673.5 276.2V308.3M674.5 264.4V305M675.5 270.4V287.8M676.5 278.4V287.8M677.5 270.7V292.8M678.5 274.7V291.5M679.5 274.9V296M680.5 272.9V294.8M681.5 273V297.6M682.5 263.8V304.6M683.5 277.5V305.8M684.5 273.1V296.1M685.5 275V304.6M686.5 262.7V312M687.5 277.9V315M688.5 262.1V292.5M689.5 262.4V294.9M690.5 278.4V304.3M691.5 278.4V295M692.5 276.1V299.2M693.5 264.8V301.2M694.5 275.8V294.8M695.5 268.3V291.6M696.5 277.8V293.1M697.5 272.8V295.8M698.5 264.8V290.3M699.5 265.5V303M700.5 259.6V300M701.5 271.4V302.6M702.5 262.9V309.4M703.5 257.4V299.4M704.5 269.3V296.7M705.5 263.1V299.3M706.5 269.7V294.4M707.5 257.7V305.2M708.5 259.9V302.6M709.5 263.9V300.1M710.5 269.9V309.8M711.5 254.2V297.4M712.5 266.2V302.8M713.5 256V300.1M714.5 265.1V307.6M715.5 265.8V307M716.5 265.3V296.3M717.5 273.9V293M718.5 268V296.4M719.5 268.9V297.7M720.5 262.9V296.4M721.5 274.4V294.7M722.5 264.3V297.3M723.5 271.2V295.5M724.5 263.8V298M725.5 275.4V301.7M726.5 270.8V290.7M727.5 266.5V312.1M728.5 266.9V290.6M729.5 270.4V306.6M730.5 261.2V295.1M731.5 267.9V300.1M732.5 276.3V300.4M733.5 264.3V292.8M734.5 274.5V299.3M735.5 273.5V291.5M736.5 277V300.1M737.5 279V298.3M738.5 274.4V299.7M739.5 263.6V292.9M740.5 264.5V309.8M741.5 254V313M742.5 274.6V309.5M743.5 269V307.4M744.5 248.6V304M745.5 255.6V309.9M746.5 255.7V292.1M747.5 259.8V313.3M748.5 268V297.7M749.5 262.8V299.9M750.5 274V286.3M751.5 254.5V305.8M752.5 256.4V302.7M753.5 266.6V289.8M754.5 257.2V286.4M755.5 265.8V295.3M756.5 263.2V293.2M757.5 260.5V295.5M758.5 269.7V296.1M759.5 264.9V294.7M760.5 257.4V286.8M761.5 276.2V288.4M762.5 272.3V287.5M763.5 266.5V296.3M764.5 259.1V303.1M765.5 266.3V288.9M766.5 254.6V303.1M767.5 265V312.3M768.5 270.1V311.8M769.5 253.1V307.2M770.5 260.3V306.4M771.5 252.4V312.3M772.5 267.1V309.5M773.5 277.4V296.8M774.5 259V307.8M775.5 259.4V308.1M776.5 271.3V304.3M777.5 270V303.8M778.5 276.7V304.4M779.5 277V305.9M780.5 272.9V304M781.5 261.6V294.3M782.5 264.8V301.4M783.5 268V289.8M784.5 271.1V297.6M785.5 260.3V294M786.5 262.2V309.5M787.5 268.4V304.7M788.5 277.6V306.2M789.5 262.4V289.5M790.5 265.9V290.7M791.5 274.2V292.4M792.5 263.2V288.6M793.5 269V298M794.5 260.5V291.9M795.5 262.1V304.4M796.5 268.3V296.3M797.5 257.7V304.8M798.5 254V295.2M799.5 276.5V308.5M800.5 254.5V300.6M801.5 264.1V287.3M802.5 273.7V294.7M803.5 271.8V288.7M804.5 259.8V292.6M805.5 263.6V303.3M806.5 270.8V293.5M807.5 257.7V302.8M808.5 262.2V297M809.5 258.5V308.2M810.5 259.1V298.5M811.5 274V295.8M812.5 259.5V301.4M813.5 256.5V292.8M814.5 265.9V309.6M815.5 248.7V295.3M816.5 274.6V309.8M817.5 270.3V293.1M818.5 267.7V307.9M819.5 275.1V312.4M820.5 255.8V309.7M821.5 255.6V291.3M822.5 259.2V310.5M823.5 253V308.5M824.5 263.6V288.1M825.5 267.7V309.3M826.5 256.8V304M827.5 253.5V312.1M828.5 251.9V311.1M829.5 248.2V290M830.5 266.8V301.9M831.5 264.9V298.7M832.5 276.1V302.4M833.5 276.4V299.7M834.5 258.5V299.7M835.5 262.2V292.2M836.5 269.6V293.3M837.5 273.4V297.2M838.5 263.5V301.2" stroke="#5a5ad2" stroke-opacity="0.35" stroke-width="1" fill="none"/>
<path d="M134.5 267.4V312.7M135.5 275.5V299.2M136.5 258.2V314.3M137.5 254.7V314.3M138.5 269V304.1M139.5 257.2V290.2M140.5 260.4V311.5M141.5 271.8V319.4M142.5 269.7V299.3M143.5 256.9V309.8M144.5 282.7V298M145.5 277.2V300M146.5 278.3V311.5M147.5 281.1V298.1M148.5 271.3V304.1M149.5 272.4V298.1M150.5 275.1V293M151.5 284V301.1M152.5 268.4V299.6M153.5 278.2V292.8M154.5 268.3V305.4M155.5 270.3V300.3M156.5 276.3V297.8M157.5 267.3V292.4M158.5 265V295M159.5 273.1V302.3M160.5 263V299.2M161.5 258.1V289.1M162.5 261.1V309M163.5 255.4V295M164.5 259.7V288M165.5 252.7V293.9M166.5 262.5V314.8M167.5 244.3V308.9M168.5 267.2V297.8M169.5 241.8V313.8M170.5 257.2V297M171.5 250.8V297.1M172.5 249.8V300.1M173.5 240.5V290.4M174.5 262.9V316.2M175.5 251.1V286M176.5 269.4V288.7M177.5 257.2V301.9M178.5 261V295M179.5 267.6V290.1M180.5 255.7V311.9M181.5 260V291M182.5 272.9V294.1M183.5 259.9V300.4M184.5 268.2V316.2M185.5 254.6V316.2M186.5 281V303.5M187.5 269.7V313.4M188.5 270.6V303.9M189.5 265.3V316.8M190.5 284.9V308.4M191.5 277.4V311M192.5 276V316.6M193.5 275.2V314.3M194.5 269.7V302.2M195.5 279.9V299.9M196.5 281.3V302M197.5 267.5V300.8M198.5 279V304M199.5 257.4V318.7M200.5 280.7V301.3M201.5 266.9V302M202.5 255.2V306.9M203.5 277.2V296.3M204.5 265.3V301.9M208.5 258.3V296.8M209.5 263.3V313.2M210.5 251.8V295M211.5 252.8V310.4M212.5 263.9V316.1M213.5 267.3V310.8M214.5 260.3V296.4M215.5 243.5V324.3M216.5 254.6V322.2M217.5 269.4V297M218.5 275.2V326.6M219.5 254.8V302.2M220.5 273.4V294.2M221.5 273.5V318.4M222.5 275V309M223.5 269.4V300.1M224.5 279.9V306.1M225.5 277.1V291.9M226.5 271.9V301.5M227.5 276.5V296.3M228.5 278.9V291.6M229.5 279.6V307.3M230.5 267.4V300.8M231.5 264.7V302.3M232.5 260.5V290.5M233.5 264.1V292.8M234.5 274.6V298.4M235.5 264.8V287.1M236.5 260.9V305.5M237.5 260.5V293.8M238.5 261.4V304.1M239.5 263.4V297.1M240.5 269.8V313.2M241.5 266.1V301.5M242.5 266.3V302.9M243.5 267V306.3M244.5 254V315.3M245.5 269.4V315.9M246.5 272.3V311M247.5 267.1V308.6M248.5 267.1V304.4M249.5 260.5V298.3M250.5 268.8V299.5M251.5 259.6V293.8M252.5 260.2V308.5M253.5 268.7V312.2M254.5 278.3V295M255.5 268.9V295.4M256.5 275.3V289.5M257.5 263.4V303.7M258.5 262.6V294.5M259.5 258.7V304.5M260.5 267.2V309.5M261.5 269.1V302.4M262.5 256.8V292.4M263.5 268.8V301.4M264.5 268.5V312.6M265.5 271.8V298.6M266.5 277.1V301.2M267.5 282.9V297.8M268.5 268.4V306M269.5 276.4V310.7M270.5 273V303M271.5 268.6V299.6M272.5 265.5V315M273.5 281.9V303.6M274.5 263.6V298.1M275.5 273.3V310.3M276.5 264V307M277.5 260.4V301.1M278.5 267.4V311.3M279.5 270.6V311M280.5 278.7V309.1M281.5 258V295.3M282.5 261.6V292.3M283.5 272.5V314.2M284.5 276.7V292.6M285.5 263.2V294.2M286.5 271.8V292.1M287.5 254.8V292.2M288.5 273.7V295.5M289.5 259.8V291.6M290.5 256.4V308.1M291.5 271.3V305.6M292.5 266.7V311M293.5 253.3V291.6M294.5 253.7V314.4M295.5 261.7V318M296.5 267.8V293.4M297.5 273.2V303.3M298.5 276.8V309.1M299.5 278V302.4M300.5 268.1V301.1M301.5 260.2V306.9M302.5 279.9V313.1M303.5 267.1V305.5M304.5 263.5V293.9M305.5 266.2V299.7M306.5 275.9V290.7M307.5 264.7V293.3M308.5 278.5V303.8M309.5 252.9V297.6M310.5 259.7V305.7M311.5 263V300.2M312.5 258.1V308.4M313.5 272.7V292.3M314.5 266.2V293.7M315.5 262.9V308.3M316.5 277.4V294.6M317.5 259.3V310.3M318.5 280V306.2M319.5 270.5V309M320.5 279.7V311.1M321.5 276.4V310.6M322.5 272.4V294.9M323.5 253.7V306.3M324.5 256.9V311.3M325.5 259.2V308.7M326.5 249.8V323.8M327.5 256.9V301.8M328.5 265.2V310.7M329.5 256.7V315.2M330.5 277.4V306.7M331.5 247.2V298.6M332.5 257.8V307.4M333.5 261.9V304.1M334.5 268.1V303.7M335.5 275.6V302.4M336.5 277.1V300.7M337.5 275V297M338.5 266.7V302.5M339.5 274.7V294M340.5 263.4V289.5M341.5 275.6V308.4M342.5 274.3V297.2M343.5 264V304.2M344.5 265V309.4M345.5 270.5V305.9M346.5 265.8V293.3M347.5 281.9V315.7M348.5 274.5V306.6M349.5 272.2V295.8M350.5 277.2V294.6M351.5 280.7V300.9M352.5 281.4V299.2M353.5 284.9V299M354.5 264V310M355.5 270.7V315.7M356.5 274.9V305.9M357.5 265.8V299.7M358.5 281.5V306.3M359.5 282.9V317.1M360.5 262V299.3M361.5 268.4V297.8M362.5 265.8V312.2M363.5 271.6V311.3M364.5 279V299.1M365.5 285.6V300.5M381.5 278.3V300.9M382.5 273.1V306.5M383.5 269.8V307.6M384.5 273.6V315.8M385.5 253.3V300.9M386.5 259.4V306.8M387.5 249.7V310.2M388.5 260.6V301.6M389.5 263.7V301.5M390.5 255.6V306.8M391.5 253.9V297.7M392.5 273V311.6M393.5 262V308.9M394.5 268.8V292.7M395.5 274.1V288.5M396.5 267.2V286.8M397.5 272.2V297.2M398.5 269.2V292.3M399.5 272.2V294.9M400.5 277.5V299.2M401.5 276.9V293.2M402.5 276.8V300.6M403.5 276.3V303.6M404.5 279V291.6M405.5 270.7V292.3M406.5 279.4V294.7M407.5 270.5V304.6M408.5 280.5V295.4M409.5 271.1V290M410.5 273.9V293.8M411.5 280.4V302.3M412.5 271.2V291.1M413.5 278.3V293.3M414.5 276.5V304.7M415.5 267.1V305.1M416.5 279.7V296.9M417.5 263.4V306.9M418.5 277.3V304.1M419.5 263.1V298M420.5 271.1V306.3M421.5 269.1V304M422.5 269.1V307.1M423.5 274.7V298.2M424.5 251.2V310.7M425.5 259.9V301.5M426.5 275.7V312.5M427.5 264.1V323.4M428.5 272.1V299.1M429.5 275.3V300.3M430.5 254.6V304.1M431.5 249.7V295.6M432.5 251.8V302.2M433.5 252V310.3M434.5 259.9V290.8M435.5 261.2V296.1M436.5 268.5V311.2M437.5 274.3V304.4M438.5 265.6V302.2M439.5 261.9V294.2M440.5 276V299.7M441.5 276.1V291.4M442.5 271.2V306.9M443.5 261.4V301.6M444.5 269.5V295.3M445.5 275.4V311.3M446.5 252.8V301.4M447.5 272.7V297.4M448.5 277.2V316.2M449.5 258.9V297.8M450.5 277.7V289.1M451.5 257.4V298.9M452.5 264.3V304.4M453.5 261.3V301.9M454.5 261.9V302.2M455.5 264.3V305M456.5 269.9V288M457.5 263.1V309.6M458.5 274.7V315.8M459.5 275.2V311.9M460.5 271.4V322.9M461.5 252.5V326.5M462.5 272.8V309.2M463.5 260V296.5M464.5 259.8V311.1M465.5 268.1V314M466.5 247.1V317M467.5 262.1V317.8M468.5 257.7V307.5M469.5 267V318.4M470.5 260.5V311.1M471.5 250.8V291.7M472.5 261.1V305.3M473.5 246.7V297.3M474.5 251.1V290.1M475.5 276.7V293.2M476.5 274.8V307M477.5 257.2V296.3M478.5 261.6V308.3M479.5 273.9V298.4M480.5 258V294.9M481.5 267V295.6M482.5 272.9V308.3M483.5 276.5V293.6M484.5 266.4V299.2M485.5 259.4V309.9M486.5 266V298.9M487.5 262.8V296.3M488.5 276.5V298.6M489.5 268.8V298.1M490.5 258.8V302.3M491.5 256.3V288.5M492.5 273.7V305.2M493.5 257V306M494.5 272.5V295.9M495.5 260.9V298.2M496.5 257.3V312.2M497.5 255.9V308M498.5 263.4V311M499.5 274.5V298.8M500.5 262.8V301.3M501.5 276.7V290.8M502.5 267.6V290.3M503.5 268.5V305.8M504.5 268.5V295.9M505.5 260.6V290.4M506.5 267.7V306.7M507.5 275.3V290.2M508.5 271.5V296.5M509.5 269.1V304.3M510.5 265.5V289.6M511.5 267.4V300M512.5 259.7V295.3M513.5 269.8V293.5M514.5 254.9V302.9M515.5 271.9V288.5M516.5 253.3V312.2M517.5 253.2V300M518.5 264.3V288M519.5 246.1V288.8M520.5 248.7V310.2M521.5 259V295.7M522.5 273.2V299M523.5 245.7V306.1M524.5 257.9V300.5M525.5 266.3V308.5M526.5 268.9V310M527.5 277.9V313.9M528.5 252.9V309M529.5 276.6V301M530.5 260.9V305.1M531.5 283.2V319.6M532.5 277.6V308.9M533.5 280.1V295.8M534.5 263.7V304.8M535.5 271.8V316.3M536.5 275V310.5M537.5 272.7V293.8M538.5 253.8V308.6M539.5 276V306.3M540.5 272.3V313.4M541.5 264.6V312.4M542.5 265.7V298.3M543.5 264.1V308.4M544.5 255.7V309.7M545.5 260.1V297.3M546.5 275V295.8M547.5 250.2V292.5M548.5 255.8V308M549.5 262.5V307M550.5 261.8V303.8M551.5 255.9V314.2M552.5 262.1V302.4M553.5 262.9V289.1M554.5 260V300.2M555.5 239.6V292.8M556.5 246.8V313.2M557.5 252.1V312.6M558.5 257.5V297.3M559.5 265.8V287.5M560.5 246.7V294.4M561.5 254V290.1M562.5 264.9V295.6M563.5 249.9V290.3M564.5 255.1V304.3M565.5 255.4V304.3M566.5 264.9V301M567.5 260.7V304.3M568.5 268.6V291M569.5 259.8V290.1M570.5 273.9V307.7M571.5 276.2V295.3M572.5 265.9V311.3M573.5 257.2V303.2M574.5 264.4V291.6M575.5 267.6V314.7M576.5 267V293.7M577.5 259V312.5M578.5 276.3V298.8M579.5 261V291.1M580.5 263.7V290.5M581.5 272.4V293.9M582.5 277V294.8M583.5 267.8V293.2M584.5 261V298.1M585.5 270V294M586.5 265V301.7M587.5 264.2V291.1M588.5 260.4V300.5M589.5 270.7V299.9M590.5 269.3V295.7M591.5 269V310.6M592.5 272.8V318.3M593.5 275.2V296.9M594.5 258.5V310.7M595.5 261.9V306.2M596.5 272.7V305.1M597.5 270.7V300M598.5 271.7V312.7M599.5 275.7V308M600.5 272.1V300.2M601.5 278V308.2M602.5 256V297.5M603.5 259V295.3M651.5 277.9V303.4M652.5 276.5V313.6M653.5 281.7V315.7M654.5 271.9V306.1M655.5 283V312.2M656.5 275.6V317.4M657.5 284.5V306M658.5 275.2V326.7M659.5 280.3V329.3M660.5 278.6V313.7M661.5 278.2V316.2M662.5 264.9V326.4M663.5 273.7V315.5M664.5 283V316M665.5 277.5V305.7M666.5 287.4V309.7M667.5 287.1V315.9M668.5 282.2V319.5M669.5 271.5V317.6M670.5 272.2V316.5M671.5 281V315.6M672.5 288.6V317.5M673.5 275.8V312.5M674.5 285.7V311.8M675.5 271.6V299.9M676.5 274.2V313.3M677.5 274.1V309.3M678.5 280.4V304.8M679.5 269V304.4M680.5 284.2V307.9M681.5 286.3V315.1M682.5 269.2V317.8M683.5 273.9V324.6M684.5 280.1V324.7M685.5 279.7V322.5M686.5 294.5V319.2M687.5 290.3V312.6M688.5 276.3V302.7M689.5 279.1V314.8M690.5 286.9V309.8M691.5 288.9V298.9M692.5 290.1V302.5M693.5 285.6V307.4M694.5 286.6V300.2M695.5 280.2V308.6M696.5 288.1V299.7M697.5 284.9V307.9M698.5 286.5V303M699.5 271.2V314.4M700.5 283.6V299.9M701.5 277.6V312.6M702.5 287.4V300.9M703.5 284V305.4M704.5 281V299.5M705.5 272.1V313.4M706.5 280.5V314.2M707.5 260.9V312M708.5 270.4V322.9M709.5 281.9V315.2M710.5 265.4V329.6M711.5 255.4V331.2M712.5 258.2V331.2M713.5 258.5V314.5M714.5 278.8V309.1M715.5 268.2V318.1M716.5 272.4V316.8M717.5 275.4V322.9M718.5 285.3V321.8M719.5 280.5V306.1M720.5 288.2V303.7M721.5 280.4V308.4M722.5 280.6V319.7M723.5 274.3V315.9M724.5 265V313M725.5 282.5V313.5M726.5 267.9V319.9M727.5 262.8V305.7M728.5 282.4V317.5M729.5 287.1V307.2M730.5 284.1V312.4M731.5 284.8V304.9M732.5 282.1V302.6M733.5 285.9V303.6M734.5 265.8V309.2M735.5 267.1V308.7M736.5 289.4V321.5M737.5 268.8V304.8M738.5 270.2V317.3M739.5 282.9V316.7M740.5 275.1V309.8M741.5 281.4V303.9M742.5 285.1V315.7M743.5 289.2V313M744.5 279.7V302.1M745.5 285V303.3M746.5 286.3V302.2M747.5 274.3V308.8M748.5 287.1V307.5M749.5 280.9V306.8M750.5 282.5V306.5M751.5 275V301.1M752.5 287.2V310.4M753.5 270.6V312.2M754.5 278.7V299.3M755.5 274V299.7M756.5 270.3V304.3M757.5 278.9V319.6M758.5 267.8V307M759.5 277.3V317M760.5 286.5V314.4M761.5 264.9V321.1M762.5 283V328.1M763.5 270.1V303.1M764.5 276.5V304.8M765.5 289.9V313.7M766.5 289.8V302.9M767.5 278.1V313.8M768.5 292.2V313.8M769.5 279.3V302.9M770.5 293.1V315.9M771.5 281.3V304.3M772.5 292.9V313.6M773.5 276.6V315.9M774.5 278.4V306.7M775.5 287.3V314.3M776.5 293.1V303.4M777.5 292.2V303.8M778.5 290.8V316.5M779.5 283.5V305.2M780.5 282.6V310.5M781.5 281.5V308.5M782.5 294.2V308M783.5 283.3V313.5M784.5 294.3V313.6M785.5 276.4V314.4M786.5 279.9V307.5M787.5 282.8V313.4M788.5 273.1V316M789.5 288.5V317.5M790.5 275.1V304.6M791.5 269.5V306.5M792.5 263V322.8M793.5 262.5V309.5M794.5 277.5V299.8M795.5 263.6V301.6M796.5 276.4V305.3M797.5 276.6V301.4M798.5 276.3V323.7M799.5 283.1V300.9M800.5 279.3V311M801.5 262.9V317.1M802.5 286.8V301.6M803.5 285.7V300.2M804.5 272.1V311.4M805.5 270.1V298M806.5 275.4V301.4M807.5 282.7V317.6M808.5 273.5V309.3M809.5 286.3V313.1M810.5 281.7V322.8M811.5 269.8V301.1M812.5 277.2V305.3M813.5 272.7V318.6M814.5 273.9V315.2M815.5 287.5V298M816.5 278.1V303.6M817.5 282.3V312.9M818.5 275.3V306.4M819.5 269.7V301.8M820.5 287V307.3M821.5 278.3V296.5M822.5 282.6V297.9M823.5 268.4V316.2M824.5 268.3V305.9M825.5 277.1V321.7M826.5 284.9V306.2M827.5 274.8V299.9M828.5 272.7V314.8M829.5 268.8V308.5M830.5 282.4V308.5M831.5 273.8V302.6M832.5 274.5V318M833.5 271.5V312.2M834.5 281.7V306.9M835.5 273.7V315.6M836.5 285.1V301.7M837.5 280.2V298.9M838.5 284.4V313.6" stroke="#ea3052" stroke-opacity="0.23" stroke-width="1" fill="none"/>
<path d="M134.5 275.8V304.2M135.5 272.7V310M136.5 254.3V289.9M137.5 276.5V309.1M138.5 274.5V311.7M139.5 267.2V299.9M140.5 262.9V319.2M141.5 279.8V311.9M142.5 272.6V297.1M143.5 259.9V310.8M144.5 281.9V295.4M145.5 272.6V306.5M146.5 277.2V307.6M147.5 273.7V303.8M148.5 271.7V301.7M149.5 266.8V300.1M150.5 283.1V304.6M151.5 269.9V307.5M152.5 278.3V301.3M153.5 282.2V300.1M154.5 278V307.4M155.5 271.4V307.5M156.5 270.2V301.7M157.5 271.6V291.2M158.5 266.5V303.1M159.5 274.7V297.1M160.5 263.9V296.3M161.5 262.7V310.4M162.5 258.6V303.1M163.5 253.2V309.8M164.5 268.6V304M165.5 247V290.3M166.5 259V298.8M167.5 260.9V317.6M168.5 262.9V316.7M169.5 259.1V311.4M170.5 247.4V313M171.5 249.6V309.3M172.5 254.5V286M173.5 240.5V309.7M174.5 239.1V300.5M175.5 263V291.5M176.5 268.7V285.1M177.5 258.6V293.2M178.5 261.2V313.5M179.5 257.3V302.5M180.5 262.3V288.7M181.5 260.4V289.4M182.5 265.8V297.1M183.5 253.2V307.5M184.5 264.7V310.5M185.5 254.4V302M186.5 275V297.7M187.5 276.6V303.5M188.5 273.9V300.1M189.5 267.3V318.1M190.5 271.5V305.4M191.5 286.6V305.2M192.5 266.2V307.5M193.5 287.7V304.4M194.5 277.6V299.1M195.5 269V301.8M196.5 276.1V303.7M197.5 281.5V316.1M198.5 280.8V306.9M199.5 264.5V322.3M200.5 259.5V320.1M201.5 259.5V295.3M202.5 265.6V314.5M203.5 268.7V319.5M204.5 251.4V309.4M208.5 254.7V297M209.5 266.5V304.2M210.5 272.5V304.9M211.5 254V308.8M212.5 254V305M213.5 246.6V304M214.5 257.5V307.5M215.5 256.7V303.5M216.5 247.3V311.7M217.5 270.7V313.4M218.5 278.9V294.9M219.5 275.9V308.7M220.5 271.6V312.2M221.5 259.2V300.2M222.5 276.7V303.3M223.5 270.7V300.1M224.5 271.8V294.9M225.5 268.8V306.1M226.5 272V300.5M227.5 281.2V297.5M228.5 274.9V295.5M229.5 265.2V298.9M230.5 268.9V301.6M231.5 277.7V296.3M232.5 262.2V295.2M233.5 267.5V290M234.5 268.1V292M235.5 268.9V299.4M236.5 264V290M237.5 257.3V304.9M238.5 267.6V290.1M239.5 270.3V301.8M240.5 275.8V302M241.5 262.8V298M242.5 277.6V311.4M243.5 264.8V307.5M244.5 268.8V301.2M245.5 267.4V310.2M246.5 275.2V294.4M247.5 275.8V308.5M248.5 265.9V293.4M249.5 275.7V308.8M250.5 273.7V297M251.5 262.3V295.8M252.5 264.1V303.6M253.5 273.6V300.6M254.5 267.3V305.8M255.5 261.1V289M256.5 260.4V305.3M257.5 258.7V291.3M258.5 266.4V291M259.5 266.8V298.6M260.5 263.4V304M261.5 264.2V293.5M262.5 260.7V300.5M263.5 281.7V305.2M264.5 281.8V314.9M265.5 268.9V299.2M266.5 275V310.9M267.5 279.5V301.6M268.5 267.5V297.9M269.5 284.8V308.6M270.5 267.7V295.4M271.5 278.4V309.3M272.5 273.7V294.7M273.5 274.7V301.6M274.5 281.6V311M275.5 261.8V301.6M276.5 257V312.7M277.5 270.3V290.7M278.5 254.2V292.3M279.5 256.4V315.3M280.5 274.7V301.3M281.5 269.5V301M282.5 263V310.7M283.5 276.2V306.5M284.5 272.6V298.3M285.5 257V307.9M286.5 263.4V310.1M287.5 254.3V305.8M288.5 252.3V292.7M289.5 275.1V294.7M290.5 258.3V308.1M291.5 261.9V313.5M292.5 266.7V292.7M293.5 252.8V294.8M294.5 250.9V311.7M295.5 274.2V304.9M296.5 268.3V303.2M297.5 254V313.4M298.5 272.2V300.4M299.5 262.3V307.9M300.5 261.4V313M301.5 259.2V299.6M302.5 277.6V293.6M303.5 260.7V305.7M304.5 257.7V302.9M305.5 275.5V292.2M306.5 259.2V295.6M307.5 269.7V313.2M308.5 267V307M309.5 248.5V314.3M310.5 254.2V319.8M311.5 268.8V293.6M312.5 261.7V294.3M313.5 265.1V309.9M314.5 268.4V307.3M315.5 263.6V309.1M316.5 279.5V308.5M317.5 279.5V298.8M318.5 267.4V303.3M319.5 269.3V302.6M320.5 281.6V303.4M321.5 276.4V293.3M322.5 274.9V302.6M323.5 266.3V317.9M324.5 261.3V307.5M325.5 248.8V307.3M326.5 256.7V302M327.5 264.5V310.8M328.5 257.5V325.6M329.5 261.1V314.5M330.5 273.1V323.4M331.5 276.7V316.1M332.5 258.7V301.5M333.5 267.5V294M334.5 257.1V303.5M335.5 262.5V300.6M336.5 274.3V304M337.5 258V292.1M338.5 275.8V290.8M339.5 274.8V290.4M340.5 274.6V309.2M341.5 272.2V308.9M342.5 273.3V300M343.5 274V293.2M344.5 278.3V307M345.5 264.1V298.3M346.5 273.5V295.1M347.5 269.5V301M348.5 272.7V314.6M349.5 283.8V294.5M350.5 275.7V308M351.5 271V297.6M352.5 272V302.6M353.5 276.4V309.2M354.5 283.7V308.5M355.5 274.7V304M356.5 280.8V308.4M357.5 282.6V309.7M358.5 276V320.4M359.5 283.2V301.4M360.5 282.7V303.6M361.5 282.3V309.6M362.5 275.7V306.5M363.5 286.5V312.9M364.5 273.3V303.7M365.5 280.8V294M381.5 272.8V300.6M382.5 275.3V294.1M383.5 259.5V311.3M384.5 257.3V316.2M385.5 267.1V306.9M386.5 258.5V314.6M387.5 277.8V298.3M388.5 252.5V310.5M389.5 270V300.3M390.5 258.8V295.4M391.5 248.9V300M392.5 277.4V295.6M393.5 261.9V303.7M394.5 258.6V288.5M395.5 262V287.9M396.5 270.3V285.5M397.5 270.9V292.3M398.5 275.2V290.9M399.5 266.9V297.7M400.5 276.3V293M401.5 266.3V298.1M402.5 273.1V294.6M403.5 266V293.3M404.5 277.2V307.4M405.5 268.7V300M406.5 264.3V306.2M407.5 281V306.8M408.5 279V295.9M409.5 275.5V302M410.5 280.7V296M411.5 275.5V291.8M412.5 277.2V304.8M413.5 268.9V299.9M414.5 280.1V291.8M415.5 269.9V296.3M416.5 269.2V296.7M417.5 268.6V297.5M418.5 263.2V293M419.5 277.3V313.3M420.5 270.5V312.1M421.5 263.9V301M422.5 273.2V308.9M423.5 271.8V298.2M424.5 275.8V297.6M425.5 262.2V302.6M426.5 271.7V305.4M427.5 271.2V313.3M428.5 275.2V311M429.5 243.8V307.7M430.5 253.3V293.1M431.5 264.7V309.7M432.5 263.9V313.5M433.5 252.3V291.9M434.5 267.4V302.9M435.5 270.1V292.5M436.5 264.8V290.2M437.5 269.2V310.3M438.5 261.6V298.2M439.5 271.3V304.9M440.5 281.5V296.5M441.5 273.7V291.7M442.5 276.5V293.6M443.5 265.5V298.4M444.5 266.2V307.5M445.5 270.9V301.4M446.5 259.7V307.8M447.5 271.5V288.5M448.5 263.9V301M449.5 269.1V302.6M450.5 273.1V300.5M451.5 278V307.2M452.5 271.7V311.5M453.5 274.2V298.1M454.5 274.2V308.6M455.5 261.6V290.2M456.5 265.5V298.3M457.5 256.5V298.2M458.5 271.7V310.8M459.5 271.2V296.5M460.5 250V300.1M461.5 268.9V325.5M462.5 269.3V309.6M463.5 253.3V291.3M464.5 248.1V304.4M465.5 271.1V319.1M466.5 243.2V300.6M467.5 271.6V313.1M468.5 248.3V316.7M469.5 276V299.1M470.5 261.7V303.4M471.5 250.9V291.3M472.5 249.1V314M473.5 259.5V302.3M474.5 262.7V296.4M475.5 272.8V315.2M476.5 265.1V315.3M477.5 272.5V317.6M478.5 265.6V312.1M479.5 273V292M480.5 273.8V294M481.5 273.3V292.6M482.5 276.1V298.1M483.5 273.6V309.8M484.5 275.4V289.3M485.5 260V309.9M486.5 279.9V302.4M487.5 274.6V307.3M488.5 269.2V299.2M489.5 259.6V311.5M490.5 276.6V292.6M491.5 264.7V309.5M492.5 263.9V304M493.5 253.9V302.3M494.5 266.1V316.9M495.5 268.2V299M496.5 259.8V303.8M497.5 271.9V308.6M498.5 257.7V314.2M499.5 279.8V291.8M500.5 269V301.1M501.5 262.2V305M502.5 267.7V290.1M503.5 272.3V308.2M504.5 279.6V292.6M505.5 274.3V306.8M506.5 277.3V293.2M507.5 256.2V307.9M508.5 266.8V312.3M509.5 251.6V306.5M510.5 272.9V313.4M511.5 264V297.3M512.5 249.8V304.1M513.5 264.1V316.5M514.5 267.7V299.9M515.5 251.6V311.3M516.5 258.6V314.8M517.5 257.9V300.3M518.5 271.6V307.6M519.5 261.4V308.2M520.5 250.8V306.3M521.5 264.6V309.6M522.5 258V310.1M523.5 258.1V320.4M524.5 267.7V311.4M525.5 259V315.3M526.5 262.9V315.1M527.5 274.9V319.6M528.5 266.2V317.5M529.5 263.3V303.7M530.5 266.3V321.8M531.5 260.1V315.4M532.5 264.5V314.4M533.5 263.2V308.6M534.5 277.2V312M535.5 268.3V307.6M536.5 266.7V313.4M537.5 259.7V315.5M538.5 257.3V292.9M539.5 259.8V299M540.5 279.1V315.9M541.5 263.1V323.2M542.5 271.4V322M543.5 257.1V318.7M544.5 267.2V295.4M545.5 273.8V306.8M546.5 263.1V296.1M547.5 250.1V292.9M548.5 257V312.8M549.5 253.3V294.3M550.5 254.3V292M551.5 270.5V296.6M552.5 275.8V289.2M553.5 250.4V300.7M554.5 255V290.2M555.5 262.2V308.5M556.5 259.9V315.8M557.5 269.2V299.3M558.5 275.5V291.6M559.5 272.5V286.9M560.5 272.4V306.8M561.5 251.6V307.5M562.5 255.5V291.8M563.5 264.6V311.9M564.5 258.9V294.5M565.5 276.1V307M566.5 274.2V314.7M567.5 274.5V295.8M568.5 256.5V297.9M569.5 266.4V316.4M570.5 267.1V315.2M571.5 253.7V304.7M572.5 252.8V301.3M573.5 267.5V303.7M574.5 267.1V293.2M575.5 277.3V294.2M576.5 265.3V304.7M577.5 256.3V305.2M578.5 257.3V292.2M579.5 277.4V303.4M580.5 272.2V291.4M581.5 267.5V298.6M582.5 278V288.1M583.5 265.4V309.5M584.5 259.5V302.7M585.5 264.3V295.8M586.5 273.7V291.2M587.5 275.2V301.5M588.5 261.8V291.7M589.5 259.5V287.5M590.5 264.3V307.5M591.5 266.2V301.8M592.5 259.8V306.1M593.5 270.6V296.2M594.5 264.2V297.3M595.5 273.1V302.5M596.5 247.7V301.8M597.5 249.4V312.8M598.5 258.2V309.4M599.5 259.4V298.5M600.5 263.7V300.5M601.5 266.9V309.1M602.5 263.5V308.7M603.5 276.3V296M651.5 293V308.7M652.5 279.7V318.1M653.5 274.8V313.3M654.5 279.6V307.6M655.5 269V314.6M656.5 280.3V310.2M657.5 264.6V302.2M658.5 271.7V307.9M659.5 266.7V325.9M660.5 272V313.4M661.5 282.2V321.3M662.5 273.5V301.5M663.5 276.6V301.6M664.5 268.4V303.9M665.5 282.3V317.9M666.5 265.9V310.6M667.5 277.1V312.4M668.5 286.3V313M669.5 280.8V310.7M670.5 276.8V317.3M671.5 279.7V305.4M672.5 278.6V302.9M673.5 268.9V319.4M674.5 289.1V306.8M675.5 276.1V319.8M676.5 276.9V313.3M677.5 282.8V303.9M678.5 289V307M679.5 283.9V313.9M680.5 278.2V315.3M681.5 274.4V325.8M682.5 288.8V319.5M683.5 279.5V313.5M684.5 275.9V317.2M685.5 280.4V321.3M686.5 287.8V305M687.5 285.6V311.9M688.5 275.5V302.5M689.5 285.6V312.5M690.5 278.2V314.8M691.5 284.2V304.1M692.5 283.7V302.3M693.5 285.2V302.5M694.5 283.1V303M695.5 280.6V301.7M696.5 284.7V304M697.5 283.9V308.1M698.5 281.3V309.2M699.5 276.4V301.4M700.5 280.4V306.7M701.5 286.7V300.6M702.5 286.7V312.6M703.5 286.5V316.5M704.5 279.6V322.1M705.5 278.9V309.8M706.5 264.8V311.3M707.5 265.1V318.9M708.5 263.4V323.1M709.5 264.4V326.9M710.5 283V326.3M711.5 266.2V331.2M712.5 264.3V322.4M713.5 270.4V328.3M714.5 288V329.8M715.5 260.5V321.2M716.5 282.5V307.3M717.5 275.5V314.2M718.5 274.6V319.5M719.5 274.8V305.2M720.5 283.3V309.6M721.5 271.4V322M722.5 287.6V302.8M723.5 271.2V306.8M724.5 274.5V312.2M725.5 275.6V305.5M726.5 279.1V314.1M727.5 284.2V318.9M728.5 266.8V309.4M729.5 264.6V312.1M730.5 287.9V308.6M731.5 270.5V330.1M732.5 262V311.1M733.5 284.5V318.3M734.5 270.7V313.5M735.5 272.2V309.3M736.5 279.2V313.7M737.5 268.4V320.3M738.5 274.5V304.5M739.5 284.1V320.3M740.5 275.8V306.6M741.5 288.9V300.5M742.5 274.7V310M743.5 273.5V304.4M744.5 289.3V309.1M745.5 287V309.2M746.5 288.4V303.8M747.5 285V307.7M748.5 283.8V306.7M749.5 280.3V307.8M750.5 282.6V310.4M751.5 288.5V306.8M752.5 286.3V309.2M753.5 278.6V309.1M754.5 278V300.2M755.5 282.9V310.4M756.5 278V319.8M757.5 272.8V312.5M758.5 285.6V312.7M759.5 276V306.7M760.5 278.3V325.6M761.5 272.8V314M762.5 275.8V319.5M763.5 268V307.9M764.5 272.6V301.3M765.5 284.6V311.6M766.5 277V316.1M767.5 285.6V313.5M768.5 283.1V309M769.5 292.9V317.6M770.5 282.8V322.2M771.5 279.6V311.2M772.5 286.9V304.5M773.5 287V314.1M774.5 284.8V320.3M775.5 279.1V319.6M776.5 280.5V309.8M777.5 279.7V308M778.5 285V303.2M779.5 289.5V317.8M780.5 279.4V319.2M781.5 282.5V310.3M782.5 280.8V311.2M783.5 281.2V314.2M784.5 284.5V320.2M785.5 284.3V306M786.5 284.8V318.3M787.5 274.2V318.1M788.5 284.9V301.3M789.5 282.6V305.7M790.5 274V316.4M791.5 277.5V303.1M792.5 284.4V321.9M793.5 270.8V311.1M794.5 279.5V316.3M795.5 280.4V306.8M796.5 276.1V300.4M797.5 277V303.8M798.5 285.4V314.6M799.5 286.1V317.6M800.5 284.6V316.2M801.5 267.5V299.9M802.5 276.8V306.4M803.5 272.6V308.9M804.5 275.2V302.4M805.5 278.6V301.5M806.5 265.3V321.5M807.5 276.5V312.1M808.5 276.3V305.7M809.5 277.6V297.9M810.5 274.4V315.2M811.5 270.6V307.8M812.5 274.3V317.9M813.5 287.2V300.8M814.5 284.9V313.8M815.5 282.1V304.1M816.5 270.7V306M817.5 276.1V297M818.5 266.1V318.4M819.5 279.6V298.6M820.5 286.9V306.4M821.5 284.6V312.6M822.5 270.4V305.5M823.5 282.3V303M824.5 277.2V314.1M825.5 286V302.1M826.5 273.2V319.5M827.5 271.7V307.9M828.5 283.7V309.7M829.5 282.4V321M830.5 271.2V310.1M831.5 267.6V299.1M832.5 267.5V311.1M833.5 276.7V315.9M834.5 284.3V319.2M835.5 288.2V299.1M836.5 275.4V308.6M837.5 283.7V305M838.5 286.8V300.3" stroke="#ea3052" stroke-opacity="0.23" stroke-width="1" fill="none"/>
<path d="M134.5 257V310.1M135.5 260.2V315.6M136.5 257.9V295.3M137.5 262.2V301.3M138.5 274.9V316.7M139.5 265.8V294.4M140.5 253.5V306.1M141.5 272.5V319.4M142.5 268.9V317.4M143.5 267.1V304.9M144.5 270.6V305.3M145.5 267.9V304.1M146.5 278.3V303.1M147.5 270V303.6M148.5 270.8V301.5M149.5 282.8V304.3M150.5 283.9V298.5M151.5 273.5V294M152.5 276.3V304M153.5 272.3V302.2M154.5 283.6V301.6M155.5 279.1V309.4M156.5 278.6V299.4M157.5 282.4V298.6M158.5 275.7V299.3M159.5 278V304.6M160.5 276.1V305.4M161.5 277.9V296.1M162.5 260V307M163.5 270.8V309.5M164.5 264.8V292.1M165.5 249.3V293.8M166.5 266.4V291.9M167.5 248.9V292.5M168.5 253.9V285.9M169.5 260.8V291.3M170.5 257.3V287.7M171.5 239.1V317.5M172.5 257.6V306.2M173.5 240.4V298.2M174.5 254.6V311.4M175.5 245.4V297.3M176.5 245.4V316.2M177.5 248.5V307.8M178.5 268.8V313.3M179.5 267.7V314.5M180.5 254.3V302.7M181.5 253.7V293.6M182.5 255.8V314.7M183.5 276.8V310.9M184.5 272.7V305.9M185.5 270.5V300.2M186.5 262.3V308.6M187.5 275.1V304.9M188.5 280.1V309.1M189.5 268.9V299.1M190.5 285V315.1M191.5 278.3V304.5M192.5 275.5V315M193.5 270.7V304.7M194.5 279.9V318.3M195.5 275.4V318.6M196.5 284.4V314.2M197.5 274.1V297.3M198.5 269.4V317.1M199.5 260.1V298M200.5 262V301.7M201.5 259.7V311.8M202.5 277.5V320.8M203.5 278.4V317M204.5 265.4V307.3M208.5 267.9V298.5M209.5 261.6V315.8M210.5 259V309.3M211.5 269.6V308.9M212.5 255.4V319M213.5 249.4V297.9M214.5 253V291.4M215.5 257.3V311M216.5 255.7V321.4M217.5 276.4V302.1M218.5 276.9V318.1M219.5 250V309.6M220.5 278.4V320.6M221.5 280.1V300.2M222.5 263.9V314.5M223.5 274.2V298.8M224.5 278.2V305.9M225.5 269.6V303M226.5 279.5V298.7M227.5 278.5V304.4M228.5 270V301.4M229.5 268.2V291.7M230.5 272.2V301M231.5 270V300.2M232.5 267.2V301.9M233.5 264.1V288.3M234.5 260.4V288.7M235.5 268.8V296M236.5 259.5V289.5M237.5 260.9V289.2M238.5 267.7V290.5M239.5 262.9V291.3M240.5 261.5V312.6M241.5 263.5V302.5M242.5 259.6V301.5M243.5 257.1V302.1M244.5 263.2V317.2M245.5 261.8V292.5M246.5 265.9V309M247.5 259.4V294.5M248.5 258.1V303.4M249.5 255V302.4M250.5 278.7V302.4M251.5 270.3V310.2M252.5 261.5V300.6M253.5 277V295.1M254.5 279.9V295.6M255.5 265.1V306.3M256.5 270.8V295.9M257.5 265.1V302M258.5 261.9V289M259.5 265.3V303.9M260.5 253.6V308.3M261.5 269.9V313.1M262.5 275V314.8M263.5 277.7V300.8M264.5 261.3V302M265.5 270.6V301.5M266.5 267.3V312.1M267.5 260.4V304M268.5 281.8V303.2M269.5 274.8V296M270.5 265.5V312M271.5 268.5V301.5M272.5 284V302.4M273.5 285.1V312.3M274.5 274.9V303M275.5 268.7V312.7M276.5 273.4V296.9M277.5 259.3V300.6M278.5 275.7V293.1M279.5 271.1V316.3M280.5 266.4V292.2M281.5 257.3V301M282.5 258V295.5M283.5 269.8V299.4M284.5 270.2V299.3M285.5 258.1V311.3M286.5 272.7V305.7M287.5 260.4V294.2M288.5 255.9V295.2M289.5 268.7V314.1M290.5 253.4V312.4M291.5 255.6V304.1M292.5 246.4V295.7M293.5 249V298M294.5 260.8V311.2M295.5 246.7V313.5M296.5 256.3V303.9M297.5 256.3V299.3M298.5 259.6V294.3M299.5 264.5V304.7M300.5 267.6V305.5M301.5 281.1V312.2M302.5 279.2V297.9M303.5 268.6V306.4M304.5 276V293.3M305.5 266.9V295.5M306.5 266.8V294.6M307.5 274.8V298.4M308.5 264.8V316.5M309.5 271.3V298.3M310.5 252.9V305.7M311.5 267.2V296.2M312.5 266.1V314.8M313.5 261.1V301.6M314.5 274.5V297M315.5 278.8V292.6M316.5 275.7V298M317.5 270.6V311.4M318.5 263.9V305.5M319.5 275.8V305.7M320.5 265.2V292.7M321.5 272.8V301.2M322.5 259.6V296.6M323.5 279.7V295.9M324.5 252.8V298.7M325.5 263.1V308.6M326.5 278.4V297.7M327.5 275.6V314.3M328.5 265.7V307.7M329.5 278.4V317.5M330.5 263.4V302.3M331.5 270.8V300.6M332.5 244.6V306.5M333.5 260V307.7M334.5 257.5V312.3M335.5 261.5V288.4M336.5 259.1V289.6M337.5 259.2V303M338.5 258.5V299.8M339.5 263.7V298.1M340.5 270.3V309.7M341.5 276.4V307.7M342.5 260.4V309M343.5 277V304.7M344.5 262.4V292.4M345.5 265.5V297.6M346.5 282.3V305.2M347.5 282.4V316.7M348.5 274.1V303.2M349.5 280.1V294M350.5 273.4V303.1M351.5 268.9V310.1M352.5 277.4V303M353.5 285.7V311.2M354.5 275.5V310.6M355.5 283.2V312.4M356.5 269.8V299M357.5 266.4V318M358.5 282V312.5M359.5 281.2V316.9M360.5 264.8V309.8M361.5 276.7V295.8M362.5 262.7V316.2M363.5 265.9V306.4M364.5 280.4V298.6M365.5 279.1V303.7M381.5 273.9V303M382.5 275.3V309.4M383.5 274.1V306.4M384.5 264.2V312M385.5 272.6V323.6M386.5 249.1V315M387.5 266.1V306.3M388.5 273.5V321.2M389.5 261.5V307.6M390.5 255.1V292.6M391.5 265.5V290.1M392.5 274V302.9M393.5 275V308.5M394.5 258.3V288M395.5 261.1V288.4M396.5 270V291.7M397.5 273V297.6M398.5 271.3V294.9M399.5 268.1V304.6M400.5 264.7V291M401.5 266V295M402.5 263.1V290.9M403.5 273V301M404.5 275.3V305M405.5 279.8V294.2M406.5 272.3V300.9M407.5 273.4V304M408.5 280.5V297.8M409.5 270.2V293.2M410.5 275.2V298M411.5 278.9V291.5M412.5 274.7V304.4M413.5 276.2V299.1M414.5 273.1V296.7M415.5 278.5V300.7M416.5 273.6V303M417.5 267.8V295M418.5 273.3V311.9M419.5 270.6V313.2M420.5 272V291M421.5 254V295M422.5 270.2V298.1M423.5 272.1V308.5M424.5 253.2V296.6M425.5 262.2V305.6M426.5 267.1V313.1M427.5 271.8V315.4M428.5 242.6V318.3M429.5 273.2V293.7M430.5 265.4V318.9M431.5 269.4V313.7M432.5 274.8V313.7M433.5 267.5V323.7M434.5 260.6V294.8M435.5 267.7V308.2M436.5 258V308.3M437.5 255.7V314.6M438.5 259.6V310M439.5 281.8V296.9M440.5 280.9V295.3M441.5 261.9V309.4M442.5 272.5V301.7M443.5 267.3V294.6M444.5 275.1V294.1M445.5 255.1V301.1M446.5 259.3V290.8M447.5 259V296.8M448.5 268.7V294.5M449.5 265.3V305.5M450.5 268.1V294.6M451.5 258.7V300.5M452.5 262.1V307M453.5 278.1V297.1M454.5 268.8V292.1M455.5 258.3V289M456.5 265.9V298.6M457.5 256.9V302M458.5 257.8V299.2M459.5 260.1V306.8M460.5 260.8V321.1M461.5 266.6V294M462.5 260.7V319.5M463.5 247.1V321.3M464.5 245.4V304.6M465.5 272.2V302.7M466.5 258.1V294.4M467.5 265.6V317.8M468.5 253.7V319.3M469.5 262.7V318.7M470.5 277.1V320.3M471.5 266.2V297.4M472.5 273.8V309.2M473.5 255.4V299M474.5 273.2V300.1M475.5 260.1V300.8M476.5 252.6V293M477.5 272.8V317.3M478.5 279.5V296.8M479.5 264.5V314.6M480.5 261.9V309.6M481.5 259.1V294M482.5 269.8V292.8M483.5 263.2V309.5M484.5 272.8V296.5M485.5 274.4V300M486.5 260.2V294.6M487.5 277.8V290.7M488.5 252.9V307.5M489.5 271.3V308.9M490.5 263.3V307.6M491.5 259.1V312.7M492.5 262.4V311.7M493.5 274.3V303.8M494.5 266.8V306.5M495.5 272.2V292.8M496.5 271.9V294.5M497.5 266.8V291.4M498.5 270.1V297.6M499.5 275.9V296.9M500.5 265.5V293.6M501.5 270.4V290.8M502.5 264.7V300.6M503.5 281.2V296.5M504.5 278V305M505.5 272.9V293.6M506.5 275V310.7M507.5 257.7V289.3M508.5 262.5V289M509.5 263V289.3M510.5 261.9V314.7M511.5 272.7V288.7M512.5 259.2V290.5M513.5 254.3V290.9M514.5 264.6V310.8M515.5 261.6V296.6M516.5 270.9V292M517.5 266V303.8M518.5 269.3V296.2M519.5 255.5V308M520.5 261.1V290.8M521.5 274.2V287.8M522.5 268.8V289.8M523.5 249.5V311.5M524.5 248.6V305.3M525.5 271.7V304.4M526.5 277.9V296.5M527.5 258.7V305.3M528.5 260.9V312.7M529.5 270.6V314.1M530.5 256.2V304M531.5 268.3V298.2M532.5 270.1V315.9M533.5 261.9V304.6M534.5 274V316M535.5 259.1V315.2M536.5 272.6V313.9M537.5 254V302.7M538.5 271.9V321.7M539.5 262.7V304.6M540.5 273.5V324.9M541.5 256.1V322M542.5 258.9V323.2M543.5 273.2V304.3M544.5 268V316.5M545.5 270.6V304.7M546.5 273.1V295.5M547.5 266.9V307.5M548.5 253.3V304.8M549.5 266.8V299.8M550.5 269.9V300.4M551.5 258.4V298.2M552.5 261.6V297.4M553.5 259V312.1M554.5 268.8V304M555.5 250V297.3M556.5 246.9V308.4M557.5 269.5V302.2M558.5 270.4V293.9M559.5 272.4V293M560.5 255.7V291.6M561.5 256.6V312.2M562.5 251.9V287.7M563.5 254.5V290.8M564.5 261.2V312.2M565.5 263.9V300.5M566.5 262.8V302.5M567.5 255.9V297.3M568.5 273.4V306.8M569.5 254V303.9M570.5 256.4V310.4M571.5 268.6V291.2M572.5 276.4V313.4M573.5 274.4V295.2M574.5 268.3V292.5M575.5 272.4V313.2M576.5 263.2V300.9M577.5 270.2V296.1M578.5 263.8V291.3M579.5 274.2V302.3M580.5 277.5V303.3M581.5 268.3V290.1M582.5 268.7V296.5M583.5 257.6V296.2M584.5 272V303.1M585.5 267.4V292M586.5 267V299.7M587.5 268.7V286.8M588.5 260.9V294.3M589.5 277V302M590.5 254.3V310M591.5 258.8V309.8M592.5 250.6V294.3M593.5 275.1V306.9M594.5 253.6V305.7M595.5 261.3V292.9M596.5 254.3V310.7M597.5 276.5V298.6M598.5 259V316.8M599.5 262.1V314.8M600.5 253.1V317.6M601.5 252.6V309M602.5 252.4V315.7M603.5 263.6V320M651.5 287.5V312M652.5 289V311.8M653.5 279.5V315.3M654.5 284.1V318.6M655.5 272.9V320.8M656.5 288.7V322.8M657.5 267.5V319.3M658.5 264.8V304.2M659.5 273V319M660.5 263.5V320.4M661.5 281.4V329M662.5 268V311.7M663.5 264.1V313.8M664.5 267.4V313.4M665.5 272.9V307.5M666.5 261.5V323.9M667.5 276V307.3M668.5 265.4V305.5M669.5 269.2V318.6M670.5 279.9V314.2M671.5 273.7V309.7M672.5 277.7V313M673.5 280.2V317.3M674.5 280V317.9M675.5 274.5V318.6M676.5 279.2V301.8M677.5 284.5V301.3M678.5 270.3V317.3M679.5 289.3V320.1M680.5 289.9V311.6M681.5 289.8V302.4M682.5 289V322.2M683.5 277.9V324.3M684.5 283.6V313.8M685.5 284.9V306.8M686.5 285.6V308.9M687.5 287.8V308.9M688.5 278.9V317.6M689.5 293.6V307.3M690.5 292.8V310.3M691.5 292.7V299.5M692.5 285V304.9M693.5 291.9V301M694.5 281.6V301.2M695.5 288V300.3M696.5 280.6V304.9M697.5 285.4V299.6M698.5 280V309.9M699.5 283.5V308.7M700.5 289.8V313.8M701.5 285.1V306.8M702.5 273.8V303.1M703.5 284.6V299.1M704.5 281.2V317.1M705.5 277.4V306.9M706.5 280V301.6M707.5 263V307.9M708.5 275.4V331.2M709.5 266V307.6M710.5 267.6V331.2M711.5 277.4V331.2M712.5 266.9V319.2M713.5 264.4V315.1M714.5 259.9V331.1M715.5 259.5V324M716.5 277.3V309.2M717.5 278.1V318.9M718.5 276.4V306.3M719.5 277.6V317.6M720.5 284.8V300.5M721.5 284.2V313.2M722.5 283.5V320.8M723.5 278.7V316.4M724.5 281.8V313.1M725.5 279.7V322.6M726.5 268.4V322.2M727.5 286.1V320.8M728.5 286.5V313.9M729.5 282.9V314.8M730.5 278.7V318.8M731.5 271.8V319.5M732.5 288.4V328.8M733.5 288.8V319.5M734.5 279.7V318.4M735.5 267.8V322M736.5 280.5V312.7M737.5 286.1V318.9M738.5 268.6V313.1M739.5 277.5V302.2M740.5 282.6V309.8M741.5 287.8V314.7M742.5 278.1V306.1M743.5 287.6V308.2M744.5 287.1V302.9M745.5 288.1V304M746.5 281.1V308.4M747.5 288.6V299M748.5 283.8V307.7M749.5 283.4V300.5M750.5 288.1V310.7M751.5 276.5V302.6M752.5 276.5V301.4M753.5 287.2V314.9M754.5 281.7V318.9M755.5 279.1V307.5M756.5 279.6V301M757.5 268.7V317.2M758.5 277.6V306.6M759.5 261.1V320.4M760.5 275.2V322.4M761.5 267.3V314.6M762.5 283.9V325.7M763.5 274.2V306.2M764.5 274.3V314.1M765.5 274.6V316.3M766.5 282.9V323.1M767.5 289.4V303.5M768.5 287.6V307.3M769.5 293V318.3M770.5 290V313.7M771.5 282.8V317M772.5 294.9V315.2M773.5 282.4V320.4M774.5 288.5V305.1M775.5 283.5V315.2M776.5 282V305.9M777.5 282.4V315.6M778.5 282.3V309.3M779.5 293.1V319.9M780.5 289.9V315M781.5 292.7V304.2M782.5 280.9V310.4M783.5 281.8V317.7M784.5 291.2V303.5M785.5 285.5V318M786.5 287.9V302.1M787.5 272.9V312M788.5 286.4V318.3M789.5 283.3V318.6M790.5 281.3V301M791.5 284.3V305.5M792.5 275.4V316.7M793.5 282.7V300.9M794.5 281.5V303.1M795.5 286.5V324.9M796.5 276.7V319.4M797.5 276.1V319.9M798.5 284.3V303.6M799.5 278V303.8M800.5 275.2V313.6M801.5 267.4V297.9M802.5 275.3V304.9M803.5 284.9V316.2M804.5 276.3V305.7M805.5 269.7V311.3M806.5 278.7V317.9M807.5 282.6V315.7M808.5 281.9V304.1M809.5 268V306.1M810.5 274.5V317.8M811.5 276.6V318.6M812.5 285V302.5M813.5 270V298.1M814.5 280.6V313.6M815.5 272.1V310.1M816.5 270.6V297.9M817.5 283.8V315.5M818.5 268.4V314.5M819.5 276.5V311M820.5 287.2V311.2M821.5 276.2V311.8M822.5 272.8V303.8M823.5 266.5V316.2M824.5 275V307.8M825.5 271.2V318.2M826.5 271.9V317.7M827.5 265.6V321M828.5 279.2V303.3M829.5 271.6V315.2M830.5 285.2V310.5M831.5 280.8V313.2M832.5 283.8V299.7M833.5 283V305.3M834.5 287.2V318.1M835.5 270.4V301.3M836.5 289.6V312.6M837.5 281.9V307.2M838.5 291V311.1" stroke="#ea3052" stroke-opacity="0.23" stroke-width="1" fill="none"/>
<path d="M134.5 258.8V309M135.5 248.4V315.7M136.5 261.6V319.4M137.5 258.5V295.9M138.5 274.5V315M139.5 275.7V296.9M140.5 275V291.6M141.5 269.6V302.3M142.5 260.9V309.9M143.5 275.3V319.6M144.5 267.1V301.6M145.5 266.7V307.1M146.5 273.9V298.8M147.5 271.1V295.5M148.5 281.3V293.4M149.5 271.2V301.8M150.5 267.1V293.9M151.5 274.1V300.3M152.5 269.2V304.7M153.5 277.7V303.4M154.5 277V300.8M155.5 272.6V308.5M156.5 279.9V303.3M157.5 277V302.9M158.5 281.4V309M159.5 273.5V300.8M160.5 261.1V296.8M161.5 275.2V308.9M162.5 275.1V293.3M163.5 269.1V297.6M164.5 275.1V310.2M165.5 259V292.5M166.5 247.3V293.2M167.5 272.6V304.5M168.5 243V292.2M169.5 248.5V313.6M170.5 251.9V286.1M171.5 259V293.1M172.5 254.8V292.9M173.5 262.9V301.9M174.5 269.1V312.4M175.5 263.2V303.9M176.5 246.3V286.3M177.5 269.7V305.3M178.5 249.1V305.9M179.5 260.2V293.9M180.5 266.6V297.5M181.5 276V307M182.5 267.6V295.7M183.5 270.4V315.2M184.5 266.9V298.9M185.5 263.6V304M186.5 264.7V316.6M187.5 274V309.5M188.5 284.3V301.7M189.5 279.6V298.7M190.5 273.3V305.3M191.5 287.1V303.8M192.5 274.6V308.5M193.5 272V302.9M194.5 275.4V298.3M195.5 274.7V310.7M196.5 274.9V312.3M197.5 278.1V304.3M198.5 269.2V297.8M199.5 265.6V315.2M200.5 268.7V324.5M201.5 259.6V321.6M202.5 272.6V297M203.5 260.2V305M204.5 274.4V298.2M208.5 255V309.9M209.5 279.1V294.6M210.5 263.9V317.1M211.5 249.7V309.9M212.5 266.8V321M213.5 269.9V293.3M214.5 253.6V291.2M215.5 249.5V310.5M216.5 276.4V308.6M217.5 277V302M218.5 272.7V298.2M219.5 271.6V322.8M220.5 278.3V313.8M221.5 256.3V307.4M222.5 268.3V305.8M223.5 283.1V302.8M224.5 263.5V302.4M225.5 264.7V289.9M226.5 276.2V297.7M227.5 280.7V299.2M228.5 278V305.8M229.5 269.8V296M230.5 268V300.8M231.5 262.9V301.1M232.5 263.5V301.2M233.5 262.9V302.5M234.5 276.2V298.6M235.5 261.5V287.1M236.5 267.5V301.7M237.5 259.1V297.5M238.5 273.5V301M239.5 278V305.6M240.5 269.4V304.7M241.5 268.7V296.1M242.5 264.4V301M243.5 262.4V309.2M244.5 273V302.9M245.5 274V293.2M246.5 278.5V309.9M247.5 276V300.5M248.5 278.2V310M249.5 256.7V294.8M250.5 267.2V305.7M251.5 276.5V295.1M252.5 265.9V307.3M253.5 267.7V307.9M254.5 264.3V291.3M255.5 277.3V294.2M256.5 268.1V300.6M257.5 270V300.9M258.5 263.2V294.8M259.5 253.5V291.7M260.5 265.1V306.9M261.5 270.9V314M262.5 271.2V305.1M263.5 265.3V315.3M264.5 281.4V303.7M265.5 281.6V315.8M266.5 262.2V295.6M267.5 261V304.6M268.5 269.9V307.9M269.5 277.1V308.1M270.5 269.3V293.9M271.5 270.3V295.2M272.5 267.7V308.2M273.5 278.7V300.5M274.5 283.3V305.3M275.5 269.4V311.7M276.5 262.5V299.7M277.5 272.5V293.6M278.5 254.1V298.6M279.5 259.6V309.7M280.5 262.1V314.9M281.5 258.7V299.1M282.5 269.9V309.3M283.5 267.1V304.2M284.5 258.5V292.9M285.5 258.5V309.7M286.5 255.9V310.7M287.5 248.1V313.4M288.5 259.5V294.7M289.5 247.2V296.1M290.5 269.8V318.7M291.5 246.5V310.3M292.5 276.1V296.4M293.5 274.3V299.8M294.5 259.2V296.2M295.5 271.8V309.1M296.5 269.2V313.2M297.5 257.2V313.2M298.5 272.5V295.2M299.5 262.4V303.4M300.5 258.9V308.1M301.5 270.2V311M302.5 263.3V310M303.5 260.9V304.2M304.5 271.5V294.6M305.5 265.7V292.5M306.5 263.2V306.4M307.5 271.4V312.9M308.5 272.8V294.1M309.5 268.3V311.7M310.5 263V319.3M311.5 255.8V293.5M312.5 277.8V297.3M313.5 269.7V304.2M314.5 263.9V289M315.5 264.6V302.3M316.5 278.2V297.9M317.5 263.3V306.8M318.5 263.6V296.4M319.5 271.8V293.9M320.5 269.2V294.9M321.5 271V296.4M322.5 281.1V309.6M323.5 271.3V295.1M324.5 280V307.6M325.5 274.2V314.6M326.5 261.5V296.5M327.5 257.1V306.1M328.5 255.6V299.3M329.5 251.4V299.8M330.5 262.7V309.2M331.5 266.5V314.2M332.5 254V312.6M333.5 265.2V316.5M334.5 263.1V297.5M335.5 259.8V309.9M336.5 256.4V312.3M337.5 259.1V295.8M338.5 274.7V298.9M339.5 264.7V301.6M340.5 271V297.8M341.5 261.8V293.3M342.5 275.2V302.4M343.5 271.8V302.1M344.5 269.2V297.9M345.5 273.1V295.1M346.5 282.2V294.9M347.5 276.4V299.9M348.5 274.1V303.5M349.5 274.4V296.1M350.5 279.2V304.9M351.5 280.9V298.5M352.5 284.6V308.8M353.5 276.4V302.7M354.5 274.6V300.9M355.5 270.7V302.7M356.5 280.3V314.8M357.5 266.9V314.4M358.5 270.4V306.2M359.5 281.5V298.4M360.5 265.9V300.5M361.5 274.7V299.8M362.5 265.6V298.3M363.5 279.1V310.8M364.5 284.2V296.4M365.5 284.7V295.6M381.5 268.1V301.5M382.5 263.7V313.1M383.5 269V300.5M384.5 254.9V313.6M385.5 272.3V314.1M386.5 259.5V321.4M387.5 256.3V294.4M388.5 256.8V310.1M389.5 274.5V312M390.5 258.2V303M391.5 255.3V302.5M392.5 254.5V305.2M393.5 278.6V306.2M394.5 273V301.4M395.5 276.7V293.8M396.5 272.3V292M397.5 277.4V296.9M398.5 277V297M399.5 263.6V289.9M400.5 271.2V298M401.5 277.1V293.7M402.5 274.7V299.4M403.5 268.5V294.6M404.5 278.2V295.2M405.5 269.6V293.3M406.5 274.4V306.2M407.5 272.8V301.3M408.5 268.9V293.4M409.5 273.2V296.4M410.5 275.1V293.3M411.5 273.3V291.4M412.5 276.7V294M413.5 281V300.1M414.5 272.7V298.8M415.5 276.5V293M416.5 280.2V301.8M417.5 271.9V303.2M418.5 273.7V297.1M419.5 280.1V298.8M420.5 276.3V312.3M421.5 268.1V316.7M422.5 269.8V295.7M423.5 275.8V296M424.5 272.5V319.6M425.5 263.9V294.1M426.5 262.4V303.6M427.5 250.3V304.4M428.5 263.2V307.6M429.5 269.1V303.6M430.5 259.2V304.3M431.5 259.1V293.4M432.5 258.6V322.1M433.5 252.5V322.6M434.5 246.3V312.7M435.5 274.5V307.5M436.5 254.4V298.1M437.5 277.1V313.8M438.5 255.9V301.1M439.5 276.4V309.9M440.5 269.5V291.8M441.5 263.9V301.5M442.5 263.3V306.8M443.5 262.9V296.5M444.5 275.5V298.6M445.5 265.3V306.8M446.5 268V295.2M447.5 268V309.9M448.5 259.1V315.4M449.5 254V296.6M450.5 259.8V310.5M451.5 276.7V289.8M452.5 258.9V296.6M453.5 259V311.3M454.5 259.1V290.1M455.5 266V306.2M456.5 270.4V303.7M457.5 260.8V308.3M458.5 275.9V301.7M459.5 263.5V313.5M460.5 256.2V315.8M461.5 270.8V312.3M462.5 243.9V309.2M463.5 262.4V316.9M464.5 267.6V314.1M465.5 240V327.5M466.5 262.3V292.2M467.5 274.8V309.6M468.5 263.5V306.2M469.5 252V298.4M470.5 261.5V310.7M471.5 251.9V315.5M472.5 259.1V312.5M473.5 273V316M474.5 268.8V308.9M475.5 277.7V300.5M476.5 273.4V293.8M477.5 263.2V303M478.5 257.6V298.5M479.5 275.3V315M480.5 278.7V293M481.5 259.3V297.2M482.5 275.9V297.5M483.5 269.7V308.4M484.5 275.2V302.1M485.5 270.2V308.1M486.5 263.7V306.6M487.5 272.7V301.1M488.5 258.3V309.8M489.5 276.5V310.9M490.5 272V306.8M491.5 265.8V313M492.5 252.4V307M493.5 267.8V295.3M494.5 265.2V316.8M495.5 279.8V298.8M496.5 279.3V304.3M497.5 265.9V308.9M498.5 260.2V293.4M499.5 269.8V309.8M500.5 274.3V302.7M501.5 275.6V297.7M502.5 278.3V293.9M503.5 276.9V309.2M504.5 280.6V302.7M505.5 259.6V306.5M506.5 257.9V291.9M507.5 265.7V292.9M508.5 266.4V293.7M509.5 256V313.4M510.5 251.3V292.3M511.5 260.3V300.1M512.5 250.6V313.1M513.5 243.2V306.8M514.5 259.3V314.8M515.5 246.3V296.7M516.5 250V294.8M517.5 274.2V301.3M518.5 272.2V293.8M519.5 253.3V292.3M520.5 269.5V291.5M521.5 254.2V291.8M522.5 276.7V298.9M523.5 255.9V293.2M524.5 265V290.7M525.5 253.8V293.9M526.5 261V309.6M527.5 259.6V315.6M528.5 278.2V306.5M529.5 268V316.7M530.5 276.5V299.2M531.5 274.4V318.4M532.5 280.8V295.6M533.5 281.4V303M534.5 260.6V298.1M535.5 263.7V301.4M536.5 265.9V309.8M537.5 276.3V309.8M538.5 274.9V319.5M539.5 255.2V298.7M540.5 252.8V318.1M541.5 253.6V296.7M542.5 270.5V305.7M543.5 252.3V315.1M544.5 256.3V309.9M545.5 269.8V290.1M546.5 269.4V304.7M547.5 262.2V315.6M548.5 261.6V313M549.5 265V305.6M550.5 272.6V305.3M551.5 256.2V313.4M552.5 265.2V305.3M553.5 249.4V304.8M554.5 259V292.2M555.5 253.4V310.5M556.5 272.7V313.5M557.5 252.6V309.1M558.5 265.9V302.5M559.5 270V313.2M560.5 268.6V309.6M561.5 272.5V298.6M562.5 264.2V307.8M563.5 249.1V300.7M564.5 267.2V299.3M565.5 260.1V303.2M566.5 257.1V309.6M567.5 273.6V301.3M568.5 269.5V305.6M569.5 260.3V312.5M570.5 275.7V301.1M571.5 257.6V291.2M572.5 254.5V296.2M573.5 271.8V306.6M574.5 266.2V293.2M575.5 258.3V301.2M576.5 267.9V311.3M577.5 258.8V312.3M578.5 266V308.9M579.5 277.5V307.4M580.5 273V291.5M581.5 271.8V302.4M582.5 277.7V286.9M583.5 255.2V311.3M584.5 269.9V300.1M585.5 268.7V291.2M586.5 266.4V302.1M587.5 262.5V299.1M588.5 259.7V300.3M589.5 270.2V294.4M590.5 273.8V310.9M591.5 258.4V313.9M592.5 264.2V318.3M593.5 253.3V292.7M594.5 261.4V297M595.5 255.8V297.3M596.5 259.3V318.8M597.5 262.5V309.1M598.5 274V305.6M599.5 254.8V323.6M600.5 272.9V307.2M601.5 277.6V312.6M602.5 252.5V311.1M603.5 253.2V309M651.5 279.7V321M652.5 286.4V309.3M653.5 276.7V305.1M654.5 282.5V323.1M655.5 274.5V321M656.5 284.6V303.5M657.5 268.4V327.5M658.5 288.1V328.4M659.5 271.2V323.1M660.5 264.6V307.1M661.5 270.1V330.1M662.5 284V315.8M663.5 264.9V326.9M664.5 278.7V321.2M665.5 275.2V316.9M666.5 275.2V324.3M667.5 287.7V302.9M668.5 275.2V309.7M669.5 278.7V308.9M670.5 275.6V311M671.5 287.1V301.6M672.5 284.1V299.3M673.5 272.1V306.5M674.5 279.2V308.9M675.5 274.5V318.5M676.5 290.9V310.7M677.5 270.6V304.7M678.5 277.5V303.5M679.5 281.4V312.3M680.5 266.9V326.3M681.5 287.1V303.9M682.5 275.6V314.2M683.5 276.3V327.2M684.5 275.9V306.5M685.5 281.5V312.6M686.5 277V317M687.5 287.6V320.4M688.5 290.6V319.2M689.5 290V305.2M690.5 281.8V303.2M691.5 291.9V309.9M692.5 285.2V300.3M693.5 287.9V307.9M694.5 287.8V305.2M695.5 287.2V309.6M696.5 284.6V297.9M697.5 289.2V307.8M698.5 284.6V299.1M699.5 271.9V309.3M700.5 279.1V306.2M701.5 286.1V318.8M702.5 283.3V301.3M703.5 285V305.1M704.5 272.6V305.4M705.5 268.4V319.7M706.5 280.2V321.3M707.5 268.9V325.9M708.5 262.1V308.4M709.5 260.4V316.8M710.5 270.4V331.2M711.5 266V320.1M712.5 261.5V331.2M713.5 258.3V310.1M714.5 286.3V311.9M715.5 286.8V330.3M716.5 273.7V318.9M717.5 273.9V319.3M718.5 287.2V305.8M719.5 289.2V304.2M720.5 272.4V316.2M721.5 271.2V306.8M722.5 285.9V310M723.5 282.5V318.3M724.5 283.2V308.5M725.5 284.7V306.6M726.5 266.9V326M727.5 285.5V304M728.5 269.4V322.1M729.5 261V307.9M730.5 278.3V304.6M731.5 266V329.5M732.5 268.8V314M733.5 271.7V310.7M734.5 284.7V321.5M735.5 266.4V308.5M736.5 285.9V319.4M737.5 275.1V305.6M738.5 288.1V309.6M739.5 273.9V300.2M740.5 278.8V306.7M741.5 288.3V306M742.5 282.9V316.9M743.5 279.2V306.5M744.5 282.1V311.8M745.5 280.9V302.4M746.5 283.6V298.3M747.5 286.2V310.3M748.5 277.9V309.4M749.5 288.3V296.2M750.5 274.5V309.8M751.5 278.9V311.6M752.5 288.4V304.8M753.5 278.2V300.9M754.5 284.4V305.5M755.5 276.6V317.3M756.5 271.3V312.6M757.5 280.2V300.4M758.5 278.4V319.7M759.5 277.4V321.3M760.5 271.2V322.5M761.5 264.5V321.7M762.5 276.7V313M763.5 288.1V310.2M764.5 272.4V301.4M765.5 274.1V301.3M766.5 287.8V322.5M767.5 286V317.3M768.5 276.3V317.5M769.5 279.2V308.5M770.5 292.9V317.3M771.5 279V317.3M772.5 285.7V314.3M773.5 289.7V310.4M774.5 275.1V304.4M775.5 294.9V306.2M776.5 283.9V312M777.5 288.4V318.7M778.5 282.7V307.5M779.5 277.6V308.8M780.5 286.6V312.7M781.5 283V312.7M782.5 293.1V312.7M783.5 283V315.4M784.5 281.4V314.6M785.5 274V306.7M786.5 279.6V312.5M787.5 270.9V315.9M788.5 272.2V321.8M789.5 286.7V318.6M790.5 284.8V300.3M791.5 273.9V305.8M792.5 262.2V318.6M793.5 269.5V309.9M794.5 283.3V305.2M795.5 272V317.3M796.5 281.3V305.1M797.5 265.5V320.8M798.5 264.2V316.9M799.5 273.2V316.6M800.5 266.7V311.8M801.5 270.8V315.7M802.5 280.7V319.3M803.5 285.2V302.6M804.5 285V312.5M805.5 277.8V312.5M806.5 265.5V301.3M807.5 269.4V299.4M808.5 272.8V306.7M809.5 271.8V300.5M810.5 277.5V305.3M811.5 274V303.5M812.5 276.2V304M813.5 276.8V315.4M814.5 282.9V298.8M815.5 279.8V298.3M816.5 277.5V311.6M817.5 272.6V309.4M818.5 270.3V301.4M819.5 278.1V301.8M820.5 288.3V306.7M821.5 278.6V311.1M822.5 275.7V311.3M823.5 278.4V314.6M824.5 280.5V308.8M825.5 278.6V312.8M826.5 283V311M827.5 265.3V308.7M828.5 270.6V318.5M829.5 274.9V305M830.5 285.6V305.3M831.5 271.8V315.5M832.5 268.7V316.9M833.5 289.1V311.4M834.5 280.6V302.8M835.5 271.2V313.7M836.5 274.3V303.9M837.5 286V298.9M838.5 276.6V310.4" stroke="#ea3052" stroke-opacity="0.23" stroke-width="1" fill="none"/>
<path d="M134.5 252.9V305.8M135.5 254V319.4M136.5 248.5V298.7M137.5 248.6V307.5M138.5 265.2V302.2M139.5 275.6V296.1M140.5 268.3V315M141.5 269V295.9M142.5 263.9V303.9M143.5 258.4V308M144.5 277.8V317.1M145.5 271.3V295.1M146.5 275.6V295.1M147.5 273V302.1M148.5 271.7V309.7M149.5 279.4V315.8M150.5 272.6V299.7M151.5 284.2V304.9M152.5 278.2V300.8M153.5 279.6V305.8M154.5 274.1V307.2M155.5 276.1V293.8M156.5 274.6V292.8M157.5 274.4V297.7M158.5 266V307.6M159.5 272.9V299.1M160.5 270.5V290.1M161.5 277.7V291.8M162.5 271.8V308.3M163.5 257.9V290.3M164.5 269.8V291M165.5 268.7V295.8M166.5 247.5V313.2M167.5 264.6V301.8M168.5 265.2V295.4M169.5 245.5V312.1M170.5 266.7V284.6M171.5 263V315.9M172.5 251.9V312.9M173.5 241.7V283.8M174.5 266.1V315.6M175.5 250.2V315.5M176.5 238V300.9M177.5 261.7V299.4M178.5 261.6V304.6M179.5 267.9V303.2M180.5 260.2V299M181.5 255.9V302.3M182.5 276.4V303.7M183.5 277.2V313.7M184.5 262.7V316.1M185.5 255.3V292.3M186.5 272.3V304.3M187.5 262.9V297.6M188.5 261.1V319.1M189.5 262.3V300.1M190.5 275.5V300.3M191.5 278.2V297.8M192.5 265.9V298.9M193.5 285V303.9M194.5 282V318.6M195.5 272.2V317.3M196.5 283V303M197.5 266.6V301.5M198.5 277.8V299.9M199.5 282.1V302.8M200.5 269.1V316.5M201.5 278.2V310.7M202.5 274.3V296.5M203.5 266.3V315.1M204.5 253.1V297.2M208.5 254.2V310.9M209.5 267.3V295.1M210.5 256.1V294.8M211.5 261V312.9M212.5 270.9V323.3M213.5 244.4V304.1M214.5 271.6V298.5M215.5 257.6V323.1M216.5 247.5V301.9M217.5 269.8V299.3M218.5 279.1V326.1M219.5 255V321.7M220.5 255.2V312.5M221.5 266.7V320.4M222.5 273.1V298.7M223.5 268.2V303.5M224.5 272.3V309.9M225.5 264.4V299.2M226.5 272.2V299.4M227.5 267.9V292.3M228.5 266.2V304.5M229.5 274.2V298M230.5 267.4V289.7M231.5 262.8V300.2M232.5 260.4V292.1M233.5 263.4V299.6M234.5 265.6V303.4M235.5 267.8V286.3M236.5 269.5V306.7M237.5 267.5V312.1M238.5 266V296.7M239.5 272.1V293.6M240.5 277.3V293.5M241.5 272.4V296.6M242.5 264.4V292.5M243.5 262.9V307.9M244.5 251.6V316.7M245.5 265.8V313.1M246.5 272.9V314.1M247.5 259.7V293.1M248.5 262.1V294.3M249.5 263.3V307.9M250.5 276.9V299.6M251.5 260.7V293.5M252.5 274.2V292.2M253.5 279V311.5M254.5 268.8V301.4M255.5 276.1V300.1M256.5 277.8V306.6M257.5 263.1V308.4M258.5 273.6V308.9M259.5 261.9V311.2M260.5 277.6V297M261.5 271.1V300.9M262.5 269.7V296.9M263.5 263.8V307.5M264.5 278.2V307.7M265.5 263.6V314.6M266.5 276.1V299.2M267.5 280.4V315.7M268.5 277.2V305.1M269.5 273.1V308.5M270.5 276.7V293.5M271.5 267.6V309.6M272.5 279.9V307.3M273.5 276.9V312.9M274.5 274.4V317.3M275.5 269.6V314.8M276.5 281.6V304M277.5 271V307.6M278.5 271.3V314.5M279.5 263.2V313M280.5 265.3V295.9M281.5 268V295M282.5 262.5V307.4M283.5 267.1V307.1M284.5 272.7V299.2M285.5 262.7V308.9M286.5 270V303M287.5 253.7V318.2M288.5 261V304.4M289.5 274.1V300M290.5 257.9V299.8M291.5 260.8V315.3M292.5 246.9V322.7M293.5 274.8V295.7M294.5 269.4V317.5M295.5 247.4V290.8M296.5 258.2V301.9M297.5 269.6V313.9M298.5 273.9V302.3M299.5 265.3V306.4M300.5 268.5V298.5M301.5 272.5V292.6M302.5 270.7V311.7M303.5 258.8V297.7M304.5 259.8V305.7M305.5 277V291.1M306.5 271.7V305M307.5 277.3V292.4M308.5 263.5V312.7M309.5 251.8V315.4M310.5 254.4V298.9M311.5 255.4V294.1M312.5 260.4V309.6M313.5 260.2V309.1M314.5 273.5V306.8M315.5 270.6V295.4M316.5 277.4V310.8M317.5 273.3V313.3M318.5 273.3V310.7M319.5 266.9V295M320.5 270.9V299.8M321.5 275.6V309.7M322.5 279.3V311.1M323.5 279.9V313.9M324.5 272.5V314.5M325.5 265.5V305.3M326.5 265.7V314.8M327.5 257.6V318.7M328.5 256.3V308.9M329.5 280.2V306.9M330.5 264.8V297M331.5 263.4V302.5M332.5 271.2V308.8M333.5 269.8V291M334.5 270.1V297.1M335.5 254.9V311.2M336.5 267.2V289.9M337.5 271.5V295.7M338.5 275.3V291.8M339.5 254.4V295.5M340.5 277.3V298.2M341.5 274V295.8M342.5 266V305.5M343.5 264V292.4M344.5 277.1V303.3M345.5 281.9V305.5M346.5 268.5V310M347.5 264.5V309.3M348.5 266.6V310.8M349.5 277.9V296.3M350.5 276.8V305.1M351.5 279.7V307.3M352.5 273V307.8M353.5 277.3V298.2M354.5 276.4V317M355.5 276.4V311.2M356.5 281.7V315.5M357.5 284V311.9M358.5 269.6V307.6M359.5 269.9V316.4M360.5 267.3V306.2M361.5 282.7V305.1M362.5 279.4V304.8M363.5 274.5V314.2M364.5 275.3V305.3M365.5 275.1V304.2M381.5 276.8V299.8M382.5 278.6V308.3M383.5 277V293.8M384.5 276.2V316M385.5 274.6V307.9M386.5 256V324.2M387.5 273.1V310.1M388.5 249V294.6M389.5 277.4V296.8M390.5 272.9V315.6M391.5 254.7V290.9M392.5 258.8V299.5M393.5 265.8V308.9M394.5 271.3V288M395.5 263.6V294.7M396.5 274.8V292.7M397.5 268.3V290.1M398.5 277.1V288.2M399.5 275.3V304.7M400.5 267V294.6M401.5 271.5V292.9M402.5 265.5V294.7M403.5 273.3V297.9M404.5 279.9V296.4M405.5 272.6V296.4M406.5 275.7V304.5M407.5 266.6V291.6M408.5 272.3V300.2M409.5 270.2V293.4M410.5 269.4V297.6M411.5 278.4V294.4M412.5 269.9V300M413.5 265.9V289.5M414.5 268.4V303.7M415.5 268.8V301.1M416.5 269.1V307.7M417.5 263.7V305.1M418.5 278.8V305.1M419.5 266.9V292.2M420.5 263V292.9M421.5 273.6V319.5M422.5 274.7V304.5M423.5 272V307.9M424.5 269.2V300.8M425.5 250.8V293.5M426.5 275.3V304.2M427.5 252.4V294.1M428.5 262.3V319M429.5 246.2V318.9M430.5 263.9V310.3M431.5 268.5V300.1M432.5 243.7V294.3M433.5 241V297.1M434.5 268.9V310.1M435.5 264.5V300.4M436.5 265.5V303.2M437.5 272.5V299.4M438.5 260.6V306.1M439.5 280.3V293.4M440.5 279.1V300.6M441.5 273.8V294.6M442.5 266.7V294.5M443.5 273.5V300.9M444.5 268.7V291.8M445.5 260.1V304.3M446.5 253V302.2M447.5 268.1V309.6M448.5 267.4V293.9M449.5 278.9V293.1M450.5 268.5V292.3M451.5 273.2V290.5M452.5 260.7V299.1M453.5 257V298.8M454.5 275.4V290.3M455.5 265.7V304.4M456.5 271.4V288.4M457.5 261.5V300.4M458.5 260.9V307.8M459.5 261.2V297.9M460.5 269.2V313.5M461.5 258.1V318.1M462.5 265.4V301.4M463.5 262.2V304M464.5 258.4V297.3M465.5 257.7V309.8M466.5 262.8V307.2M467.5 268.2V301.2M468.5 255.5V293.8M469.5 267V305.8M470.5 265V293.4M471.5 273.5V315.1M472.5 253.3V305.8M473.5 261.5V303.4M474.5 261.2V305.4M475.5 263.3V298.8M476.5 261.7V299.1M477.5 269.5V300.9M478.5 272.6V312.2M479.5 276V298M480.5 263.7V299.4M481.5 274V309.5M482.5 263.7V293.8M483.5 260.2V309.7M484.5 265.5V290.4M485.5 266.1V302.8M486.5 264.2V306.7M487.5 258.2V288.2M488.5 272.2V289.3M489.5 254.8V290.3M490.5 271.9V293M491.5 256.5V312.5M492.5 272.3V295.8M493.5 261.9V293.8M494.5 264.6V306M495.5 277.7V316.4M496.5 271.4V311.7M497.5 277.4V306M498.5 258.2V306.9M499.5 261V291M500.5 275V295.1M501.5 266.5V301.6M502.5 267.1V302.1M503.5 273.5V299.5M504.5 268.6V305.7M505.5 274.2V291.3M506.5 258.2V300.4M507.5 265.6V289.3M508.5 275.3V299.9M509.5 269.1V290.8M510.5 272.5V298.2M511.5 264.6V286.4M512.5 263.8V308.1M513.5 254.9V303.5M514.5 270.2V304.1M515.5 247.9V303.2M516.5 242.6V314M517.5 271.4V294M518.5 273V288.2M519.5 247.9V312.5M520.5 263.1V297.4M521.5 261.2V288.8M522.5 254.9V299.4M523.5 261.2V303.9M524.5 262.2V298.9M525.5 269.3V297.2M526.5 278V315M527.5 264.2V310.4M528.5 260.2V313.5M529.5 280.8V319.9M530.5 268.4V302.2M531.5 262.5V315.7M532.5 277.4V301.6M533.5 264.7V293.4M534.5 260.3V311.5M535.5 264.6V298.5M536.5 253.3V315.1M537.5 265.7V309.1M538.5 278V318M539.5 257.3V298.2M540.5 265.1V317.3M541.5 271.4V298.8M542.5 260.9V321M543.5 256V319.8M544.5 277.5V311.2M545.5 271.8V289M546.5 253.4V309.7M547.5 266.3V298.1M548.5 254.3V296M549.5 265.6V304.7M550.5 261.7V305.3M551.5 275.4V303.1M552.5 264.2V297M553.5 273.7V313.9M554.5 270.9V293.5M555.5 254.1V316.5M556.5 271.9V300.7M557.5 256.3V302.8M558.5 270V292.1M559.5 271.6V313.4M560.5 246.9V292.3M561.5 264.6V295.1M562.5 262V310.6M563.5 263V305.6M564.5 271.5V301.5M565.5 256.2V307.2M566.5 270.9V291.5M567.5 253.8V304.2M568.5 264.8V302.7M569.5 266.7V300.4M570.5 268.5V310.6M571.5 272.1V293M572.5 262.3V305.3M573.5 275.3V303.9M574.5 275.3V305.2M575.5 280.2V300.3M576.5 266.9V302.7M577.5 269.2V301.2M578.5 257.8V307.4M579.5 263.7V297M580.5 263.3V301.5M581.5 268.4V302.7M582.5 269.1V292.5M583.5 267.1V304.2M584.5 274.4V300.5M585.5 276.3V292.7M586.5 272.5V288.7M587.5 274.4V297.3M588.5 264.4V292.3M589.5 274.3V299.4M590.5 273.8V308.1M591.5 273.1V293.2M592.5 263.8V290.9M593.5 253.4V313.4M594.5 276.1V298.3M595.5 266.4V312.9M596.5 274.3V299.4M597.5 270.8V307M598.5 268.4V299.3M599.5 272.9V323.8M600.5 272.4V300.3M601.5 250.8V307.8M602.5 272.1V317.5M603.5 258.1V319.4M651.5 282V313M652.5 279.5V306.2M653.5 292.8V313M654.5 281.8V323.7M655.5 277.3V321.1M656.5 275.1V313.4M657.5 271V328.8M658.5 280.6V305.6M659.5 264.2V311.8M660.5 270.8V313M661.5 264.3V305.9M662.5 274.5V328.7M663.5 265.1V321.7M664.5 286.7V326.1M665.5 274.7V324.1M666.5 267.9V311.2M667.5 273.2V300.4M668.5 276.4V299.5M669.5 275.8V304.2M670.5 286.1V311.4M671.5 275.9V315.1M672.5 286.5V316M673.5 281.5V302.1M674.5 281.5V305.6M675.5 281.8V311.9M676.5 287.1V314.6M677.5 287.4V320.1M678.5 280.7V306.7M679.5 274.3V318.3M680.5 277V320.3M681.5 277.8V313.2M682.5 276.7V314.7M683.5 273.3V323.8M684.5 271.8V311.2M685.5 276.9V316.7M686.5 290V312.1M687.5 276.8V314.2M688.5 275.1V312.8M689.5 290.8V307.2M690.5 280V302.9M691.5 286V309.7M692.5 286.1V305.5M693.5 287.3V306.4M694.5 280.7V303.4M695.5 285.5V301.7M696.5 287.4V309.6M697.5 289.8V309.1M698.5 287.6V300.6M699.5 283.8V308.5M700.5 284V302M701.5 277V318.7M702.5 285.1V307.1M703.5 271V310.4M704.5 282.1V312.8M705.5 265.3V299.9M706.5 269.4V314.6M707.5 274.5V324M708.5 262.5V308.6M709.5 268.3V312.4M710.5 279.6V319.5M711.5 262.5V316.8M712.5 274.5V314.8M713.5 269.7V308.5M714.5 268.1V328.9M715.5 268.4V323.5M716.5 282.5V323.7M717.5 279.5V311.1M718.5 273.1V302.3M719.5 289.3V310.2M720.5 270.2V300.5M721.5 288.8V309.4M722.5 282.2V305.5M723.5 286.7V318M724.5 265V309.3M725.5 271.8V318.1M726.5 274V301.7M727.5 261.3V323M728.5 269.7V322.2M729.5 265.5V315.4M730.5 264.6V323.9M731.5 265.4V318.1M732.5 287.1V321.3M733.5 281.8V324.1M734.5 273.4V310.1M735.5 271V325M736.5 267.1V306M737.5 281.1V316.8M738.5 270.9V319.5M739.5 275.4V314.3M740.5 279.9V308.6M741.5 281.4V299.2M742.5 280.3V305.2M743.5 273.8V308.6M744.5 288.7V299.8M745.5 288.9V307.7M746.5 288.4V299.7M747.5 286.3V301M748.5 277.1V303.1M749.5 281.9V309M750.5 284.1V309M751.5 273.5V305.3M752.5 285.8V305.6M753.5 274.9V313.2M754.5 280.1V310.1M755.5 281.5V313.7M756.5 282.6V318.4M757.5 286.8V312.7M758.5 265.7V323.9M759.5 265.4V316.4M760.5 276.1V314.4M761.5 279.6V319.4M762.5 264.4V315M763.5 271.7V300.8M764.5 282.3V316.4M765.5 284.3V315.3M766.5 272.9V313.3M767.5 275.6V310.5M768.5 275.1V319.6M769.5 288.5V304.9M770.5 292.6V305.9M771.5 286V313.4M772.5 278.4V317.8M773.5 279.1V321.4M774.5 286.4V323.5M775.5 276.6V304.4M776.5 282.3V313.2M777.5 285.9V315.6M778.5 278.9V311M779.5 281.4V316.4M780.5 289V309M781.5 294.9V317.5M782.5 284.4V319.3M783.5 285V308.9M784.5 287.5V307.3M785.5 286.9V302.9M786.5 273.6V317.4M787.5 274.7V321.3M788.5 267.6V304.5M789.5 266.3V302.4M790.5 281.2V319.2M791.5 266.7V302.2M792.5 282.8V319.8M793.5 276.7V310M794.5 275.6V322M795.5 272.4V308.5M796.5 262V314.4M797.5 275.4V306.1M798.5 274.7V309.5M799.5 283.9V299.5M800.5 262.6V310.8M801.5 274V303.9M802.5 278.6V316M803.5 284.4V309.5M804.5 280.3V301M805.5 276.1V317.3M806.5 270.3V321.6M807.5 283.5V317.1M808.5 271V315.9M809.5 268.6V318.1M810.5 280.9V307.8M811.5 281.3V319M812.5 272.6V309.6M813.5 275.8V312.6M814.5 273.1V300.8M815.5 271.8V302.9M816.5 283.3V314.7M817.5 274.9V301.4M818.5 267.3V298.1M819.5 276.5V303.6M820.5 288.2V297.8M821.5 284.6V309.3M822.5 269.7V312.8M823.5 275.4V303.4M824.5 273.9V303.4M825.5 266.3V321.1M826.5 282.5V307.2M827.5 261.7V301.9M828.5 266.1V304.7M829.5 265.3V318.2M830.5 281.4V318.3M831.5 282.9V304.4M832.5 285.6V298.8M833.5 277V313.7M834.5 289.6V307.2M835.5 271V303.6M836.5 283.3V301.2M837.5 283.5V305.2M838.5 289.3V306.5" stroke="#ea3052" stroke-opacity="0.23" stroke-width="1" fill="none"/>
</svg></body></html>
